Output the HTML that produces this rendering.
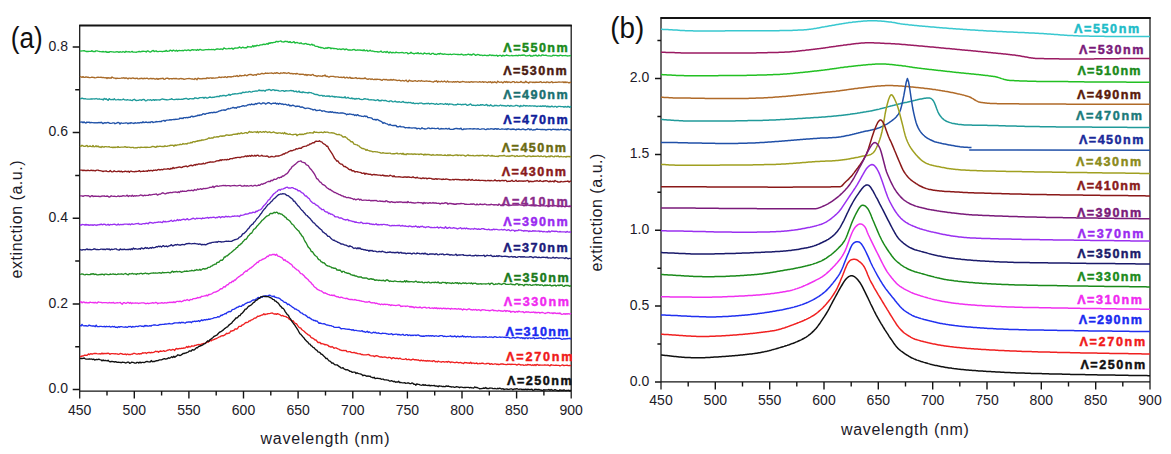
<!DOCTYPE html>
<html><head><meta charset="utf-8"><title>extinction spectra</title>
<style>
html,body{margin:0;padding:0;background:#fff;}
body{width:1171px;height:454px;overflow:hidden;}
svg{display:block;font-family:"Liberation Sans", sans-serif;}
</style></head>
<body>
<svg width="1171" height="454" viewBox="0 0 1171 454">
<rect width="1171" height="454" fill="#fff"/>
<path d="M79.2 25.6 L571.8000000000001 25.6" stroke="#141414" stroke-width="2" fill="none"/>
<path d="M79.7 25.0 L79.7 398.5 M571.2 25.0 L571.2 398.5 M79.7 391.0 L571.2 391.0" stroke="#141414" stroke-width="1.25" fill="none"/>
<path d="M107.0 391.0 L107.0 395.5 M134.3 391.0 L134.3 398.5 M161.6 391.0 L161.6 395.5 M188.9 391.0 L188.9 398.5 M216.2 391.0 L216.2 395.5 M243.5 391.0 L243.5 398.5 M270.8 391.0 L270.8 395.5 M298.1 391.0 L298.1 398.5 M325.5 391.0 L325.5 395.5 M352.8 391.0 L352.8 398.5 M380.1 391.0 L380.1 395.5 M407.4 391.0 L407.4 398.5 M434.7 391.0 L434.7 395.5 M462.0 391.0 L462.0 398.5 M489.3 391.0 L489.3 395.5 M516.6 391.0 L516.6 398.5 M543.9 391.0 L543.9 395.5" stroke="#141414" stroke-width="1.4" fill="none"/>
<path d="M72.7 389.5 L79.7 389.5 M75.2 346.7 L79.7 346.7 M72.7 303.9 L79.7 303.9 M75.2 261.1 L79.7 261.1 M72.7 218.2 L79.7 218.2 M75.2 175.4 L79.7 175.4 M72.7 132.6 L79.7 132.6 M75.2 89.8 L79.7 89.8 M72.7 47.0 L79.7 47.0" stroke="#141414" stroke-width="1.5" fill="none"/>
<text x="79.7" y="414.5" text-anchor="middle" font-size="14" fill="#1c1a28">450</text>
<text x="134.3" y="414.5" text-anchor="middle" font-size="14" fill="#1c1a28">500</text>
<text x="188.9" y="414.5" text-anchor="middle" font-size="14" fill="#1c1a28">550</text>
<text x="243.5" y="414.5" text-anchor="middle" font-size="14" fill="#1c1a28">600</text>
<text x="298.1" y="414.5" text-anchor="middle" font-size="14" fill="#1c1a28">650</text>
<text x="352.8" y="414.5" text-anchor="middle" font-size="14" fill="#1c1a28">700</text>
<text x="407.4" y="414.5" text-anchor="middle" font-size="14" fill="#1c1a28">750</text>
<text x="462.0" y="414.5" text-anchor="middle" font-size="14" fill="#1c1a28">800</text>
<text x="516.6" y="414.5" text-anchor="middle" font-size="14" fill="#1c1a28">850</text>
<text x="571.2" y="414.5" text-anchor="middle" font-size="14" fill="#1c1a28">900</text>
<text x="68" y="393.1" text-anchor="end" font-size="14" fill="#1c1a28">0.0</text>
<text x="68" y="307.5" text-anchor="end" font-size="14" fill="#1c1a28">0.2</text>
<text x="68" y="221.8" text-anchor="end" font-size="14" fill="#1c1a28">0.4</text>
<text x="68" y="136.2" text-anchor="end" font-size="14" fill="#1c1a28">0.6</text>
<text x="68" y="50.6" text-anchor="end" font-size="14" fill="#1c1a28">0.8</text>
<text x="260.5" y="443.8" textLength="129" lengthAdjust="spacing" font-size="16" fill="#1c1a28">wavelength (nm)</text>
<text transform="translate(22.2,278.4) rotate(-90)" x="0" y="0" textLength="118" lengthAdjust="spacing" font-size="16" fill="#1c1a28">extinction (a.u.)</text>
<text x="10.8" y="47.6" textLength="32" lengthAdjust="spacingAndGlyphs" font-size="30" fill="#111">(a)</text>
<path d="M80.0 50.8 L81.0 51.1 L82.0 50.9 L83.0 50.9 L84.0 50.7 L85.0 51.0 L86.0 51.5 L87.0 51.3 L88.0 51.5 L89.0 51.3 L90.0 51.4 L91.0 51.3 L92.0 50.7 L93.0 51.6 L94.0 51.5 L95.0 51.6 L96.0 50.8 L97.0 50.9 L98.0 51.2 L99.0 51.4 L100.0 51.7 L101.0 51.6 L102.0 51.8 L103.0 51.5 L104.0 51.8 L105.0 51.9 L106.0 51.5 L107.0 52.4 L108.0 52.0 L109.0 52.3 L110.0 51.7 L111.0 51.6 L112.0 51.8 L113.0 51.9 L114.0 52.2 L115.0 52.1 L116.0 51.8 L117.0 51.7 L118.0 51.8 L119.0 52.4 L120.0 51.7 L121.0 52.1 L122.0 52.2 L123.0 51.5 L124.0 52.0 L125.0 52.4 L126.0 51.3 L127.0 51.8 L128.0 51.9 L129.0 51.6 L130.0 52.1 L131.1 51.9 L132.1 51.4 L133.1 52.2 L134.1 52.1 L135.1 52.2 L136.1 52.3 L137.1 51.9 L138.1 51.8 L139.1 51.3 L140.1 52.0 L141.1 51.5 L142.1 51.5 L143.1 51.2 L144.1 51.3 L145.2 51.4 L146.2 52.0 L147.2 50.9 L148.2 51.0 L149.2 51.6 L150.2 52.0 L151.2 51.7 L152.2 50.8 L153.2 50.5 L154.2 51.5 L155.2 51.1 L156.2 50.9 L157.2 51.6 L158.2 51.6 L159.3 51.3 L160.3 51.3 L161.3 51.3 L162.3 51.7 L163.3 51.3 L164.3 51.2 L165.3 51.2 L166.3 50.4 L167.3 51.4 L168.3 51.2 L169.3 51.1 L170.3 50.1 L171.3 50.6 L172.3 51.1 L173.4 50.1 L174.4 50.6 L175.4 51.0 L176.4 50.2 L177.4 51.2 L178.4 50.7 L179.4 50.5 L180.4 50.6 L181.4 50.7 L182.4 50.5 L183.4 50.8 L184.4 50.1 L185.4 50.2 L186.4 50.6 L187.5 50.2 L188.5 49.9 L189.5 50.5 L190.5 50.6 L191.5 49.9 L192.5 49.6 L193.5 50.0 L194.5 49.9 L195.5 49.9 L196.5 50.4 L197.5 49.5 L198.6 50.3 L199.6 49.4 L200.6 49.5 L201.6 50.0 L202.6 50.1 L203.6 50.0 L204.6 49.8 L205.7 49.7 L206.7 49.6 L207.7 49.7 L208.7 49.4 L209.7 49.6 L210.7 49.6 L211.7 49.4 L212.8 49.6 L213.8 49.5 L214.8 50.0 L215.8 49.3 L216.8 49.0 L217.8 49.0 L218.8 49.1 L219.9 49.4 L220.9 48.9 L221.9 49.1 L222.9 49.5 L223.9 47.9 L224.9 48.4 L225.9 48.8 L227.0 48.8 L228.0 48.7 L229.0 48.4 L230.0 48.7 L231.0 48.5 L232.1 48.2 L233.1 49.2 L234.2 48.4 L235.2 48.0 L236.2 48.1 L237.3 48.0 L238.3 47.9 L239.3 46.9 L240.4 47.6 L241.4 48.1 L242.5 47.2 L243.5 47.5 L244.5 47.8 L245.6 47.6 L246.6 47.8 L247.6 46.5 L248.7 46.9 L249.7 46.8 L250.8 47.0 L251.8 47.0 L252.8 45.5 L253.8 46.7 L254.8 45.6 L255.8 46.2 L256.9 45.2 L257.9 45.6 L258.9 45.7 L259.9 45.0 L260.9 44.9 L261.9 44.9 L262.9 44.5 L263.9 44.2 L264.9 44.5 L266.0 44.1 L267.0 43.5 L268.0 44.3 L269.0 42.8 L270.0 43.3 L271.0 42.7 L272.0 42.7 L273.0 42.7 L274.0 42.4 L275.0 42.4 L276.0 41.5 L277.0 41.4 L278.0 42.0 L279.0 41.3 L280.0 41.2 L281.0 41.0 L282.0 41.9 L283.0 41.8 L284.0 42.0 L285.0 41.2 L286.0 41.6 L287.0 41.3 L288.0 42.0 L289.0 42.4 L290.0 41.6 L291.0 42.6 L292.0 42.5 L293.0 42.2 L294.0 41.7 L295.0 43.0 L296.0 42.6 L297.0 42.5 L298.0 42.9 L299.0 43.1 L300.0 43.5 L301.0 42.8 L302.0 43.7 L303.0 43.9 L304.0 44.0 L305.0 43.6 L306.0 43.5 L307.0 44.3 L308.0 44.2 L309.0 44.3 L310.0 45.0 L311.0 44.7 L312.0 44.2 L313.0 45.2 L314.0 44.9 L315.0 46.2 L316.0 46.3 L317.0 46.3 L318.0 46.7 L319.0 47.3 L320.0 47.2 L321.0 47.8 L322.0 47.5 L323.0 48.0 L324.0 48.3 L325.0 48.5 L326.0 47.7 L327.0 48.4 L328.0 47.5 L329.0 47.8 L330.0 47.6 L331.0 48.8 L332.0 48.0 L333.0 48.5 L334.0 48.5 L335.0 48.7 L336.0 48.6 L337.0 48.9 L338.0 49.5 L339.0 49.0 L340.0 49.2 L341.0 49.5 L342.0 49.1 L343.0 48.8 L344.0 49.2 L345.0 49.8 L346.0 48.9 L347.0 49.4 L348.0 50.0 L349.0 50.0 L350.0 49.8 L351.0 50.1 L352.0 50.0 L353.0 49.6 L354.0 49.5 L355.0 49.9 L356.0 50.5 L357.0 50.0 L358.0 50.0 L359.0 50.1 L360.0 49.9 L361.0 50.4 L362.0 50.1 L363.0 50.7 L364.0 49.8 L365.0 50.8 L366.0 50.6 L367.0 50.2 L368.0 51.2 L369.0 50.9 L370.0 50.2 L371.0 50.8 L372.0 51.2 L373.0 51.0 L374.0 51.5 L375.0 51.6 L376.0 51.6 L377.0 51.6 L378.0 52.0 L379.0 51.8 L380.0 51.8 L381.0 51.0 L382.0 52.1 L383.0 52.3 L384.0 51.8 L385.0 51.7 L386.0 52.6 L387.0 51.4 L388.0 52.2 L389.0 53.0 L390.0 51.9 L391.0 52.5 L392.0 52.9 L393.0 52.3 L394.0 52.6 L395.0 52.8 L396.0 52.2 L397.0 52.5 L398.0 52.7 L399.0 52.9 L400.0 52.7 L401.0 52.6 L402.0 52.4 L403.0 52.7 L404.0 53.1 L405.0 52.9 L406.0 52.6 L407.0 52.6 L408.0 53.9 L409.0 53.4 L410.0 53.3 L411.0 52.2 L412.1 53.3 L413.1 53.3 L414.1 53.8 L415.1 53.4 L416.1 53.2 L417.1 53.5 L418.1 52.6 L419.1 53.7 L420.1 53.5 L421.1 53.2 L422.2 53.9 L423.2 54.1 L424.2 53.0 L425.2 53.3 L426.2 53.7 L427.2 53.7 L428.2 53.5 L429.2 53.3 L430.2 54.4 L431.2 54.1 L432.2 53.3 L433.3 53.3 L434.3 54.4 L435.3 54.2 L436.3 54.5 L437.3 54.2 L438.3 53.6 L439.3 54.1 L440.3 53.3 L441.3 53.8 L442.3 54.0 L443.3 54.3 L444.4 53.9 L445.4 54.1 L446.4 54.3 L447.4 54.3 L448.4 54.5 L449.4 54.3 L450.4 54.2 L451.4 54.6 L452.4 54.4 L453.4 54.1 L454.5 54.2 L455.5 54.4 L456.5 54.4 L457.5 54.5 L458.5 54.5 L459.5 54.6 L460.5 54.5 L461.5 54.1 L462.5 54.7 L463.5 55.0 L464.5 54.8 L465.6 54.6 L466.6 54.8 L467.6 54.4 L468.6 54.1 L469.6 54.8 L470.6 54.5 L471.6 55.1 L472.6 54.4 L473.6 53.9 L474.6 54.5 L475.6 55.4 L476.7 54.8 L477.7 54.5 L478.7 54.7 L479.7 55.2 L480.7 55.2 L481.7 55.1 L482.7 55.6 L483.7 55.3 L484.7 55.1 L485.7 55.3 L486.8 55.7 L487.8 55.5 L488.8 55.5 L489.8 54.8 L490.8 55.1 L491.8 55.5 L492.8 55.1 L493.8 55.6 L494.8 55.5 L495.8 55.6 L496.8 55.2 L497.8 56.2 L498.8 55.7 L499.8 55.3 L500.8 55.4 L501.8 56.3 L502.8 55.2 L503.8 55.7 L504.8 55.7 L505.8 55.4 L506.8 55.0 L507.8 55.5 L508.8 55.6 L509.8 55.8 L510.8 55.7 L511.9 55.5 L512.9 55.8 L513.9 55.7 L514.9 55.6 L515.9 55.5 L516.9 55.4 L517.9 55.8 L518.9 55.2 L519.9 55.3 L520.9 55.5 L521.9 55.0 L522.9 55.4 L523.9 54.9 L524.9 55.3 L525.9 55.8 L526.9 55.8 L527.9 55.6 L528.9 55.5 L529.9 55.1 L530.9 56.2 L531.9 55.8 L532.9 56.0 L533.9 55.3 L534.9 55.6 L535.9 55.0 L536.9 55.9 L537.9 56.0 L538.9 55.0 L539.9 55.6 L540.9 55.9 L541.9 55.0 L542.9 55.0 L543.9 55.3 L544.9 55.4 L545.9 55.2 L546.9 55.7 L547.9 55.8 L548.9 55.9 L549.9 55.9 L550.9 56.2 L552.0 56.1 L553.0 55.2 L554.0 55.5 L555.0 55.3 L556.0 55.3 L557.0 55.7 L558.0 55.7 L559.0 55.9 L560.0 55.2 L561.0 55.3 L562.0 55.7 L563.0 55.7 L564.0 55.6 L565.0 55.7 L566.0 55.5 L567.0 56.0 L568.0 55.9 L569.0 55.8 L570.0 55.6 L571.0 55.7" stroke="#1cbc3c" stroke-width="1.35" fill="none" stroke-linejoin="round"/>
<path d="M80.0 76.2 L81.0 76.9 L82.0 77.3 L83.0 76.7 L84.0 77.3 L85.0 77.3 L86.0 76.8 L87.0 77.2 L88.0 77.2 L89.0 77.5 L90.0 77.6 L91.0 77.4 L92.0 77.1 L93.0 77.4 L94.0 77.5 L95.0 77.8 L96.0 77.6 L97.0 77.3 L98.0 77.1 L99.0 77.4 L100.0 77.3 L101.0 77.2 L102.0 77.6 L103.0 77.5 L104.0 77.7 L105.0 77.9 L106.0 77.6 L107.0 78.6 L108.0 77.6 L109.0 78.2 L110.0 77.8 L111.0 78.2 L112.0 77.0 L113.0 77.6 L114.0 78.0 L115.0 78.1 L116.0 78.7 L117.0 78.1 L118.0 78.4 L119.0 78.3 L120.0 78.3 L121.0 78.2 L122.0 78.0 L123.0 78.2 L124.0 77.7 L125.0 78.5 L126.0 77.8 L127.0 78.2 L128.0 78.9 L129.0 78.1 L130.0 78.2 L131.0 78.6 L132.0 78.2 L133.0 78.0 L134.0 78.4 L135.0 78.5 L136.0 78.5 L137.0 78.0 L138.0 78.9 L139.0 78.9 L140.0 78.4 L141.0 78.5 L142.0 78.2 L143.0 78.9 L144.0 78.2 L145.0 78.7 L146.0 78.3 L147.0 78.2 L148.0 78.7 L149.0 79.0 L150.0 78.5 L151.0 78.3 L152.0 78.8 L153.0 78.5 L154.0 78.7 L155.0 79.1 L156.0 79.0 L157.0 78.4 L158.0 79.4 L159.0 78.6 L160.0 78.9 L161.0 78.4 L162.0 78.6 L163.0 78.1 L164.0 79.3 L165.0 79.2 L166.0 78.3 L167.0 78.2 L168.0 78.2 L169.0 79.1 L170.0 78.6 L171.0 78.7 L172.0 78.7 L173.0 78.7 L174.0 78.4 L175.0 78.8 L176.0 78.3 L177.0 78.8 L178.0 78.9 L179.0 79.0 L180.0 78.7 L181.0 78.5 L182.0 78.9 L183.0 78.7 L184.0 79.4 L185.0 79.1 L186.0 78.8 L187.0 78.7 L188.0 78.6 L189.0 78.5 L190.0 78.7 L191.0 78.9 L192.0 79.0 L193.0 79.0 L194.0 79.5 L195.0 78.5 L196.0 78.8 L197.0 79.7 L198.0 78.1 L199.0 78.5 L200.0 78.8 L201.0 78.7 L202.0 78.8 L203.0 78.5 L204.0 78.7 L205.0 78.5 L206.0 78.7 L207.0 77.8 L208.0 78.0 L209.0 78.3 L210.0 77.9 L211.0 77.8 L212.0 78.3 L213.0 77.8 L214.0 78.1 L215.0 78.1 L216.0 77.9 L217.0 77.9 L218.0 77.6 L219.0 77.0 L220.0 77.4 L221.0 77.5 L222.0 77.1 L223.0 77.2 L224.0 77.4 L225.0 76.7 L226.0 77.2 L227.0 77.5 L228.0 76.6 L229.0 76.8 L230.0 76.6 L231.0 77.1 L232.0 76.6 L233.0 76.7 L234.0 76.1 L235.0 76.2 L236.0 76.2 L237.0 75.5 L238.0 76.5 L239.0 76.2 L240.0 75.2 L241.0 76.0 L242.0 75.6 L243.0 75.7 L244.0 75.6 L245.0 74.9 L246.0 75.3 L247.0 75.8 L248.0 75.0 L249.0 74.7 L250.0 74.5 L251.0 74.5 L252.1 74.9 L253.1 75.3 L254.1 74.8 L255.1 74.6 L256.2 75.2 L257.2 74.1 L258.2 74.0 L259.3 74.3 L260.3 74.2 L261.3 73.5 L262.4 73.4 L263.4 73.8 L264.4 73.7 L265.4 73.0 L266.5 73.3 L267.5 73.1 L268.5 73.4 L269.6 73.2 L270.6 73.1 L271.6 73.0 L272.6 73.4 L273.7 73.5 L274.7 72.9 L275.7 73.3 L276.7 72.7 L277.7 73.0 L278.7 73.3 L279.8 73.6 L280.8 72.9 L281.8 73.1 L282.8 73.2 L283.8 72.6 L284.8 73.2 L285.8 73.0 L286.8 73.5 L287.8 73.0 L288.9 72.7 L289.9 73.5 L290.9 73.7 L291.9 73.4 L292.9 74.0 L293.9 73.7 L294.9 73.6 L295.9 74.1 L296.9 73.4 L297.9 73.8 L299.0 74.1 L300.0 74.5 L301.0 74.2 L302.0 74.4 L303.0 74.2 L304.0 74.6 L305.0 75.1 L306.0 74.4 L307.0 75.5 L308.0 74.6 L309.0 74.9 L310.0 75.0 L311.0 75.4 L312.0 74.7 L313.0 74.5 L314.0 75.5 L315.0 75.7 L316.0 75.7 L317.0 76.5 L318.0 75.7 L319.0 75.8 L320.0 76.1 L321.0 76.0 L322.0 76.5 L323.0 75.6 L324.0 75.9 L325.0 74.9 L326.0 76.5 L327.0 76.1 L328.0 76.7 L329.0 77.2 L330.0 76.5 L331.0 76.4 L332.0 76.4 L333.0 76.4 L334.0 76.5 L335.0 77.0 L336.0 76.9 L337.0 76.9 L338.0 76.9 L339.0 77.4 L340.0 77.3 L341.0 77.1 L342.0 77.5 L343.0 77.3 L344.0 77.0 L345.0 78.0 L346.0 77.7 L347.0 77.2 L348.0 78.0 L349.0 77.8 L350.0 77.2 L351.0 78.4 L352.0 78.0 L353.0 78.3 L354.0 78.1 L355.0 78.0 L356.0 77.6 L357.0 78.5 L358.0 78.3 L359.0 78.2 L360.0 78.5 L361.0 78.5 L362.0 78.7 L363.0 78.4 L364.0 78.6 L365.0 77.9 L366.0 78.6 L367.0 79.0 L368.0 79.3 L369.0 78.8 L370.0 78.9 L371.0 79.5 L372.0 78.9 L373.0 79.4 L374.0 79.7 L375.0 79.2 L376.0 79.7 L377.0 79.1 L378.0 79.4 L379.0 79.4 L380.0 79.5 L381.0 79.9 L382.0 80.4 L383.1 79.4 L384.1 79.4 L385.1 79.9 L386.1 79.4 L387.1 80.0 L388.1 80.0 L389.1 79.8 L390.1 80.1 L391.1 79.4 L392.1 80.3 L393.1 79.5 L394.1 79.9 L395.2 80.0 L396.2 80.1 L397.2 80.6 L398.2 80.3 L399.2 80.2 L400.2 80.6 L401.2 81.0 L402.2 80.5 L403.2 80.7 L404.2 81.0 L405.2 80.7 L406.3 80.2 L407.3 81.6 L408.3 81.5 L409.3 80.1 L410.3 80.8 L411.3 81.0 L412.3 81.2 L413.3 81.2 L414.3 80.9 L415.3 80.6 L416.3 81.1 L417.4 81.4 L418.4 80.7 L419.4 80.8 L420.4 81.2 L421.4 80.5 L422.4 81.1 L423.4 81.1 L424.4 81.4 L425.4 81.1 L426.4 81.0 L427.4 81.2 L428.4 81.4 L429.5 81.2 L430.5 81.4 L431.5 81.7 L432.5 81.9 L433.5 82.1 L434.5 81.2 L435.5 81.4 L436.5 80.7 L437.5 82.2 L438.5 81.3 L439.5 81.6 L440.5 81.8 L441.5 81.1 L442.5 81.8 L443.5 81.6 L444.5 81.0 L445.5 81.8 L446.5 82.1 L447.5 81.0 L448.6 82.0 L449.6 81.8 L450.6 81.9 L451.6 81.9 L452.6 82.2 L453.6 81.7 L454.6 82.1 L455.6 81.6 L456.6 82.0 L457.6 81.5 L458.6 81.8 L459.6 82.4 L460.6 82.0 L461.6 81.8 L462.6 81.5 L463.6 81.6 L464.6 81.9 L465.6 82.2 L466.6 82.0 L467.6 82.1 L468.6 81.9 L469.6 82.4 L470.6 81.8 L471.6 81.7 L472.6 82.2 L473.6 82.0 L474.6 81.9 L475.7 81.8 L476.7 81.9 L477.7 82.2 L478.7 82.1 L479.7 81.6 L480.7 82.1 L481.7 82.1 L482.7 81.7 L483.7 82.3 L484.7 81.9 L485.7 81.9 L486.7 82.3 L487.7 82.5 L488.7 81.8 L489.7 82.2 L490.7 81.7 L491.7 82.9 L492.7 81.9 L493.7 82.5 L494.7 81.8 L495.7 82.4 L496.7 82.9 L497.7 81.2 L498.7 81.9 L499.7 82.3 L500.7 82.1 L501.7 81.9 L502.8 82.9 L503.8 82.1 L504.8 81.5 L505.8 82.4 L506.8 81.5 L507.8 82.5 L508.8 81.9 L509.8 82.2 L510.8 82.6 L511.8 82.2 L512.8 81.7 L513.8 81.6 L514.8 82.6 L515.8 82.4 L516.8 81.9 L517.8 82.5 L518.8 82.3 L519.8 82.4 L520.8 81.4 L521.8 82.1 L522.8 82.5 L523.8 82.4 L524.8 82.5 L525.8 81.3 L526.8 82.3 L527.8 82.4 L528.8 83.1 L529.8 81.9 L530.9 82.1 L531.9 82.2 L532.9 82.5 L533.9 82.1 L534.9 82.6 L535.9 82.0 L536.9 82.3 L537.9 82.1 L538.9 82.3 L539.9 82.0 L540.9 81.7 L541.9 82.6 L542.9 82.4 L543.9 82.1 L544.9 82.3 L545.9 82.6 L546.9 81.9 L547.9 82.2 L548.9 82.5 L549.9 82.5 L550.9 82.2 L551.9 81.6 L552.9 82.7 L553.9 82.4 L554.9 82.3 L555.9 82.2 L556.9 82.4 L558.0 82.2 L559.0 82.0 L560.0 82.1 L561.0 82.1 L562.0 82.1 L563.0 81.9 L564.0 82.6 L565.0 81.9 L566.0 82.6 L567.0 82.0 L568.0 82.5 L569.0 82.9 L570.0 82.5 L571.0 82.1" stroke="#a86a28" stroke-width="1.35" fill="none" stroke-linejoin="round"/>
<path d="M80.0 98.7 L81.0 98.8 L82.0 98.1 L83.0 98.5 L84.0 98.8 L85.0 98.6 L86.1 98.9 L87.1 99.1 L88.1 99.1 L89.1 99.2 L90.1 99.1 L91.1 98.8 L92.1 99.0 L93.1 98.9 L94.1 98.9 L95.1 99.0 L96.1 98.5 L97.1 99.0 L98.2 99.1 L99.2 98.8 L100.2 99.2 L101.2 99.4 L102.2 99.2 L103.2 100.0 L104.2 98.4 L105.2 99.3 L106.2 98.7 L107.2 99.7 L108.2 100.3 L109.2 98.6 L110.3 99.5 L111.3 99.7 L112.3 99.4 L113.3 99.7 L114.3 98.8 L115.3 99.9 L116.3 99.8 L117.3 99.7 L118.3 99.5 L119.3 99.9 L120.3 99.6 L121.3 99.8 L122.4 99.6 L123.4 99.0 L124.4 99.8 L125.4 99.9 L126.4 100.1 L127.4 99.6 L128.4 99.9 L129.4 100.1 L130.4 100.0 L131.4 100.4 L132.4 100.6 L133.4 99.6 L134.5 99.3 L135.5 100.3 L136.5 100.5 L137.5 100.3 L138.5 100.3 L139.5 99.8 L140.5 99.8 L141.5 100.3 L142.5 99.7 L143.5 99.4 L144.5 99.7 L145.5 100.9 L146.6 100.7 L147.6 99.8 L148.6 99.8 L149.6 100.1 L150.6 99.7 L151.6 100.5 L152.6 100.0 L153.6 99.6 L154.6 100.4 L155.6 99.7 L156.6 100.0 L157.6 99.9 L158.6 99.8 L159.7 100.0 L160.7 99.6 L161.7 99.2 L162.7 99.0 L163.7 99.3 L164.7 99.5 L165.7 99.7 L166.7 99.7 L167.7 99.8 L168.7 99.6 L169.7 99.3 L170.7 99.3 L171.7 98.7 L172.7 99.4 L173.8 99.6 L174.8 99.5 L175.8 99.3 L176.8 99.2 L177.8 99.5 L178.8 99.2 L179.8 99.4 L180.8 99.3 L181.8 99.1 L182.8 99.4 L183.8 98.7 L184.8 98.7 L185.8 98.5 L186.8 98.5 L187.9 99.2 L188.9 99.2 L189.9 98.6 L190.9 98.7 L191.9 98.9 L192.9 98.7 L193.9 98.7 L194.9 97.8 L195.9 98.0 L196.9 98.3 L197.9 98.6 L198.9 98.0 L199.9 97.6 L200.9 97.7 L202.0 97.6 L203.0 97.4 L204.0 98.2 L205.0 97.4 L206.0 97.5 L207.0 98.2 L208.0 97.8 L209.0 97.4 L210.0 97.0 L211.0 97.3 L212.0 97.6 L213.0 97.2 L214.0 97.3 L215.0 96.8 L216.0 96.8 L217.0 96.4 L218.0 96.5 L219.0 96.7 L220.0 95.6 L221.0 96.0 L222.0 95.9 L223.0 95.5 L224.0 95.4 L225.0 95.7 L226.0 96.0 L227.0 95.3 L228.0 95.1 L229.0 94.3 L230.0 95.4 L231.0 94.6 L232.0 94.4 L233.0 93.9 L234.0 94.1 L235.0 93.6 L236.0 93.9 L237.0 93.9 L238.0 93.6 L239.0 93.5 L240.0 93.0 L241.0 93.6 L242.0 92.8 L243.0 92.2 L244.0 92.6 L245.0 92.3 L246.0 92.0 L247.0 92.1 L248.0 92.2 L249.0 91.5 L250.0 91.7 L251.0 92.1 L252.0 91.8 L253.0 91.3 L254.0 91.3 L255.0 91.1 L256.0 91.0 L257.0 91.2 L258.0 90.8 L259.0 89.9 L260.0 90.7 L261.0 90.3 L262.0 90.8 L263.0 90.3 L264.0 90.5 L265.0 91.2 L266.0 90.1 L267.0 90.0 L268.0 89.9 L269.0 89.5 L270.0 89.7 L271.0 90.5 L272.0 90.1 L273.0 89.7 L274.0 89.8 L275.0 90.6 L276.0 90.1 L277.0 90.3 L278.0 90.5 L279.0 90.9 L280.0 91.1 L281.0 90.9 L282.0 90.6 L283.0 90.6 L284.0 91.2 L285.0 91.2 L286.0 90.6 L287.0 90.9 L288.0 90.9 L289.0 90.9 L290.0 90.7 L291.0 90.5 L292.0 90.9 L293.0 90.6 L294.0 91.6 L295.0 91.5 L296.0 91.0 L297.0 92.0 L298.0 91.9 L299.0 91.0 L300.0 92.4 L301.0 92.2 L302.0 92.7 L303.0 91.7 L304.0 92.4 L305.0 92.5 L306.0 92.6 L307.0 92.7 L308.0 93.1 L309.0 92.3 L310.0 92.6 L311.0 92.7 L312.0 93.2 L313.0 93.4 L314.0 94.0 L315.0 94.3 L316.0 94.5 L317.0 94.5 L318.0 94.8 L319.0 95.5 L320.0 95.6 L321.0 95.4 L322.0 95.4 L323.0 96.2 L324.0 95.5 L325.0 96.1 L326.0 96.3 L327.0 95.9 L328.0 96.4 L329.0 95.8 L330.0 96.7 L331.0 96.5 L332.0 96.0 L333.0 96.8 L334.0 96.4 L335.0 97.2 L336.0 96.7 L337.0 96.9 L338.0 97.2 L339.0 97.0 L340.0 97.3 L341.0 97.1 L342.0 97.7 L343.0 97.5 L344.0 97.7 L345.0 96.7 L346.0 98.2 L347.0 97.9 L348.0 97.3 L349.0 98.1 L350.0 98.3 L351.0 98.6 L352.0 97.9 L353.0 98.9 L354.0 98.4 L355.0 99.3 L356.0 98.5 L357.0 98.9 L358.0 98.6 L359.0 98.4 L360.0 99.3 L361.0 99.3 L362.0 99.6 L363.0 99.4 L364.0 99.0 L365.0 98.7 L366.0 99.1 L367.0 99.2 L368.0 99.2 L369.0 99.8 L370.0 99.8 L371.0 99.7 L372.0 99.9 L373.0 99.8 L374.0 100.0 L375.0 100.3 L376.0 100.5 L377.0 100.0 L378.0 99.7 L379.0 100.9 L380.0 100.5 L381.0 100.9 L382.0 100.0 L383.1 100.5 L384.1 100.7 L385.1 100.3 L386.1 100.7 L387.1 101.2 L388.1 101.4 L389.1 101.7 L390.1 100.9 L391.1 100.8 L392.1 101.5 L393.1 101.8 L394.1 101.6 L395.2 101.1 L396.2 101.9 L397.2 102.0 L398.2 102.0 L399.2 101.7 L400.2 102.1 L401.2 102.3 L402.2 101.9 L403.2 101.5 L404.2 102.4 L405.2 102.5 L406.3 102.4 L407.3 102.8 L408.3 102.3 L409.3 102.6 L410.3 102.5 L411.3 102.9 L412.3 103.3 L413.3 102.8 L414.3 103.6 L415.3 103.5 L416.3 103.3 L417.4 103.3 L418.4 103.8 L419.4 103.1 L420.4 103.2 L421.4 103.0 L422.4 103.5 L423.4 103.9 L424.4 103.7 L425.4 103.7 L426.4 103.5 L427.4 103.7 L428.4 103.2 L429.5 104.1 L430.5 103.6 L431.5 103.4 L432.5 103.6 L433.5 103.6 L434.5 104.2 L435.5 104.3 L436.5 103.5 L437.5 104.3 L438.5 104.3 L439.5 103.9 L440.5 103.6 L441.5 103.9 L442.5 103.9 L443.5 104.3 L444.5 104.1 L445.5 103.5 L446.5 104.4 L447.5 103.8 L448.6 104.7 L449.6 103.9 L450.6 104.1 L451.6 104.1 L452.6 104.3 L453.6 104.9 L454.6 104.8 L455.6 104.7 L456.6 104.7 L457.6 104.0 L458.6 104.4 L459.6 104.4 L460.6 104.3 L461.6 104.9 L462.6 104.4 L463.6 104.5 L464.6 104.4 L465.6 104.1 L466.6 105.0 L467.6 105.3 L468.6 104.9 L469.6 104.5 L470.6 103.9 L471.6 105.0 L472.6 105.4 L473.6 105.1 L474.6 105.3 L475.7 105.5 L476.7 105.4 L477.7 104.9 L478.7 105.4 L479.7 105.4 L480.7 104.6 L481.7 105.0 L482.7 104.7 L483.7 105.1 L484.7 105.4 L485.7 104.8 L486.7 104.5 L487.7 105.7 L488.7 105.4 L489.7 105.8 L490.7 104.8 L491.7 105.7 L492.7 106.1 L493.7 106.1 L494.7 105.3 L495.7 105.5 L496.7 105.4 L497.7 105.8 L498.7 105.8 L499.7 105.5 L500.7 105.0 L501.7 105.8 L502.8 105.4 L503.8 105.8 L504.8 105.6 L505.8 106.1 L506.8 106.0 L507.8 105.4 L508.8 105.7 L509.8 106.3 L510.8 105.5 L511.8 105.8 L512.8 106.1 L513.8 106.1 L514.8 105.9 L515.8 105.3 L516.8 105.3 L517.8 105.9 L518.8 105.9 L519.8 106.7 L520.8 105.5 L521.8 106.2 L522.8 106.1 L523.8 105.3 L524.8 105.6 L525.8 106.0 L526.8 105.7 L527.8 105.9 L528.8 106.1 L529.8 105.7 L530.9 106.1 L531.9 105.8 L532.9 105.8 L533.9 106.2 L534.9 105.8 L535.9 106.2 L536.9 106.6 L537.9 106.1 L538.9 106.1 L539.9 106.4 L540.9 106.0 L541.9 106.5 L542.9 105.7 L543.9 106.4 L544.9 106.0 L545.9 106.0 L546.9 106.9 L547.9 106.0 L548.9 106.9 L549.9 106.5 L550.9 106.8 L551.9 106.0 L552.9 106.8 L553.9 106.9 L554.9 106.4 L555.9 106.4 L556.9 107.3 L558.0 106.5 L559.0 106.3 L560.0 106.3 L561.0 106.7 L562.0 106.6 L563.0 106.6 L564.0 107.2 L565.0 106.5 L566.0 106.8 L567.0 107.1 L568.0 106.3 L569.0 107.0 L570.0 107.3 L571.0 106.2" stroke="#1e9a9a" stroke-width="1.35" fill="none" stroke-linejoin="round"/>
<path d="M80.0 122.1 L81.0 122.1 L82.0 121.9 L83.0 122.7 L84.0 121.9 L85.0 122.7 L86.0 123.1 L87.0 122.0 L88.0 122.5 L89.0 122.0 L90.0 122.9 L91.0 122.4 L92.0 122.6 L93.0 122.7 L94.0 122.9 L95.0 122.6 L96.0 122.8 L97.0 122.6 L98.0 122.9 L99.0 122.4 L100.0 122.9 L101.0 122.2 L102.0 122.8 L103.0 123.6 L104.0 123.0 L105.0 122.6 L106.0 123.1 L107.0 122.7 L108.0 122.5 L109.0 122.8 L110.0 123.4 L111.0 123.3 L112.0 123.1 L113.0 122.8 L114.0 122.8 L115.0 123.7 L116.0 123.3 L117.0 122.9 L118.0 122.5 L119.0 122.7 L120.0 124.1 L121.0 122.8 L122.0 123.2 L123.0 123.3 L124.0 123.2 L125.0 123.1 L126.0 122.8 L127.0 122.9 L128.0 123.8 L129.0 122.9 L130.0 123.5 L131.0 122.6 L132.0 123.1 L133.0 123.2 L134.0 123.5 L135.0 122.7 L136.0 123.2 L137.0 123.1 L138.0 122.7 L139.0 123.1 L140.0 122.6 L141.0 122.5 L142.0 122.8 L143.0 121.8 L144.0 122.6 L145.0 122.3 L146.0 122.0 L147.0 122.3 L148.0 122.7 L149.0 122.2 L150.0 122.7 L151.0 121.8 L152.0 121.6 L153.0 122.6 L154.0 122.1 L155.0 122.2 L156.0 121.5 L157.0 121.9 L158.0 121.6 L159.0 121.7 L160.0 121.4 L161.0 121.7 L162.0 120.9 L163.0 120.7 L164.0 120.4 L165.0 121.2 L166.0 120.4 L167.0 120.2 L168.0 120.1 L169.0 120.2 L170.0 119.7 L171.0 120.0 L172.0 119.7 L173.0 119.6 L174.0 119.3 L175.0 119.5 L176.0 119.2 L177.0 119.3 L178.0 119.2 L179.0 119.1 L180.0 118.0 L181.0 118.5 L182.0 118.2 L183.0 118.6 L184.0 117.6 L185.0 117.7 L186.0 117.7 L187.0 117.5 L188.0 117.8 L189.0 117.1 L190.0 117.4 L191.0 116.4 L192.0 116.1 L193.0 116.9 L194.0 116.5 L195.0 116.3 L196.0 116.0 L197.0 115.9 L198.0 115.1 L199.0 115.6 L200.0 114.9 L201.0 115.2 L202.0 114.7 L203.0 113.7 L204.0 113.8 L205.0 114.4 L206.0 113.7 L207.0 113.4 L208.0 113.4 L209.0 113.0 L210.0 112.7 L211.0 112.7 L212.0 112.5 L213.0 112.8 L214.0 112.1 L215.0 112.5 L216.0 112.3 L217.0 112.0 L218.0 111.6 L219.0 111.1 L220.0 110.8 L221.0 110.5 L222.0 110.1 L223.0 110.2 L224.0 109.8 L225.0 110.4 L226.0 109.8 L227.1 109.2 L228.1 108.5 L229.1 108.9 L230.1 108.6 L231.1 108.1 L232.1 107.9 L233.1 107.3 L234.2 108.0 L235.2 107.6 L236.2 108.3 L237.2 107.2 L238.2 106.9 L239.2 107.2 L240.2 106.6 L241.3 106.4 L242.3 106.0 L243.3 105.7 L244.3 106.2 L245.3 105.8 L246.3 105.9 L247.4 105.0 L248.4 104.9 L249.4 104.4 L250.4 104.9 L251.4 103.9 L252.4 104.5 L253.4 104.5 L254.5 104.5 L255.5 103.5 L256.5 104.1 L257.5 103.4 L258.5 103.2 L259.5 103.0 L260.5 103.8 L261.5 103.9 L262.5 103.0 L263.5 103.0 L264.5 103.1 L265.5 104.1 L266.5 103.6 L267.5 103.0 L268.5 102.6 L269.5 103.0 L270.5 103.7 L271.5 104.0 L272.5 103.3 L273.5 103.2 L274.5 103.4 L275.5 103.0 L276.5 104.0 L277.5 103.4 L278.5 104.2 L279.5 103.3 L280.5 103.6 L281.5 104.2 L282.6 103.9 L283.6 104.6 L284.6 104.4 L285.6 104.2 L286.7 104.9 L287.7 105.2 L288.7 104.4 L289.7 105.8 L290.8 105.5 L291.8 105.8 L292.8 105.1 L293.8 105.7 L294.9 106.0 L295.9 106.7 L296.9 106.0 L297.9 106.3 L299.0 106.1 L300.0 106.9 L301.0 107.3 L302.0 106.8 L303.0 107.3 L304.0 107.9 L305.0 108.5 L306.0 108.3 L307.0 108.2 L308.0 108.1 L309.0 108.3 L310.0 108.6 L311.0 109.1 L312.0 109.2 L313.0 110.0 L314.0 109.7 L315.0 109.4 L316.0 110.5 L317.0 110.5 L318.0 110.4 L319.0 110.3 L320.0 110.0 L321.0 110.5 L322.0 111.3 L323.0 110.9 L324.1 110.8 L325.1 111.5 L326.1 111.6 L327.1 111.9 L328.2 112.0 L329.2 112.3 L330.2 111.6 L331.2 112.4 L332.3 111.8 L333.3 112.5 L334.3 112.4 L335.4 112.5 L336.4 112.9 L337.4 112.6 L338.4 113.1 L339.5 113.2 L340.5 113.0 L341.5 112.9 L342.5 113.0 L343.5 113.2 L344.5 113.5 L345.5 113.6 L346.6 114.8 L347.6 114.1 L348.6 114.3 L349.6 113.9 L350.6 114.1 L351.6 114.4 L352.6 114.7 L353.6 114.4 L354.6 115.5 L355.6 114.9 L356.6 115.6 L357.6 114.6 L358.6 115.5 L359.7 115.8 L360.7 115.9 L361.7 116.3 L362.7 116.3 L363.7 116.5 L364.7 115.9 L365.7 116.6 L366.8 116.2 L367.8 117.5 L368.8 117.6 L369.8 117.7 L370.9 117.8 L371.9 118.2 L372.9 119.3 L373.9 119.6 L374.9 119.3 L376.0 120.1 L377.0 119.4 L378.0 119.7 L379.0 120.5 L380.0 120.8 L381.0 121.3 L382.0 122.0 L383.0 123.4 L384.0 122.5 L385.0 123.2 L386.0 123.6 L387.0 123.8 L388.0 124.5 L389.0 125.1 L390.0 124.3 L391.0 125.1 L392.0 125.3 L393.0 125.7 L394.0 125.3 L395.0 125.5 L396.0 125.5 L397.0 126.7 L398.0 126.7 L399.0 126.8 L400.0 126.1 L401.0 126.9 L402.0 126.9 L403.0 126.8 L404.0 127.0 L405.0 127.7 L406.0 127.7 L407.0 127.6 L408.0 127.8 L409.0 127.5 L410.0 127.8 L411.0 127.9 L412.0 128.1 L413.0 127.9 L414.0 127.9 L415.0 128.0 L416.0 127.9 L417.0 128.9 L418.0 128.3 L419.0 128.3 L420.0 129.0 L421.0 128.7 L422.0 127.7 L423.0 128.5 L424.0 128.6 L425.0 129.0 L426.0 128.8 L427.0 128.6 L428.0 128.0 L429.0 128.1 L430.0 128.5 L431.0 128.6 L432.0 128.1 L433.0 128.3 L434.0 128.3 L435.0 128.5 L436.0 128.6 L437.0 128.4 L438.0 128.1 L439.0 129.0 L440.0 129.1 L441.0 128.5 L442.0 128.9 L443.0 128.7 L444.0 128.8 L445.0 128.8 L446.0 128.4 L447.0 128.8 L448.0 129.0 L449.0 128.3 L450.0 129.4 L451.0 129.4 L452.0 129.3 L453.0 129.4 L454.0 129.0 L455.0 128.6 L456.0 128.5 L457.0 128.5 L458.0 128.8 L459.0 128.7 L460.0 129.0 L461.0 128.1 L462.0 129.6 L463.0 129.6 L464.0 128.8 L465.0 129.1 L466.0 129.0 L467.0 128.9 L468.0 128.8 L469.0 128.8 L470.0 128.6 L471.0 128.9 L472.0 128.9 L473.0 129.0 L474.0 128.6 L475.0 128.9 L476.0 128.9 L477.0 129.1 L478.0 128.6 L479.0 129.1 L480.0 129.3 L481.0 129.2 L482.0 128.8 L483.0 128.8 L484.0 128.9 L485.0 129.3 L486.0 129.6 L487.0 129.0 L488.0 128.8 L489.0 129.2 L490.0 129.1 L491.0 128.7 L492.0 128.8 L493.0 129.0 L494.0 129.3 L495.0 128.7 L496.0 128.7 L497.0 129.3 L498.0 128.7 L499.0 129.2 L500.0 129.3 L501.0 129.1 L502.0 128.8 L503.0 129.1 L504.0 129.1 L505.0 129.3 L506.0 128.9 L507.0 129.6 L508.0 128.6 L509.0 129.1 L510.0 129.2 L511.0 129.6 L512.0 129.0 L513.0 129.4 L514.0 129.0 L515.0 129.5 L516.0 129.9 L517.0 129.1 L518.0 129.4 L519.0 129.0 L520.0 129.6 L521.0 129.7 L522.0 129.3 L523.0 128.9 L524.0 129.5 L525.0 129.7 L526.0 129.7 L527.0 129.6 L528.0 128.7 L529.0 129.1 L530.0 129.9 L531.0 129.0 L532.0 129.8 L533.0 130.1 L534.0 129.7 L535.0 129.8 L536.0 129.3 L537.0 129.0 L538.0 129.4 L539.0 129.4 L540.0 129.4 L541.0 129.7 L542.0 129.4 L543.0 129.5 L544.0 129.6 L545.0 129.5 L546.0 130.1 L547.0 129.7 L548.0 129.5 L549.0 129.4 L550.0 129.3 L551.0 130.0 L552.0 129.6 L553.0 129.2 L554.0 129.4 L555.0 129.5 L556.0 129.4 L557.0 130.0 L558.0 129.2 L559.0 129.8 L560.0 129.7 L561.0 129.2 L562.0 129.6 L563.0 129.6 L564.0 129.8 L565.0 129.5 L566.0 129.8 L567.0 129.1 L568.0 129.3 L569.0 130.0 L570.0 130.1 L571.0 129.7" stroke="#2052a8" stroke-width="1.35" fill="none" stroke-linejoin="round"/>
<path d="M80.0 145.8 L81.0 146.4 L82.0 145.3 L83.0 145.8 L84.0 146.3 L85.0 146.4 L86.0 145.8 L87.0 145.5 L88.0 146.7 L89.0 146.3 L90.0 146.0 L91.0 146.4 L92.0 146.7 L93.0 145.5 L94.0 146.8 L95.0 146.7 L96.0 145.8 L97.0 146.8 L98.0 146.0 L99.0 147.0 L100.0 146.8 L101.0 147.5 L102.0 146.5 L103.0 146.8 L104.0 147.2 L105.0 146.6 L106.0 146.6 L107.0 146.8 L108.0 146.9 L109.0 146.6 L110.0 147.2 L111.0 147.3 L112.0 147.1 L113.0 147.7 L114.0 147.0 L115.0 147.6 L116.0 147.0 L117.0 147.5 L118.0 146.6 L119.0 147.4 L120.0 147.3 L121.0 147.2 L122.0 147.1 L123.0 147.2 L124.0 147.1 L125.0 146.6 L126.0 147.2 L127.0 147.2 L128.0 147.2 L129.0 147.1 L130.0 147.4 L131.0 147.7 L132.0 147.4 L133.0 147.3 L134.0 147.9 L135.0 147.8 L136.0 147.7 L137.0 147.8 L138.0 147.3 L139.0 147.3 L140.0 147.7 L141.0 147.1 L142.0 147.3 L143.0 147.4 L144.0 147.4 L145.0 147.1 L146.0 147.5 L147.0 147.1 L148.0 147.4 L149.0 147.4 L150.0 147.3 L151.0 147.2 L152.0 146.5 L153.0 146.4 L154.0 146.6 L155.0 147.0 L156.0 147.3 L157.0 146.2 L158.0 146.7 L159.0 146.3 L160.0 146.2 L161.0 146.3 L162.0 146.6 L163.0 146.3 L164.0 146.6 L165.0 145.8 L166.0 146.3 L167.0 146.3 L168.0 145.9 L169.0 145.9 L170.0 145.5 L171.0 145.2 L172.0 145.3 L173.0 145.1 L174.0 146.2 L175.0 144.9 L176.0 145.6 L177.0 145.0 L178.0 144.9 L179.0 144.9 L180.0 144.2 L181.0 144.7 L182.0 144.4 L183.0 143.5 L184.0 144.1 L185.0 143.9 L186.0 143.7 L187.0 144.0 L188.0 143.1 L189.0 143.2 L190.0 143.1 L191.0 142.3 L192.0 142.9 L193.0 141.7 L194.0 141.6 L195.0 142.0 L196.0 141.2 L197.0 141.4 L198.0 140.6 L199.0 141.0 L200.0 140.3 L201.0 140.6 L202.0 139.8 L203.0 140.2 L204.0 139.8 L205.0 139.7 L206.0 139.4 L207.0 139.2 L208.0 138.5 L209.0 137.8 L210.0 138.5 L211.0 138.0 L212.0 137.9 L213.0 138.0 L214.0 137.0 L215.0 137.2 L216.0 137.1 L217.0 136.7 L218.0 137.0 L219.0 136.6 L220.0 136.2 L221.0 136.0 L222.0 136.4 L223.0 135.8 L224.0 136.0 L225.0 135.8 L226.0 134.9 L227.0 135.0 L228.1 135.2 L229.1 135.2 L230.1 135.2 L231.1 135.0 L232.1 135.0 L233.1 134.3 L234.1 134.2 L235.1 134.4 L236.2 133.9 L237.2 134.3 L238.2 133.2 L239.2 133.9 L240.2 133.5 L241.2 132.7 L242.2 133.6 L243.2 133.3 L244.3 133.1 L245.3 132.6 L246.3 132.7 L247.3 133.3 L248.3 132.4 L249.3 131.4 L250.3 132.2 L251.3 132.0 L252.4 132.3 L253.4 132.1 L254.4 131.9 L255.4 131.9 L256.4 132.5 L257.4 131.5 L258.4 132.7 L259.4 131.8 L260.4 131.6 L261.4 132.3 L262.4 132.2 L263.4 131.6 L264.4 132.3 L265.4 131.4 L266.4 131.8 L267.4 132.5 L268.4 132.1 L269.5 131.8 L270.5 132.5 L271.5 132.7 L272.5 132.4 L273.5 131.9 L274.5 132.4 L275.5 132.8 L276.5 133.0 L277.5 133.4 L278.5 132.8 L279.5 132.8 L280.5 133.0 L281.5 133.5 L282.6 132.9 L283.6 133.8 L284.6 132.5 L285.7 133.9 L286.7 133.5 L287.7 134.1 L288.8 134.4 L289.8 133.9 L290.8 134.4 L291.9 134.6 L292.9 134.9 L293.9 134.4 L295.0 134.4 L296.0 134.1 L297.0 135.7 L298.0 134.7 L299.0 134.6 L300.0 134.0 L301.0 134.7 L302.0 134.0 L303.0 134.6 L304.0 134.2 L305.0 133.7 L306.0 133.8 L307.0 133.0 L308.0 133.1 L309.0 132.9 L310.0 132.6 L311.0 132.9 L312.1 132.8 L313.1 133.2 L314.1 131.5 L315.2 132.4 L316.2 132.2 L317.2 132.3 L318.3 132.6 L319.3 132.5 L320.3 132.4 L321.4 132.2 L322.4 132.6 L323.4 132.6 L324.5 131.8 L325.5 132.4 L326.6 132.1 L327.6 132.2 L328.7 132.7 L329.8 132.8 L330.8 132.9 L331.9 132.7 L332.9 133.1 L333.9 133.0 L335.0 133.6 L336.0 134.0 L337.0 134.6 L338.0 134.7 L339.0 134.3 L340.0 134.8 L341.0 135.1 L342.0 136.0 L343.0 137.0 L344.0 137.0 L345.0 136.6 L346.0 137.5 L347.0 138.1 L348.0 139.4 L349.0 139.8 L350.0 140.6 L351.0 141.8 L352.0 141.6 L353.0 142.4 L354.0 144.1 L355.0 144.3 L356.0 144.6 L357.0 144.8 L358.0 145.6 L359.0 145.8 L360.0 147.2 L361.0 147.7 L362.0 148.5 L363.0 148.5 L364.0 148.8 L365.0 149.1 L366.0 150.4 L367.0 149.4 L368.0 150.4 L369.0 150.6 L370.0 151.1 L371.0 151.0 L372.0 151.5 L373.0 151.8 L374.0 151.6 L375.0 151.7 L376.0 151.9 L377.0 151.8 L378.0 152.2 L379.0 152.3 L380.0 152.6 L381.0 153.1 L382.0 153.2 L383.0 152.7 L384.0 153.1 L385.0 153.1 L386.0 153.3 L387.0 153.2 L388.0 153.3 L389.0 153.1 L390.0 153.1 L391.0 153.7 L392.0 153.9 L393.0 153.7 L394.0 153.7 L395.0 153.7 L396.0 153.5 L397.0 153.0 L398.0 153.9 L399.0 153.8 L400.0 153.6 L401.0 153.5 L402.0 154.3 L403.0 153.2 L404.0 154.5 L405.0 154.1 L406.0 154.8 L407.0 153.7 L408.0 154.0 L409.0 153.9 L410.0 154.1 L411.0 154.0 L412.0 153.9 L413.0 154.5 L414.0 153.9 L415.0 154.0 L416.0 154.4 L417.0 154.1 L418.0 154.2 L419.0 154.5 L420.0 154.2 L421.0 154.0 L422.0 154.4 L423.0 154.4 L424.0 155.1 L425.0 154.1 L426.0 154.9 L427.0 154.3 L428.0 154.5 L429.0 154.5 L430.0 154.8 L431.0 155.0 L432.0 155.3 L433.0 154.5 L434.0 155.2 L435.0 155.1 L436.0 155.1 L437.0 154.6 L438.0 155.2 L439.0 154.9 L440.0 155.0 L441.0 154.8 L442.0 155.2 L443.0 155.4 L444.0 155.4 L445.0 155.0 L446.0 155.4 L447.0 155.6 L448.0 154.8 L449.0 155.6 L450.0 154.7 L451.0 155.4 L452.0 155.4 L453.0 155.7 L454.0 155.3 L455.0 155.1 L456.0 155.0 L457.0 154.9 L458.0 155.6 L459.0 155.2 L460.0 155.1 L461.0 155.6 L462.0 155.1 L463.0 155.2 L464.0 155.3 L465.0 156.0 L466.0 156.0 L467.0 155.4 L468.0 154.9 L469.0 155.6 L470.0 155.5 L471.0 155.6 L472.0 155.7 L473.0 155.4 L474.0 155.9 L475.0 155.9 L476.0 155.7 L477.0 155.5 L478.0 155.5 L479.0 155.9 L480.0 155.3 L481.0 155.6 L482.0 155.4 L483.0 155.2 L484.0 155.9 L485.0 155.7 L486.0 155.7 L487.0 156.1 L488.0 155.2 L489.0 155.7 L490.0 155.9 L491.0 156.1 L492.0 155.4 L493.0 156.1 L494.0 155.9 L495.0 156.3 L496.0 156.3 L497.0 156.1 L498.0 156.6 L499.0 155.9 L500.0 155.7 L501.0 155.8 L502.0 155.6 L503.0 155.9 L504.0 155.3 L505.0 155.9 L506.0 156.1 L507.0 156.3 L508.0 155.9 L509.0 156.5 L510.0 155.8 L511.0 156.0 L512.0 155.4 L513.0 155.8 L514.0 155.8 L515.0 156.6 L516.0 156.2 L517.0 155.7 L518.0 156.3 L519.0 156.3 L520.0 156.0 L521.0 156.1 L522.0 156.0 L523.0 155.9 L524.0 155.5 L525.0 156.1 L526.0 156.6 L527.0 156.7 L528.0 156.1 L529.0 155.9 L530.0 156.1 L531.0 156.5 L532.0 156.3 L533.0 156.0 L534.0 156.4 L535.0 156.2 L536.0 156.4 L537.0 156.1 L538.0 155.8 L539.0 156.3 L540.0 156.5 L541.0 155.9 L542.0 156.3 L543.0 156.6 L544.0 156.2 L545.0 156.1 L546.0 157.0 L547.0 156.6 L548.0 156.7 L549.0 156.1 L550.0 156.9 L551.0 155.8 L552.0 156.2 L553.0 156.7 L554.0 156.9 L555.0 156.1 L556.0 156.2 L557.0 156.5 L558.0 155.8 L559.0 156.7 L560.0 156.7 L561.0 156.3 L562.0 156.7 L563.0 156.8 L564.0 156.6 L565.0 156.7 L566.0 157.1 L567.0 156.4 L568.0 156.6 L569.0 156.4 L570.0 156.9 L571.0 156.5" stroke="#949422" stroke-width="1.35" fill="none" stroke-linejoin="round"/>
<path d="M80.0 170.2 L81.0 170.1 L82.0 170.1 L83.0 170.7 L84.0 170.1 L85.0 170.6 L86.0 170.5 L87.0 170.7 L88.0 170.2 L89.0 170.6 L90.1 170.6 L91.1 170.2 L92.1 170.5 L93.1 170.4 L94.1 170.5 L95.1 171.0 L96.1 170.4 L97.1 170.1 L98.1 170.1 L99.1 170.6 L100.1 170.6 L101.1 170.8 L102.1 171.1 L103.1 171.5 L104.1 171.1 L105.1 171.1 L106.1 170.8 L107.1 171.3 L108.1 171.6 L109.2 171.6 L110.2 170.5 L111.2 171.5 L112.2 171.8 L113.2 171.6 L114.2 170.8 L115.2 171.3 L116.2 171.6 L117.2 171.6 L118.2 171.2 L119.2 171.2 L120.2 171.8 L121.2 171.1 L122.2 172.0 L123.2 171.6 L124.2 171.7 L125.2 171.1 L126.2 171.4 L127.2 171.8 L128.3 171.1 L129.3 172.3 L130.3 171.1 L131.3 171.2 L132.3 171.6 L133.3 171.7 L134.3 171.8 L135.3 171.4 L136.3 171.5 L137.3 171.4 L138.3 171.3 L139.3 170.6 L140.4 171.7 L141.4 171.4 L142.4 171.3 L143.4 171.0 L144.5 171.3 L145.5 171.1 L146.5 171.0 L147.5 171.3 L148.5 170.3 L149.6 170.9 L150.6 170.4 L151.6 170.5 L152.6 171.0 L153.6 170.1 L154.7 170.3 L155.7 170.0 L156.7 170.5 L157.7 169.7 L158.8 169.4 L159.8 170.0 L160.8 169.6 L161.8 169.5 L162.8 169.8 L163.9 169.0 L164.9 169.1 L165.9 169.1 L166.9 169.1 L167.9 168.6 L169.0 169.0 L170.0 169.3 L171.0 168.3 L172.0 168.9 L173.1 167.4 L174.1 168.5 L175.1 167.8 L176.1 167.8 L177.1 167.5 L178.2 167.3 L179.2 166.9 L180.2 167.1 L181.2 167.5 L182.2 167.3 L183.2 166.7 L184.2 166.5 L185.2 166.3 L186.2 165.9 L187.2 166.8 L188.2 166.3 L189.2 165.9 L190.2 165.5 L191.2 165.2 L192.2 165.8 L193.2 165.5 L194.2 164.7 L195.2 165.2 L196.2 164.3 L197.2 164.8 L198.2 164.0 L199.2 164.0 L200.2 164.2 L201.2 164.0 L202.2 164.0 L203.2 163.2 L204.2 163.8 L205.2 163.6 L206.2 162.9 L207.2 162.9 L208.2 162.3 L209.2 162.4 L210.2 161.8 L211.2 162.1 L212.2 161.9 L213.2 162.1 L214.2 161.8 L215.2 161.6 L216.2 161.0 L217.2 160.9 L218.2 160.7 L219.2 160.7 L220.2 159.8 L221.2 160.6 L222.2 159.6 L223.2 159.8 L224.2 159.8 L225.2 159.5 L226.3 160.0 L227.3 159.3 L228.3 159.7 L229.3 159.4 L230.3 158.6 L231.4 158.7 L232.4 158.8 L233.4 158.1 L234.4 158.1 L235.5 157.7 L236.5 157.7 L237.5 157.4 L238.5 157.4 L239.5 157.5 L240.6 157.5 L241.6 156.9 L242.6 156.8 L243.6 156.9 L244.7 156.3 L245.7 155.9 L246.7 156.6 L247.7 155.8 L248.7 156.3 L249.8 155.5 L250.8 156.4 L251.8 155.3 L252.8 155.9 L253.8 156.1 L254.8 155.3 L255.8 156.1 L256.8 155.4 L257.8 155.1 L258.8 156.0 L259.8 156.1 L260.8 155.9 L261.8 155.2 L262.8 156.1 L263.9 156.1 L264.9 156.2 L265.9 156.3 L266.9 155.9 L267.9 156.4 L268.9 157.2 L269.9 157.1 L270.9 156.5 L271.9 156.4 L272.9 156.7 L273.9 156.9 L274.9 156.6 L276.0 155.9 L277.0 156.1 L278.1 155.8 L279.1 156.0 L280.2 155.5 L281.3 155.0 L282.3 154.8 L283.4 153.8 L284.4 154.1 L285.5 153.0 L286.6 152.8 L287.6 152.6 L288.7 151.6 L289.7 151.2 L290.8 150.5 L291.9 150.8 L292.9 150.4 L294.0 149.9 L295.0 149.9 L296.1 148.7 L297.1 149.0 L298.2 148.7 L299.2 148.2 L300.3 148.2 L301.3 148.2 L302.4 147.1 L303.4 146.6 L304.5 146.3 L305.5 146.2 L306.6 146.0 L307.7 145.1 L308.8 145.2 L309.8 143.9 L310.9 144.0 L312.0 143.2 L313.1 142.7 L314.2 142.8 L315.3 141.5 L316.3 141.2 L317.4 141.3 L318.5 141.4 L319.5 140.8 L320.5 141.7 L321.6 141.8 L322.6 142.9 L323.6 143.8 L324.6 144.2 L325.7 145.1 L326.7 146.2 L327.7 146.2 L328.7 148.7 L329.7 150.1 L330.7 151.6 L331.7 153.1 L332.7 154.7 L333.7 156.6 L334.7 158.6 L335.7 159.5 L336.7 161.1 L337.8 160.8 L338.8 162.4 L339.9 163.5 L340.9 164.1 L342.0 164.2 L343.0 165.3 L344.0 166.6 L345.0 166.4 L346.0 167.1 L347.0 167.7 L348.0 168.4 L349.0 169.4 L350.0 169.9 L351.0 169.4 L352.0 171.0 L353.0 170.6 L354.0 171.0 L355.0 172.0 L356.0 171.7 L357.0 171.6 L358.0 172.0 L359.0 172.2 L360.0 172.3 L361.0 172.7 L362.0 173.3 L363.0 173.3 L364.0 172.9 L365.0 174.4 L366.0 173.3 L367.0 173.9 L368.0 174.0 L369.0 174.3 L370.0 174.1 L371.0 174.5 L372.0 175.1 L373.0 174.6 L374.0 174.3 L375.0 174.9 L376.0 174.6 L377.0 174.8 L378.0 175.1 L379.0 175.2 L380.0 175.1 L381.0 175.6 L382.0 175.3 L383.0 175.0 L384.0 175.9 L385.0 175.5 L386.0 176.1 L387.0 175.6 L388.0 176.1 L389.0 176.1 L390.0 175.2 L391.0 175.6 L392.0 175.9 L393.0 176.8 L394.0 175.7 L395.0 176.8 L396.0 176.9 L397.0 176.8 L398.0 176.9 L399.0 176.6 L400.0 176.8 L401.0 177.0 L402.0 177.1 L403.0 177.3 L404.0 177.0 L405.0 176.9 L406.0 177.0 L407.0 177.4 L408.0 176.8 L409.0 177.0 L410.0 177.3 L411.0 177.3 L412.0 177.5 L413.0 176.7 L414.0 177.6 L415.0 177.6 L416.0 178.0 L417.0 177.2 L418.0 177.8 L419.0 178.1 L420.0 178.2 L421.0 178.5 L422.0 178.5 L423.0 177.8 L424.0 178.5 L425.0 178.2 L426.0 178.1 L427.0 178.9 L428.0 178.3 L429.0 178.2 L430.0 178.4 L431.0 178.4 L432.0 179.0 L433.0 178.9 L434.0 179.3 L435.0 179.0 L436.0 178.7 L437.0 179.3 L438.0 178.8 L439.0 178.9 L440.0 179.1 L441.0 179.2 L442.0 179.6 L443.0 179.0 L444.0 179.4 L445.0 179.3 L446.0 179.0 L447.0 179.1 L448.0 179.4 L449.0 179.7 L450.0 179.7 L451.0 179.8 L452.0 179.7 L453.0 179.5 L454.0 179.9 L455.0 179.4 L456.0 179.3 L457.0 179.7 L458.0 179.4 L459.0 179.7 L460.0 179.7 L461.0 179.8 L462.0 180.0 L463.0 179.7 L464.0 179.9 L465.0 179.5 L466.0 180.1 L467.0 179.8 L468.0 180.3 L469.0 179.2 L470.0 179.9 L471.0 180.3 L472.0 179.4 L473.0 180.1 L474.0 180.3 L475.0 180.3 L476.0 179.8 L477.0 180.4 L478.0 180.4 L479.0 180.0 L480.0 180.6 L481.0 180.4 L482.0 180.4 L483.0 180.3 L484.0 180.6 L485.0 180.5 L486.0 180.9 L487.0 180.7 L488.0 180.3 L489.0 180.5 L490.0 180.9 L491.0 180.5 L492.0 180.7 L493.0 180.8 L494.0 180.6 L495.0 179.9 L496.0 180.7 L497.0 180.7 L498.0 180.7 L499.0 180.4 L500.0 181.1 L501.0 180.7 L502.0 180.5 L503.0 180.5 L504.0 180.9 L505.0 180.4 L506.0 180.4 L507.0 181.5 L508.0 181.3 L509.0 181.2 L510.0 181.3 L511.0 181.0 L512.0 180.3 L513.0 181.3 L514.0 181.3 L515.0 181.1 L516.0 180.2 L517.0 181.3 L518.0 181.4 L519.0 180.8 L520.0 181.0 L521.0 181.2 L522.0 180.9 L523.0 181.3 L524.0 181.0 L525.0 181.2 L526.0 181.0 L527.0 180.5 L528.0 180.7 L529.0 182.1 L530.0 181.1 L531.0 181.5 L532.0 181.5 L533.0 181.7 L534.0 181.3 L535.0 180.9 L536.0 181.1 L537.0 180.5 L538.0 181.1 L539.0 181.4 L540.0 180.4 L541.0 181.2 L542.0 181.4 L543.0 181.6 L544.0 180.9 L545.0 181.0 L546.0 180.6 L547.0 180.9 L548.0 181.4 L549.0 181.9 L550.0 180.9 L551.0 181.7 L552.0 181.4 L553.0 181.1 L554.0 182.0 L555.0 180.4 L556.0 181.3 L557.0 181.4 L558.0 182.1 L559.0 182.0 L560.0 182.1 L561.0 181.4 L562.0 181.7 L563.0 181.9 L564.0 181.6 L565.0 181.5 L566.0 181.4 L567.0 181.3 L568.0 181.0 L569.0 182.1 L570.0 181.3 L571.0 180.8" stroke="#8c1a1a" stroke-width="1.35" fill="none" stroke-linejoin="round"/>
<path d="M80.0 195.9 L81.0 195.8 L82.0 195.9 L83.0 196.4 L84.0 195.8 L85.0 195.7 L86.0 195.6 L87.0 195.8 L88.0 195.7 L89.0 195.9 L90.1 196.9 L91.1 196.0 L92.1 195.6 L93.1 196.6 L94.1 196.2 L95.1 196.2 L96.1 196.2 L97.1 196.3 L98.1 196.2 L99.1 196.5 L100.1 196.4 L101.1 196.5 L102.1 195.9 L103.1 196.1 L104.1 195.8 L105.1 196.4 L106.1 196.4 L107.1 196.0 L108.1 196.4 L109.2 197.1 L110.2 196.6 L111.2 195.8 L112.2 196.2 L113.2 196.4 L114.2 196.2 L115.2 196.4 L116.2 196.6 L117.2 196.3 L118.2 195.9 L119.2 196.5 L120.2 196.2 L121.2 196.3 L122.2 196.0 L123.2 195.7 L124.2 195.8 L125.2 196.1 L126.2 195.8 L127.2 195.2 L128.3 196.5 L129.3 195.7 L130.3 195.8 L131.3 196.2 L132.3 195.2 L133.3 196.4 L134.3 195.7 L135.3 196.1 L136.3 195.7 L137.3 195.9 L138.3 195.8 L139.3 195.7 L140.3 195.0 L141.3 195.1 L142.3 195.5 L143.3 195.9 L144.3 195.2 L145.3 195.5 L146.3 195.3 L147.3 195.3 L148.3 195.4 L149.3 194.5 L150.3 195.0 L151.3 194.8 L152.4 194.6 L153.4 194.4 L154.4 194.3 L155.4 194.1 L156.4 194.0 L157.4 195.1 L158.4 194.7 L159.4 194.1 L160.4 194.2 L161.4 193.5 L162.4 192.8 L163.4 193.0 L164.4 193.6 L165.4 193.9 L166.4 193.3 L167.4 192.9 L168.4 193.0 L169.4 192.6 L170.4 192.4 L171.4 192.7 L172.4 192.5 L173.4 192.2 L174.4 192.1 L175.4 192.0 L176.4 192.2 L177.4 192.5 L178.4 191.8 L179.4 192.6 L180.5 191.1 L181.5 191.6 L182.5 191.0 L183.5 191.3 L184.5 191.2 L185.5 191.3 L186.5 191.3 L187.5 190.6 L188.5 190.3 L189.5 190.5 L190.5 190.6 L191.5 190.1 L192.5 190.5 L193.5 190.7 L194.5 189.5 L195.5 190.0 L196.6 190.1 L197.6 188.9 L198.6 189.5 L199.6 189.2 L200.7 188.7 L201.7 189.4 L202.7 188.9 L203.7 188.5 L204.8 188.6 L205.8 188.5 L206.8 188.4 L207.8 188.1 L208.8 187.9 L209.9 187.2 L210.9 187.3 L211.9 187.3 L212.9 186.1 L214.0 187.6 L215.0 186.6 L216.0 186.2 L217.0 185.8 L218.1 186.4 L219.1 186.2 L220.1 185.9 L221.1 185.8 L222.2 185.6 L223.2 185.5 L224.2 185.7 L225.2 185.5 L226.2 185.9 L227.2 185.6 L228.2 185.6 L229.2 185.7 L230.2 186.0 L231.2 185.8 L232.3 185.7 L233.3 185.6 L234.3 185.4 L235.3 185.6 L236.3 185.9 L237.3 185.8 L238.3 185.6 L239.3 185.4 L240.3 185.3 L241.3 186.0 L242.3 186.2 L243.3 186.1 L244.3 185.5 L245.3 185.9 L246.3 186.0 L247.3 185.7 L248.4 186.1 L249.4 185.9 L250.4 185.6 L251.4 185.5 L252.4 186.1 L253.4 185.9 L254.4 185.4 L255.4 185.3 L256.4 185.8 L257.5 185.6 L258.5 185.0 L259.6 185.4 L260.6 184.5 L261.7 183.9 L262.8 184.3 L263.8 183.5 L264.9 183.3 L265.9 182.7 L267.0 182.0 L268.1 181.5 L269.1 181.4 L270.2 181.5 L271.2 180.3 L272.3 180.7 L273.3 179.9 L274.3 179.1 L275.3 179.3 L276.4 179.1 L277.4 178.3 L278.4 177.5 L279.4 178.0 L280.4 177.2 L281.4 177.3 L282.5 176.0 L283.5 176.1 L284.5 175.3 L285.5 174.4 L286.6 173.9 L287.8 172.8 L288.9 171.1 L290.0 169.4 L291.1 168.4 L292.3 166.3 L293.4 165.9 L294.5 164.8 L295.6 164.1 L296.7 162.9 L297.8 161.9 L298.9 161.4 L300.0 161.2 L301.0 160.9 L302.0 162.2 L303.1 162.3 L304.1 162.6 L305.1 163.0 L306.1 164.7 L307.2 165.2 L308.2 165.6 L309.2 167.2 L310.3 168.8 L311.3 169.6 L312.4 171.2 L313.4 172.5 L314.5 174.1 L315.6 176.3 L316.6 178.6 L317.7 179.0 L318.7 180.3 L319.8 181.8 L320.9 182.4 L321.9 183.7 L323.0 184.7 L324.0 185.0 L325.1 185.8 L326.2 187.0 L327.2 188.0 L328.3 188.6 L329.3 189.6 L330.4 189.4 L331.5 190.7 L332.5 191.0 L333.6 191.9 L334.6 192.5 L335.7 192.7 L336.8 193.5 L337.8 193.7 L338.9 194.6 L339.9 194.7 L341.0 195.3 L342.0 195.9 L343.1 196.0 L344.1 196.9 L345.2 196.7 L346.2 197.5 L347.3 197.6 L348.3 197.4 L349.4 197.9 L350.4 198.0 L351.5 198.4 L352.5 198.6 L353.6 199.5 L354.6 198.9 L355.6 199.8 L356.6 199.5 L357.7 199.1 L358.7 198.9 L359.7 200.0 L360.8 199.2 L361.8 200.2 L362.8 200.4 L363.8 200.2 L364.9 200.1 L365.9 200.1 L366.9 200.4 L367.9 200.3 L369.0 200.2 L370.0 200.4 L371.0 201.0 L372.0 200.4 L373.0 200.8 L374.0 200.4 L375.0 200.6 L376.0 200.4 L377.0 200.9 L378.0 201.3 L379.0 201.2 L380.0 201.0 L381.0 201.4 L382.0 201.2 L383.0 201.5 L384.0 201.5 L385.0 201.7 L386.0 200.7 L387.0 201.1 L388.0 201.9 L389.0 201.7 L390.0 202.5 L391.0 201.7 L392.0 201.7 L393.0 202.4 L394.0 202.1 L395.0 202.6 L396.0 202.2 L397.0 202.0 L398.0 202.4 L399.0 201.9 L400.0 202.0 L401.0 202.0 L402.0 202.2 L403.0 202.6 L404.0 202.2 L405.0 202.5 L406.0 202.2 L407.0 202.7 L408.0 201.5 L409.0 202.4 L410.0 202.6 L411.0 202.2 L412.0 202.9 L413.0 202.7 L414.0 203.1 L415.0 203.0 L416.0 202.9 L417.0 202.7 L418.0 202.4 L419.0 202.7 L420.0 202.6 L421.0 202.9 L422.0 202.7 L423.0 203.9 L424.0 202.4 L425.0 203.3 L426.0 202.8 L427.0 202.9 L428.0 203.3 L429.0 203.0 L430.0 202.7 L431.0 203.2 L432.0 203.1 L433.0 202.5 L434.0 203.2 L435.0 202.8 L436.0 203.0 L437.0 203.4 L438.0 203.4 L439.0 203.2 L440.0 204.1 L441.0 203.5 L442.0 203.2 L443.0 203.5 L444.0 203.4 L445.0 202.7 L446.0 203.0 L447.0 203.0 L448.0 204.2 L449.0 203.5 L450.0 203.5 L451.0 203.4 L452.0 204.0 L453.0 203.7 L454.0 204.3 L455.0 204.0 L456.0 204.3 L457.0 203.7 L458.0 203.9 L459.0 203.7 L460.0 203.8 L461.0 203.3 L462.0 203.7 L463.0 203.6 L464.0 203.7 L465.0 204.4 L466.0 204.1 L467.0 204.4 L468.0 204.3 L469.0 204.4 L470.0 204.4 L471.0 203.9 L472.0 204.4 L473.0 204.0 L474.0 204.0 L475.0 204.6 L476.0 204.9 L477.0 203.9 L478.0 204.8 L479.0 204.6 L480.0 204.0 L481.0 204.4 L482.0 204.5 L483.0 204.5 L484.0 204.3 L485.0 204.0 L486.0 204.5 L487.0 204.8 L488.0 204.8 L489.0 204.7 L490.0 204.9 L491.0 204.2 L492.0 204.6 L493.0 204.7 L494.0 205.0 L495.0 204.7 L496.0 204.9 L497.0 204.7 L498.0 205.4 L499.0 204.0 L500.0 204.8 L501.0 205.6 L502.0 204.9 L503.0 204.2 L504.0 204.9 L505.0 204.4 L506.0 204.7 L507.0 205.0 L508.0 205.5 L509.0 205.1 L510.0 205.2 L511.0 205.4 L512.0 205.1 L513.0 204.8 L514.0 205.1 L515.0 205.2 L516.0 205.0 L517.0 204.9 L518.0 205.1 L519.0 204.7 L520.0 204.9 L521.0 205.2 L522.0 205.1 L523.0 205.3 L524.0 205.8 L525.0 205.4 L526.0 205.3 L527.0 205.0 L528.0 205.0 L529.0 205.5 L530.0 205.2 L531.0 205.6 L532.0 205.1 L533.0 205.6 L534.0 205.5 L535.0 205.9 L536.0 205.4 L537.0 205.5 L538.0 205.7 L539.0 205.7 L540.0 206.2 L541.0 205.6 L542.0 205.5 L543.0 205.6 L544.0 205.9 L545.0 205.9 L546.0 206.0 L547.0 205.4 L548.0 206.7 L549.0 206.5 L550.0 205.9 L551.0 205.5 L552.0 206.0 L553.0 206.1 L554.0 205.2 L555.0 206.0 L556.0 205.5 L557.0 206.2 L558.0 206.6 L559.0 206.5 L560.0 205.6 L561.0 206.6 L562.0 206.5 L563.0 206.1 L564.0 206.4 L565.0 206.8 L566.0 206.2 L567.0 206.3 L568.0 206.1 L569.0 206.7 L570.0 205.7 L571.0 206.9" stroke="#8a2288" stroke-width="1.35" fill="none" stroke-linejoin="round"/>
<path d="M80.0 224.7 L81.0 225.3 L82.0 224.4 L83.0 224.6 L84.0 224.7 L85.0 225.2 L86.0 224.4 L87.0 225.1 L88.0 224.7 L89.0 225.3 L90.1 224.8 L91.1 225.0 L92.1 224.8 L93.1 225.4 L94.1 224.7 L95.1 224.8 L96.1 225.5 L97.1 224.8 L98.1 225.0 L99.1 224.5 L100.1 224.8 L101.1 224.0 L102.1 224.8 L103.1 224.5 L104.1 224.2 L105.1 224.3 L106.1 225.1 L107.1 224.9 L108.1 224.2 L109.2 225.3 L110.2 224.5 L111.2 224.6 L112.2 224.7 L113.2 224.3 L114.2 224.1 L115.2 224.4 L116.2 225.0 L117.2 224.9 L118.2 224.0 L119.2 225.0 L120.2 224.5 L121.2 224.7 L122.2 224.5 L123.2 224.6 L124.2 224.1 L125.2 224.1 L126.2 224.1 L127.2 224.2 L128.3 224.5 L129.3 223.9 L130.3 224.8 L131.3 224.0 L132.3 223.9 L133.3 224.3 L134.3 224.2 L135.3 223.9 L136.3 223.6 L137.3 223.6 L138.3 223.3 L139.3 224.2 L140.3 224.1 L141.3 224.3 L142.3 223.8 L143.3 223.6 L144.3 223.7 L145.3 223.7 L146.3 223.2 L147.3 223.3 L148.3 223.9 L149.3 222.5 L150.3 222.5 L151.3 222.6 L152.4 223.0 L153.4 223.1 L154.4 222.5 L155.4 222.7 L156.4 222.4 L157.4 222.4 L158.4 222.0 L159.4 222.1 L160.4 222.0 L161.4 222.3 L162.4 222.6 L163.4 221.1 L164.4 221.8 L165.4 221.5 L166.4 221.8 L167.4 221.7 L168.4 221.5 L169.4 221.4 L170.4 220.7 L171.4 220.3 L172.4 221.4 L173.4 221.1 L174.4 220.3 L175.4 220.9 L176.4 220.6 L177.4 219.5 L178.4 220.5 L179.4 219.7 L180.5 220.4 L181.5 219.7 L182.5 219.5 L183.5 219.2 L184.5 219.5 L185.5 219.8 L186.5 219.2 L187.5 218.7 L188.5 219.9 L189.5 219.7 L190.5 219.3 L191.5 218.8 L192.5 218.5 L193.5 218.2 L194.5 218.9 L195.5 219.1 L196.5 218.2 L197.5 218.5 L198.5 218.3 L199.5 218.3 L200.5 218.4 L201.5 218.9 L202.5 217.9 L203.5 218.4 L204.5 218.4 L205.5 217.9 L206.5 217.9 L207.5 217.4 L208.5 218.2 L209.5 217.6 L210.5 217.5 L211.5 217.7 L212.5 217.3 L213.5 217.2 L214.5 217.4 L215.5 218.0 L216.5 217.4 L217.5 217.6 L218.5 216.8 L219.5 216.6 L220.5 217.8 L221.5 217.0 L222.5 216.6 L223.5 217.0 L224.5 217.2 L225.5 216.3 L226.5 216.5 L227.5 216.9 L228.5 216.4 L229.5 216.9 L230.5 216.9 L231.5 216.6 L232.5 216.2 L233.5 216.3 L234.5 216.0 L235.5 216.1 L236.5 216.1 L237.5 215.8 L238.5 216.1 L239.6 216.5 L240.6 215.2 L241.6 215.3 L242.7 215.2 L243.7 214.9 L244.8 214.4 L245.8 214.0 L246.8 214.2 L247.9 213.8 L248.9 213.5 L249.9 212.8 L251.0 213.0 L252.0 212.8 L253.0 212.2 L254.0 212.3 L255.0 212.6 L256.0 211.1 L257.0 211.6 L258.0 210.7 L259.0 210.1 L260.0 209.9 L261.0 209.3 L262.0 208.2 L263.0 206.7 L264.0 205.5 L265.1 204.5 L266.2 203.3 L267.4 201.5 L268.5 199.9 L269.6 199.6 L270.7 197.4 L271.8 196.4 L272.8 195.0 L273.9 193.8 L275.0 193.0 L276.0 192.0 L277.1 191.5 L278.1 190.2 L279.2 189.5 L280.2 190.2 L281.2 189.1 L282.2 189.1 L283.3 188.9 L284.3 188.4 L285.3 188.0 L286.3 187.3 L287.4 187.2 L288.4 188.1 L289.4 188.0 L290.5 188.1 L291.6 187.6 L292.6 187.7 L293.7 188.3 L294.8 188.6 L295.9 189.4 L297.0 189.5 L298.1 190.8 L299.1 190.6 L300.2 191.2 L301.3 192.4 L302.3 192.9 L303.3 193.3 L304.3 194.8 L305.4 196.1 L306.4 196.0 L307.4 197.3 L308.4 198.1 L309.4 198.8 L310.4 200.7 L311.5 201.7 L312.5 202.7 L313.5 203.4 L314.5 203.3 L315.5 204.7 L316.5 205.2 L317.5 205.7 L318.5 206.4 L319.5 207.8 L320.6 208.1 L321.6 209.5 L322.6 209.7 L323.6 209.5 L324.6 211.1 L325.6 211.8 L326.6 212.0 L327.6 212.2 L328.6 213.7 L329.6 213.2 L330.7 214.2 L331.7 214.1 L332.7 214.8 L333.7 215.1 L334.7 216.5 L335.7 216.9 L336.7 216.8 L337.7 216.8 L338.7 217.6 L339.7 218.1 L340.8 217.8 L341.8 218.2 L342.8 218.9 L343.8 219.5 L344.8 219.6 L345.8 220.0 L346.8 219.7 L347.8 219.5 L348.8 220.7 L349.9 220.5 L350.9 221.0 L351.9 221.1 L352.9 221.6 L353.9 221.4 L354.9 222.3 L355.9 222.0 L356.9 222.4 L357.9 222.6 L359.0 222.8 L360.0 222.8 L361.0 222.2 L362.0 222.7 L363.0 223.6 L364.0 223.3 L365.0 223.4 L366.0 223.5 L367.0 223.2 L368.0 223.3 L369.0 223.4 L370.0 224.1 L371.1 223.9 L372.1 224.5 L373.1 224.2 L374.1 224.7 L375.1 224.3 L376.1 223.8 L377.1 224.9 L378.1 224.5 L379.1 224.9 L380.1 224.6 L381.1 224.5 L382.1 224.8 L383.1 224.4 L384.1 224.4 L385.2 224.6 L386.2 224.8 L387.2 224.6 L388.2 225.1 L389.2 225.3 L390.2 225.9 L391.2 225.9 L392.2 225.4 L393.2 225.7 L394.2 225.4 L395.2 225.7 L396.2 225.6 L397.2 225.5 L398.2 225.7 L399.3 225.2 L400.3 226.0 L401.3 225.8 L402.3 225.5 L403.3 225.8 L404.3 226.2 L405.3 225.8 L406.3 226.3 L407.3 226.3 L408.3 226.7 L409.3 225.9 L410.3 226.2 L411.3 226.5 L412.3 226.9 L413.4 226.5 L414.4 226.7 L415.4 226.0 L416.4 226.3 L417.4 227.2 L418.4 226.5 L419.4 227.4 L420.4 226.5 L421.4 226.7 L422.4 226.2 L423.4 227.1 L424.4 227.0 L425.4 227.6 L426.4 227.0 L427.5 226.9 L428.5 226.6 L429.5 227.1 L430.5 227.5 L431.5 227.4 L432.5 227.6 L433.5 227.6 L434.5 227.3 L435.5 227.6 L436.5 227.4 L437.5 227.0 L438.5 228.1 L439.5 227.6 L440.5 227.2 L441.5 227.7 L442.5 227.7 L443.5 228.0 L444.5 228.2 L445.5 226.7 L446.5 228.0 L447.5 228.4 L448.6 227.6 L449.6 227.3 L450.6 228.1 L451.6 228.1 L452.6 228.2 L453.6 227.7 L454.6 228.0 L455.6 228.2 L456.6 228.5 L457.6 229.0 L458.6 228.4 L459.6 228.1 L460.6 227.6 L461.6 228.8 L462.6 228.4 L463.6 228.5 L464.6 228.2 L465.6 228.8 L466.6 228.0 L467.6 228.7 L468.6 228.7 L469.6 228.8 L470.6 229.2 L471.6 228.8 L472.6 228.9 L473.6 229.2 L474.6 228.4 L475.7 228.8 L476.7 229.0 L477.7 229.3 L478.7 228.8 L479.7 229.4 L480.7 229.3 L481.7 228.6 L482.7 228.7 L483.7 228.7 L484.7 229.3 L485.7 229.4 L486.7 229.6 L487.7 229.7 L488.7 229.2 L489.7 229.8 L490.7 229.8 L491.7 229.7 L492.7 229.7 L493.7 229.1 L494.7 229.7 L495.7 229.3 L496.7 229.3 L497.7 229.6 L498.7 229.8 L499.7 229.8 L500.7 229.7 L501.7 229.5 L502.8 230.0 L503.8 229.7 L504.8 229.5 L505.8 230.0 L506.8 230.5 L507.8 229.9 L508.8 229.7 L509.8 230.6 L510.8 230.8 L511.8 230.1 L512.8 230.2 L513.8 230.3 L514.8 231.3 L515.8 230.4 L516.8 230.7 L517.8 230.6 L518.8 229.8 L519.8 230.1 L520.8 230.1 L521.8 230.7 L522.8 230.6 L523.8 231.2 L524.8 230.5 L525.8 230.8 L526.8 230.7 L527.8 230.8 L528.8 231.6 L529.8 230.9 L530.9 231.3 L531.9 231.3 L532.9 230.7 L533.9 231.2 L534.9 230.8 L535.9 231.0 L536.9 231.1 L537.9 231.1 L538.9 230.9 L539.9 231.7 L540.9 231.1 L541.9 231.4 L542.9 231.8 L543.9 231.5 L544.9 231.7 L545.9 231.8 L546.9 231.7 L547.9 232.0 L548.9 230.9 L549.9 232.1 L550.9 231.5 L551.9 230.9 L552.9 231.3 L553.9 231.1 L554.9 231.6 L555.9 231.2 L556.9 231.4 L558.0 231.8 L559.0 231.8 L560.0 231.5 L561.0 231.8 L562.0 231.8 L563.0 231.9 L564.0 231.9 L565.0 231.9 L566.0 232.3 L567.0 231.5 L568.0 231.9 L569.0 232.2 L570.0 232.0 L571.0 232.0" stroke="#9a30f0" stroke-width="1.35" fill="none" stroke-linejoin="round"/>
<path d="M80.0 249.5 L81.0 249.8 L82.0 250.1 L83.0 249.6 L84.0 249.6 L85.0 249.8 L86.0 249.5 L87.0 248.9 L88.0 249.7 L89.0 249.5 L90.1 249.4 L91.1 249.8 L92.1 249.6 L93.1 249.4 L94.1 248.8 L95.1 249.0 L96.1 249.6 L97.1 249.5 L98.1 249.7 L99.1 249.6 L100.1 249.4 L101.1 249.1 L102.1 249.2 L103.1 249.5 L104.1 249.1 L105.1 249.8 L106.1 249.1 L107.1 248.9 L108.1 249.5 L109.2 248.9 L110.2 250.1 L111.2 249.2 L112.2 249.5 L113.2 249.4 L114.2 249.2 L115.2 248.8 L116.2 248.8 L117.2 249.7 L118.2 249.8 L119.2 250.2 L120.2 248.9 L121.2 249.6 L122.2 249.3 L123.2 249.6 L124.2 249.1 L125.2 249.5 L126.2 249.6 L127.2 249.4 L128.3 249.7 L129.3 249.1 L130.3 249.7 L131.3 248.8 L132.3 249.6 L133.3 248.0 L134.3 249.0 L135.3 248.6 L136.3 248.9 L137.3 249.2 L138.3 249.0 L139.3 248.7 L140.3 249.2 L141.3 248.0 L142.3 248.2 L143.3 248.9 L144.3 248.4 L145.3 247.5 L146.3 248.3 L147.3 247.7 L148.3 248.5 L149.3 248.3 L150.3 247.6 L151.3 248.2 L152.4 247.3 L153.4 247.9 L154.4 247.6 L155.4 247.3 L156.4 246.7 L157.4 247.0 L158.4 246.2 L159.4 246.7 L160.4 246.2 L161.4 247.1 L162.4 246.2 L163.4 245.6 L164.4 246.6 L165.4 246.4 L166.4 246.0 L167.4 246.8 L168.4 246.2 L169.4 245.8 L170.4 245.5 L171.4 244.6 L172.4 245.7 L173.4 245.7 L174.4 245.1 L175.4 244.7 L176.4 245.0 L177.4 244.4 L178.4 244.9 L179.4 245.0 L180.5 245.2 L181.5 244.6 L182.5 244.5 L183.5 244.6 L184.5 244.8 L185.5 244.1 L186.5 243.7 L187.5 243.7 L188.5 243.5 L189.5 243.5 L190.5 243.7 L191.5 243.8 L192.5 243.7 L193.5 243.6 L194.5 243.4 L195.5 243.6 L196.5 243.8 L197.5 243.9 L198.5 244.3 L199.5 243.9 L200.6 244.1 L201.6 244.9 L202.6 244.5 L203.6 244.7 L204.6 244.5 L205.6 244.9 L206.7 244.3 L207.8 243.7 L208.9 243.5 L210.0 242.9 L211.1 243.0 L212.2 242.3 L213.2 242.3 L214.2 242.1 L215.2 242.2 L216.2 241.8 L217.3 242.3 L218.3 241.4 L219.3 241.7 L220.3 241.6 L221.3 242.0 L222.3 241.8 L223.3 241.9 L224.3 241.6 L225.4 241.4 L226.4 241.2 L227.4 241.4 L228.4 241.2 L229.4 241.4 L230.5 241.3 L231.6 241.3 L232.7 240.7 L233.8 240.2 L234.9 239.6 L236.0 239.5 L237.1 239.0 L238.2 238.7 L239.3 237.2 L240.4 236.8 L241.5 235.9 L242.6 233.9 L243.9 233.5 L245.2 232.2 L246.5 231.0 L247.6 229.3 L248.8 228.4 L249.9 226.6 L251.0 225.5 L252.0 224.4 L253.0 224.0 L254.0 222.2 L255.0 221.5 L256.0 220.0 L257.1 218.4 L258.2 217.4 L259.3 216.1 L260.4 214.3 L261.5 213.2 L262.7 211.2 L263.9 209.6 L265.0 208.6 L266.0 207.2 L267.0 205.8 L268.0 204.5 L269.0 204.0 L270.1 202.9 L271.2 201.6 L272.4 200.7 L273.5 199.0 L274.7 198.4 L275.8 197.2 L277.0 196.1 L278.2 194.9 L279.3 194.5 L280.5 194.0 L281.7 194.1 L282.8 193.7 L284.0 193.9 L285.1 193.9 L286.2 194.9 L287.2 195.6 L288.3 195.6 L289.4 196.8 L290.5 197.6 L291.5 198.5 L292.6 199.1 L293.6 201.2 L294.6 201.1 L295.7 203.0 L296.7 204.0 L297.8 205.7 L298.8 206.3 L299.8 207.7 L300.9 209.1 L301.9 210.2 L302.9 211.1 L304.0 212.6 L305.0 213.6 L306.0 215.0 L307.1 215.5 L308.1 216.8 L309.2 217.8 L310.2 218.7 L311.3 220.2 L312.3 221.3 L313.3 222.7 L314.4 223.1 L315.4 224.4 L316.5 225.7 L317.5 226.3 L318.6 227.4 L319.6 228.4 L320.6 229.2 L321.7 230.0 L322.7 231.8 L323.8 232.4 L324.8 233.3 L325.8 233.8 L326.9 235.1 L327.9 236.3 L329.0 236.3 L330.0 237.2 L331.1 238.6 L332.2 239.5 L333.3 240.2 L334.4 240.2 L335.4 241.2 L336.5 241.3 L337.6 242.3 L338.7 242.5 L339.8 243.1 L340.9 244.0 L341.9 244.0 L342.9 244.1 L343.9 244.6 L344.9 245.0 L345.9 245.1 L346.9 245.7 L347.9 246.1 L348.9 246.8 L349.9 245.8 L350.9 246.4 L351.9 246.7 L353.0 247.7 L354.0 248.5 L355.0 248.0 L356.0 248.2 L357.0 248.8 L358.0 247.7 L359.0 248.7 L360.0 247.9 L361.0 249.2 L362.0 249.2 L363.0 249.3 L364.0 249.8 L365.0 249.6 L366.0 250.3 L367.0 250.1 L368.0 250.3 L369.0 251.2 L370.0 250.3 L371.0 250.9 L372.0 250.4 L373.0 251.2 L374.0 251.2 L375.0 251.1 L376.0 251.4 L377.0 251.8 L378.0 251.8 L379.0 251.4 L380.0 251.5 L381.0 252.0 L382.0 251.2 L383.0 251.5 L384.0 252.0 L385.0 252.1 L386.0 252.6 L387.0 252.7 L388.0 252.2 L389.0 252.3 L390.0 251.8 L391.0 252.3 L392.0 252.5 L393.0 252.4 L394.0 252.5 L395.0 252.8 L396.0 252.3 L397.0 252.5 L398.0 252.1 L399.0 253.2 L400.0 252.5 L401.0 252.3 L402.0 253.2 L403.0 252.9 L404.0 253.3 L405.0 252.9 L406.0 253.8 L407.0 253.4 L408.0 253.2 L409.0 253.3 L410.0 253.2 L411.0 253.6 L412.0 254.0 L413.0 253.2 L414.0 253.1 L415.0 253.7 L416.0 253.9 L417.0 253.0 L418.0 253.4 L419.0 253.3 L420.0 253.9 L421.0 253.9 L422.0 253.5 L423.0 253.4 L424.0 254.1 L425.0 253.1 L426.0 254.1 L427.0 253.9 L428.0 254.6 L429.0 254.4 L430.0 253.8 L431.0 254.0 L432.0 254.0 L433.0 253.9 L434.0 254.2 L435.0 254.6 L436.0 253.7 L437.0 254.2 L438.0 254.8 L439.0 254.6 L440.0 254.1 L441.0 254.2 L442.0 254.2 L443.0 254.0 L444.0 254.9 L445.0 254.6 L446.0 254.4 L447.0 254.1 L448.0 254.5 L449.0 254.5 L450.0 255.3 L451.0 254.6 L452.0 254.8 L453.0 255.2 L454.0 255.1 L455.0 254.8 L456.0 254.2 L457.0 255.5 L458.0 255.2 L459.0 254.9 L460.0 255.0 L461.0 254.8 L462.0 254.8 L463.0 254.6 L464.0 255.4 L465.0 255.4 L466.0 255.3 L467.0 255.6 L468.0 255.5 L469.0 255.4 L470.0 255.1 L471.0 255.6 L472.0 255.8 L473.0 255.7 L474.0 255.9 L475.0 255.4 L476.0 255.2 L477.0 256.0 L478.0 255.4 L479.0 255.7 L480.0 255.6 L481.0 255.7 L482.0 255.6 L483.0 255.6 L484.0 255.2 L485.0 256.5 L486.0 255.9 L487.0 255.2 L488.0 255.6 L489.0 255.6 L490.0 255.7 L491.0 255.1 L492.0 256.2 L493.0 256.6 L494.0 256.0 L495.0 256.4 L496.0 256.3 L497.0 255.7 L498.0 256.6 L499.0 255.6 L500.0 256.1 L501.0 256.2 L502.0 256.7 L503.0 256.4 L504.0 256.3 L505.0 256.1 L506.0 256.4 L507.0 256.5 L508.0 256.7 L509.0 257.0 L510.0 256.8 L511.0 256.6 L512.0 256.5 L513.0 257.2 L514.0 256.7 L515.0 256.7 L516.0 257.3 L517.0 257.3 L518.0 256.9 L519.0 256.7 L520.0 256.6 L521.0 257.2 L522.0 256.7 L523.0 257.2 L524.0 256.7 L525.0 257.0 L526.0 257.1 L527.0 257.1 L528.0 257.1 L529.0 257.2 L530.0 256.7 L531.0 256.7 L532.0 257.1 L533.0 257.8 L534.0 257.2 L535.0 256.9 L536.0 257.0 L537.0 257.3 L538.0 257.7 L539.0 257.2 L540.0 257.6 L541.0 257.5 L542.0 257.3 L543.0 257.1 L544.0 257.4 L545.0 257.3 L546.0 257.7 L547.0 257.0 L548.0 258.0 L549.0 257.9 L550.0 257.9 L551.0 258.2 L552.0 257.9 L553.0 257.2 L554.0 257.8 L555.0 258.0 L556.0 257.6 L557.0 257.5 L558.0 258.0 L559.0 258.1 L560.0 257.8 L561.0 257.9 L562.0 257.8 L563.0 257.9 L564.0 258.1 L565.0 258.5 L566.0 257.6 L567.0 258.1 L568.0 258.8 L569.0 258.3 L570.0 258.3 L571.0 258.6" stroke="#20207a" stroke-width="1.35" fill="none" stroke-linejoin="round"/>
<path d="M80.0 274.3 L81.0 274.2 L82.0 274.0 L83.0 274.1 L84.0 274.6 L85.0 274.8 L86.0 274.4 L87.0 274.3 L88.0 274.6 L89.0 274.7 L90.1 274.6 L91.1 273.8 L92.1 274.3 L93.1 273.6 L94.1 274.5 L95.1 274.2 L96.1 274.2 L97.1 274.9 L98.1 274.9 L99.1 274.6 L100.1 274.5 L101.1 274.5 L102.1 274.2 L103.1 274.4 L104.1 275.0 L105.1 274.1 L106.1 274.1 L107.1 274.4 L108.1 274.7 L109.2 274.6 L110.2 274.0 L111.2 274.3 L112.2 274.2 L113.2 273.9 L114.2 274.3 L115.2 274.1 L116.2 274.6 L117.2 274.4 L118.2 274.0 L119.2 274.2 L120.2 274.1 L121.2 274.0 L122.2 274.0 L123.2 274.5 L124.2 274.0 L125.2 273.5 L126.2 273.8 L127.2 274.3 L128.3 274.8 L129.3 273.6 L130.3 273.8 L131.3 273.8 L132.3 273.4 L133.3 274.0 L134.3 273.8 L135.3 273.9 L136.3 274.5 L137.3 273.6 L138.3 273.9 L139.3 273.9 L140.3 273.4 L141.3 273.3 L142.3 274.0 L143.4 273.7 L144.4 273.5 L145.4 273.0 L146.4 273.6 L147.4 273.5 L148.4 274.0 L149.4 273.7 L150.4 273.4 L151.4 273.2 L152.4 273.1 L153.4 272.8 L154.5 273.1 L155.5 273.0 L156.5 273.1 L157.5 273.2 L158.5 272.9 L159.5 272.6 L160.5 273.0 L161.5 273.2 L162.5 272.3 L163.5 272.7 L164.5 272.7 L165.6 272.6 L166.6 272.6 L167.6 272.3 L168.6 272.3 L169.6 272.8 L170.6 272.8 L171.6 271.7 L172.6 271.2 L173.6 272.2 L174.6 271.7 L175.7 271.7 L176.7 271.3 L177.7 271.9 L178.7 271.7 L179.7 271.4 L180.7 271.8 L181.7 272.3 L182.7 271.9 L183.7 271.7 L184.7 271.1 L185.7 271.3 L186.8 271.0 L187.8 271.3 L188.8 271.1 L189.8 270.8 L190.8 270.9 L191.8 270.3 L192.8 270.7 L193.8 270.9 L194.8 270.1 L195.8 270.3 L196.8 269.5 L197.9 270.2 L198.9 270.1 L199.9 269.3 L200.9 270.2 L201.9 269.5 L202.9 268.7 L203.9 268.7 L204.9 269.2 L205.9 268.5 L207.0 268.6 L208.0 267.3 L209.0 267.3 L210.0 267.2 L211.0 266.1 L212.0 266.0 L213.1 265.0 L214.1 264.7 L215.1 264.1 L216.1 264.2 L217.1 262.4 L218.1 262.4 L219.2 262.0 L220.2 260.5 L221.2 260.2 L222.2 260.3 L223.3 259.1 L224.3 257.0 L225.3 257.2 L226.3 255.9 L227.4 255.8 L228.4 254.7 L229.4 253.9 L230.4 253.0 L231.4 252.5 L232.4 251.4 L233.5 250.4 L234.5 249.7 L235.5 249.0 L236.5 247.7 L237.5 247.4 L238.5 245.5 L239.6 245.2 L240.6 244.0 L241.6 243.7 L242.6 242.0 L243.7 240.9 L244.9 239.5 L246.0 239.4 L247.1 237.8 L248.2 235.9 L249.4 234.9 L250.5 233.5 L251.6 233.1 L252.6 231.5 L253.7 229.3 L254.8 228.8 L255.9 227.8 L256.9 226.2 L258.0 225.2 L259.0 223.9 L260.0 222.9 L261.0 221.8 L262.0 220.4 L263.0 219.7 L264.0 218.7 L265.0 217.7 L266.0 216.8 L267.0 216.0 L268.0 215.7 L269.1 215.2 L270.1 213.5 L271.1 213.5 L272.1 213.7 L273.1 213.2 L274.2 212.3 L275.2 212.9 L276.2 212.2 L277.3 212.4 L278.4 213.7 L279.4 213.3 L280.5 214.0 L281.6 214.1 L282.7 215.1 L283.8 215.8 L284.9 217.0 L285.9 217.3 L287.0 219.2 L288.1 219.7 L289.2 220.6 L290.3 221.6 L291.3 223.1 L292.4 224.5 L293.5 225.0 L294.6 226.9 L295.7 228.1 L296.8 229.3 L297.8 230.3 L298.9 231.1 L300.0 233.2 L301.0 234.3 L302.0 236.1 L303.1 237.1 L304.1 239.5 L305.1 241.5 L306.1 242.8 L307.2 245.0 L308.2 247.1 L309.2 248.1 L310.3 249.2 L311.4 251.7 L312.4 251.6 L313.5 253.3 L314.6 255.1 L315.7 256.0 L316.8 256.5 L317.8 258.5 L318.9 259.7 L320.0 260.0 L321.0 261.6 L322.0 262.0 L323.0 262.9 L324.0 262.7 L325.0 263.8 L326.0 265.0 L327.0 265.7 L328.0 266.0 L329.0 266.1 L330.0 266.7 L331.0 266.9 L332.0 267.9 L333.0 267.7 L334.0 268.4 L335.0 268.1 L336.0 268.7 L337.0 270.2 L338.0 270.0 L339.0 270.4 L340.0 270.0 L341.0 271.1 L342.0 272.2 L343.0 271.3 L344.0 271.4 L345.0 272.5 L346.0 272.7 L347.0 273.2 L348.0 273.2 L349.0 273.5 L350.0 273.8 L351.0 274.8 L352.0 274.9 L353.0 275.5 L354.0 275.1 L355.0 276.0 L356.0 275.9 L357.0 276.4 L358.0 277.0 L359.0 276.9 L360.0 277.0 L361.0 276.8 L362.0 277.7 L363.0 278.1 L364.0 277.8 L365.0 278.2 L366.0 277.9 L367.0 278.2 L368.0 278.9 L369.0 279.4 L370.0 279.0 L371.1 278.7 L372.1 279.3 L373.1 279.0 L374.1 279.6 L375.1 280.4 L376.2 280.0 L377.2 280.0 L378.2 280.5 L379.2 280.1 L380.2 280.4 L381.2 280.5 L382.3 280.6 L383.3 280.1 L384.3 280.9 L385.3 281.0 L386.3 280.0 L387.4 279.9 L388.4 280.6 L389.4 281.5 L390.4 281.0 L391.4 281.3 L392.5 281.3 L393.5 281.5 L394.5 281.0 L395.5 281.1 L396.5 281.4 L397.6 281.6 L398.6 281.6 L399.6 281.5 L400.6 281.3 L401.6 281.9 L402.7 281.7 L403.7 281.9 L404.7 280.7 L405.7 282.0 L406.7 280.8 L407.7 281.8 L408.8 281.5 L409.8 281.8 L410.8 281.6 L411.8 281.7 L412.8 281.9 L413.9 282.0 L414.9 281.7 L415.9 281.1 L416.9 281.8 L417.9 282.3 L418.9 281.8 L420.0 282.3 L421.0 282.1 L422.0 281.9 L423.0 282.7 L424.0 282.9 L425.0 282.3 L426.0 282.4 L427.1 282.7 L428.1 282.0 L429.1 282.2 L430.1 282.9 L431.1 282.9 L432.1 282.4 L433.1 282.3 L434.2 282.7 L435.2 282.2 L436.2 282.5 L437.2 282.6 L438.2 281.9 L439.2 283.0 L440.2 283.0 L441.3 283.2 L442.3 282.3 L443.3 282.4 L444.3 282.6 L445.3 282.4 L446.3 283.6 L447.3 282.6 L448.4 282.8 L449.4 283.0 L450.4 283.2 L451.4 283.5 L452.4 282.7 L453.4 283.4 L454.4 283.1 L455.5 282.7 L456.5 283.2 L457.5 282.7 L458.5 283.7 L459.5 282.9 L460.5 283.5 L461.5 283.7 L462.6 283.0 L463.6 282.9 L464.6 283.3 L465.6 282.9 L466.6 283.6 L467.6 283.4 L468.6 283.1 L469.7 283.1 L470.7 283.6 L471.7 282.9 L472.7 284.0 L473.7 283.2 L474.7 283.4 L475.7 283.2 L476.8 284.1 L477.8 283.8 L478.8 284.0 L479.8 283.8 L480.8 283.7 L481.8 284.2 L482.8 283.9 L483.8 283.9 L484.8 283.9 L485.8 284.0 L486.8 283.9 L487.8 283.7 L488.8 283.3 L489.8 284.6 L490.8 283.4 L491.8 283.1 L492.8 283.7 L493.8 284.6 L494.8 284.4 L495.8 283.8 L496.8 284.1 L497.8 284.0 L498.8 283.4 L499.8 284.0 L500.8 284.2 L501.8 284.5 L502.9 283.7 L503.9 283.4 L504.9 283.7 L505.9 284.3 L506.9 284.3 L507.9 284.3 L508.9 284.4 L509.9 284.2 L510.9 283.9 L511.9 284.5 L512.9 284.5 L513.9 284.6 L514.9 284.9 L515.9 284.0 L516.9 283.7 L517.9 283.9 L518.9 285.3 L519.9 284.3 L520.9 284.7 L521.9 284.6 L522.9 284.9 L523.9 285.8 L524.9 284.5 L525.9 284.7 L526.9 284.5 L527.9 284.9 L528.9 285.0 L529.9 284.5 L530.9 285.3 L531.9 285.3 L532.9 285.0 L533.9 284.9 L534.9 284.9 L535.9 284.4 L536.9 285.2 L537.9 284.7 L538.9 284.9 L539.9 285.4 L540.9 284.8 L541.9 284.9 L542.9 285.4 L543.9 285.8 L544.9 284.9 L545.9 285.6 L546.9 285.0 L547.9 285.4 L549.0 285.4 L550.0 284.9 L551.0 285.7 L552.0 286.0 L553.0 285.4 L554.0 285.5 L555.0 285.0 L556.0 286.1 L557.0 285.5 L558.0 285.0 L559.0 285.8 L560.0 285.0 L561.0 285.3 L562.0 284.8 L563.0 286.1 L564.0 286.4 L565.0 285.4 L566.0 285.5 L567.0 285.5 L568.0 285.5 L569.0 285.9 L570.0 286.3 L571.0 285.4" stroke="#228a22" stroke-width="1.35" fill="none" stroke-linejoin="round"/>
<path d="M80.0 302.4 L81.0 301.6 L82.0 302.8 L83.0 302.2 L84.0 302.0 L85.0 302.8 L86.1 302.3 L87.1 302.8 L88.1 302.7 L89.1 302.9 L90.1 302.1 L91.1 302.4 L92.1 302.6 L93.1 302.4 L94.1 303.0 L95.1 302.2 L96.1 302.9 L97.1 303.0 L98.2 301.9 L99.2 302.2 L100.2 302.3 L101.2 302.4 L102.2 302.8 L103.2 302.6 L104.2 302.7 L105.2 302.6 L106.2 302.7 L107.2 302.9 L108.2 303.0 L109.2 302.5 L110.3 302.8 L111.3 302.6 L112.3 302.8 L113.3 302.4 L114.3 303.2 L115.3 303.1 L116.3 302.9 L117.3 302.7 L118.3 302.8 L119.3 302.7 L120.3 302.5 L121.3 303.6 L122.4 304.2 L123.4 302.6 L124.4 302.6 L125.4 303.3 L126.4 303.3 L127.4 302.5 L128.4 302.4 L129.4 303.3 L130.4 302.4 L131.4 303.6 L132.4 302.9 L133.4 303.1 L134.5 303.1 L135.5 302.9 L136.5 303.1 L137.5 303.0 L138.5 303.5 L139.5 303.1 L140.5 303.1 L141.5 302.9 L142.5 302.9 L143.6 302.8 L144.6 303.1 L145.6 303.7 L146.6 303.5 L147.6 303.2 L148.6 303.7 L149.6 303.4 L150.6 303.2 L151.7 303.0 L152.7 302.7 L153.7 303.2 L154.7 302.9 L155.7 302.5 L156.7 302.6 L157.7 303.7 L158.8 303.1 L159.8 303.1 L160.8 303.0 L161.8 302.7 L162.8 303.0 L163.8 303.2 L164.8 302.7 L165.8 302.9 L166.9 303.0 L167.9 302.4 L168.9 302.6 L169.9 302.2 L170.9 302.6 L171.9 302.2 L172.9 302.6 L173.9 301.8 L175.0 302.6 L176.0 301.8 L177.0 301.4 L178.0 301.3 L179.0 301.7 L180.0 301.0 L181.1 301.8 L182.1 301.4 L183.1 301.0 L184.1 300.2 L185.2 300.5 L186.2 300.1 L187.2 299.5 L188.2 300.1 L189.3 300.5 L190.3 299.4 L191.3 299.6 L192.3 299.6 L193.3 298.6 L194.4 298.6 L195.4 298.5 L196.4 298.4 L197.4 297.5 L198.5 297.8 L199.5 297.4 L200.5 297.5 L201.5 296.3 L202.5 296.4 L203.6 296.1 L204.6 295.8 L205.6 295.9 L206.6 295.1 L207.7 295.9 L208.7 294.4 L209.7 294.5 L210.7 294.2 L211.8 293.8 L212.8 293.0 L213.8 292.4 L214.8 292.2 L215.9 292.0 L216.9 291.4 L217.9 291.0 L219.0 290.4 L220.0 289.3 L221.0 288.7 L222.0 288.9 L223.1 287.6 L224.1 286.6 L225.1 287.1 L226.2 285.5 L227.2 284.7 L228.2 284.7 L229.3 283.2 L230.3 282.6 L231.3 282.5 L232.3 281.1 L233.4 281.6 L234.4 280.0 L235.4 280.2 L236.5 278.6 L237.5 277.8 L238.5 276.9 L239.6 276.3 L240.6 275.4 L241.6 274.8 L242.7 274.3 L243.7 272.8 L244.7 272.1 L245.8 270.9 L246.8 271.4 L247.8 270.0 L248.9 269.2 L249.9 268.4 L251.0 267.9 L252.0 266.9 L253.0 266.3 L254.1 265.1 L255.1 264.3 L256.1 263.6 L257.2 262.2 L258.2 262.5 L259.2 260.8 L260.3 260.3 L261.3 260.2 L262.3 259.4 L263.3 259.0 L264.3 258.6 L265.3 258.1 L266.3 257.3 L267.3 256.2 L268.3 256.5 L269.3 255.0 L270.3 255.0 L271.3 255.1 L272.3 254.5 L273.3 254.5 L274.4 254.4 L275.4 255.2 L276.5 254.2 L277.6 255.9 L278.6 256.3 L279.7 256.5 L280.7 257.3 L281.8 257.5 L282.9 258.9 L283.9 260.3 L285.0 259.7 L286.0 261.2 L287.0 261.4 L288.0 262.1 L289.0 262.8 L290.0 263.7 L291.0 264.2 L292.0 265.0 L293.0 266.9 L294.0 267.1 L295.0 268.2 L296.0 269.0 L297.0 269.9 L298.0 270.1 L299.0 271.2 L300.0 272.7 L301.0 273.7 L302.0 273.8 L303.0 274.9 L304.0 275.6 L305.0 277.1 L306.0 277.9 L307.0 278.7 L308.0 279.5 L309.0 280.9 L310.0 281.8 L311.0 282.6 L312.0 284.1 L313.0 284.8 L314.0 286.5 L315.0 287.3 L316.0 287.8 L317.0 289.1 L318.0 289.7 L319.0 290.1 L320.0 290.6 L321.0 290.8 L322.0 291.4 L323.0 292.3 L324.0 293.1 L325.0 292.8 L326.0 293.4 L327.0 293.9 L328.0 294.4 L329.0 294.6 L330.0 295.2 L331.0 295.3 L332.0 295.0 L333.0 295.7 L334.0 295.0 L335.0 296.0 L336.0 296.3 L337.0 296.8 L338.0 296.7 L339.0 297.3 L340.0 297.7 L341.0 297.1 L342.0 297.4 L343.0 297.9 L344.0 298.2 L345.0 298.3 L346.0 298.7 L347.0 298.2 L348.0 299.0 L349.0 299.4 L350.0 299.5 L351.0 299.5 L352.0 299.4 L353.0 299.8 L354.0 299.9 L355.1 299.5 L356.1 300.0 L357.1 300.4 L358.1 300.4 L359.1 300.5 L360.2 300.9 L361.2 301.0 L362.2 301.3 L363.2 301.4 L364.2 301.7 L365.2 302.1 L366.3 302.0 L367.3 302.2 L368.3 301.8 L369.3 301.4 L370.3 302.4 L371.4 302.9 L372.4 302.7 L373.4 302.8 L374.4 302.7 L375.4 303.6 L376.5 303.2 L377.5 303.6 L378.5 304.1 L379.5 304.0 L380.5 304.7 L381.6 304.0 L382.6 304.5 L383.6 304.5 L384.6 304.2 L385.6 304.5 L386.7 304.4 L387.7 304.4 L388.7 305.0 L389.7 304.7 L390.7 305.6 L391.7 304.9 L392.8 305.1 L393.8 305.4 L394.8 305.3 L395.8 305.6 L396.8 305.4 L397.9 305.2 L398.9 305.0 L399.9 305.4 L400.9 306.5 L401.9 306.2 L402.9 306.2 L403.9 306.1 L405.0 306.2 L406.0 306.5 L407.0 306.0 L408.0 306.2 L409.0 306.3 L410.0 307.1 L411.0 306.4 L412.0 307.2 L413.0 306.7 L414.1 307.9 L415.1 307.0 L416.1 307.1 L417.1 307.6 L418.1 307.5 L419.1 307.6 L420.1 306.9 L421.1 307.8 L422.2 308.0 L423.2 307.4 L424.2 307.4 L425.2 307.2 L426.2 308.0 L427.2 307.8 L428.2 307.7 L429.2 307.4 L430.2 308.4 L431.3 308.2 L432.3 307.9 L433.3 308.5 L434.3 307.7 L435.3 308.4 L436.3 307.8 L437.3 308.7 L438.3 308.1 L439.3 308.7 L440.4 308.2 L441.4 308.5 L442.4 308.8 L443.4 308.1 L444.4 308.5 L445.4 308.3 L446.4 308.9 L447.4 308.4 L448.4 308.5 L449.5 308.6 L450.5 309.2 L451.5 308.4 L452.5 308.8 L453.5 308.8 L454.5 308.7 L455.5 308.7 L456.5 309.0 L457.5 309.1 L458.6 308.5 L459.6 309.2 L460.6 308.8 L461.6 309.2 L462.6 310.1 L463.6 309.0 L464.6 309.3 L465.6 309.3 L466.7 309.8 L467.7 309.3 L468.7 308.9 L469.7 309.0 L470.7 309.7 L471.7 309.7 L472.7 310.1 L473.7 309.5 L474.7 310.0 L475.8 309.4 L476.8 310.3 L477.8 309.9 L478.8 309.7 L479.8 310.1 L480.8 310.7 L481.8 309.8 L482.8 309.7 L483.8 309.8 L484.8 309.8 L485.8 310.3 L486.8 310.4 L487.8 310.3 L488.8 310.5 L489.8 310.9 L490.8 310.4 L491.8 310.1 L492.8 309.8 L493.8 310.7 L494.8 310.4 L495.8 310.6 L496.8 310.9 L497.8 311.0 L498.8 310.3 L499.8 310.6 L500.8 311.0 L501.8 310.9 L502.9 311.4 L503.9 310.9 L504.9 310.4 L505.9 311.6 L506.9 310.6 L507.9 310.9 L508.9 311.4 L509.9 311.0 L510.9 312.3 L511.9 311.5 L512.9 311.7 L513.9 311.4 L514.9 312.3 L515.9 311.8 L516.9 311.4 L517.9 312.1 L518.9 311.1 L519.9 311.6 L520.9 311.9 L521.9 311.9 L522.9 311.6 L523.9 312.5 L524.9 312.5 L525.9 311.7 L526.9 312.2 L527.9 311.9 L528.9 312.0 L529.9 312.5 L530.9 312.3 L531.9 312.2 L532.9 312.3 L533.9 311.9 L534.9 312.8 L535.9 312.2 L536.9 312.9 L537.9 312.4 L538.9 312.4 L539.9 313.1 L540.9 312.7 L541.9 312.5 L542.9 312.5 L543.9 313.0 L544.9 313.5 L545.9 313.1 L546.9 312.8 L547.9 312.5 L549.0 312.7 L550.0 313.0 L551.0 313.1 L552.0 312.9 L553.0 313.6 L554.0 312.8 L555.0 313.0 L556.0 313.4 L557.0 313.5 L558.0 313.2 L559.0 313.7 L560.0 312.9 L561.0 314.0 L562.0 314.3 L563.0 314.2 L564.0 313.6 L565.0 314.3 L566.0 313.7 L567.0 314.2 L568.0 313.7 L569.0 313.9 L570.0 314.0 L571.0 313.3" stroke="#ee2eee" stroke-width="1.35" fill="none" stroke-linejoin="round"/>
<path d="M80.0 325.3 L81.0 326.0 L82.0 324.4 L83.0 325.6 L84.1 325.9 L85.1 325.7 L86.1 325.7 L87.1 326.2 L88.1 325.9 L89.1 325.1 L90.1 325.5 L91.2 325.8 L92.2 326.0 L93.2 325.8 L94.2 326.0 L95.2 326.7 L96.2 325.1 L97.2 326.6 L98.2 326.6 L99.3 326.5 L100.3 326.3 L101.3 326.4 L102.3 326.6 L103.3 326.6 L104.3 326.3 L105.3 326.8 L106.4 326.3 L107.4 326.6 L108.4 326.6 L109.4 326.3 L110.4 327.0 L111.4 326.8 L112.4 326.4 L113.4 326.8 L114.5 326.4 L115.5 327.4 L116.5 327.1 L117.5 327.6 L118.5 326.7 L119.5 327.2 L120.5 326.6 L121.6 326.6 L122.6 326.9 L123.6 327.1 L124.6 327.2 L125.6 326.8 L126.6 327.2 L127.6 327.2 L128.7 326.5 L129.7 326.7 L130.7 326.4 L131.7 327.3 L132.7 326.5 L133.7 326.9 L134.7 326.9 L135.8 326.4 L136.8 326.3 L137.8 326.6 L138.8 326.1 L139.8 325.9 L140.8 325.9 L141.8 326.3 L142.8 326.2 L143.9 326.7 L144.9 325.4 L145.9 326.1 L146.9 325.5 L147.9 326.2 L148.9 326.0 L149.9 325.7 L151.0 326.1 L152.0 325.3 L153.0 325.2 L154.0 324.9 L155.0 325.0 L156.0 325.2 L157.0 325.3 L158.0 325.4 L159.1 324.8 L160.1 324.5 L161.1 324.6 L162.1 324.4 L163.1 324.3 L164.1 324.3 L165.1 324.0 L166.2 324.2 L167.2 323.9 L168.2 323.9 L169.2 323.4 L170.2 323.9 L171.2 323.9 L172.2 323.8 L173.3 323.3 L174.3 323.0 L175.3 322.9 L176.3 322.8 L177.3 322.9 L178.3 323.0 L179.3 322.4 L180.3 323.1 L181.4 322.3 L182.4 322.5 L183.4 322.4 L184.4 322.8 L185.4 323.1 L186.4 322.2 L187.4 322.2 L188.5 322.0 L189.5 322.0 L190.5 321.9 L191.5 322.7 L192.5 321.4 L193.5 321.6 L194.5 321.2 L195.6 321.5 L196.6 321.1 L197.6 321.3 L198.6 320.6 L199.6 321.6 L200.6 320.7 L201.6 319.9 L202.7 320.6 L203.7 320.0 L204.7 319.6 L205.7 320.0 L206.7 319.4 L207.7 319.7 L208.7 319.0 L209.7 319.3 L210.8 318.8 L211.8 318.6 L212.8 318.3 L213.8 317.9 L214.8 317.6 L215.8 317.6 L216.9 317.3 L217.9 316.6 L218.9 317.1 L219.9 316.5 L221.0 315.1 L222.0 315.5 L223.0 314.6 L224.0 314.3 L225.1 313.4 L226.1 313.8 L227.1 312.4 L228.1 312.2 L229.2 311.4 L230.2 311.8 L231.2 311.1 L232.2 309.6 L233.3 309.4 L234.3 309.2 L235.3 308.4 L236.3 307.9 L237.4 307.1 L238.4 307.1 L239.4 306.1 L240.4 306.3 L241.5 306.3 L242.5 304.9 L243.5 305.2 L244.5 304.3 L245.6 303.5 L246.6 303.1 L247.7 302.4 L248.7 302.3 L249.7 302.0 L250.8 301.6 L251.8 300.7 L252.9 300.0 L253.9 299.9 L254.9 300.1 L256.0 299.1 L257.0 298.6 L258.1 297.5 L259.1 297.7 L260.1 297.7 L261.2 296.8 L262.2 297.3 L263.3 296.4 L264.3 296.0 L265.4 295.9 L266.5 295.9 L267.5 296.1 L268.6 295.5 L269.7 295.1 L270.8 295.8 L271.9 296.1 L273.0 296.7 L274.0 296.0 L275.1 297.3 L276.2 297.4 L277.2 297.8 L278.3 297.9 L279.3 298.4 L280.3 299.0 L281.4 300.2 L282.4 300.6 L283.4 301.5 L284.5 302.4 L285.5 302.4 L286.5 303.1 L287.6 304.5 L288.6 304.1 L289.7 305.1 L290.7 305.8 L291.7 306.5 L292.8 307.4 L293.8 307.8 L294.8 309.1 L295.9 309.0 L296.9 309.8 L297.9 310.2 L299.0 310.9 L300.0 312.2 L301.0 312.8 L302.0 313.1 L303.0 314.1 L304.0 314.6 L305.0 314.8 L306.0 315.6 L307.0 316.4 L308.0 317.6 L309.0 317.3 L310.0 318.2 L311.0 318.8 L312.0 319.6 L313.0 319.9 L314.0 320.6 L315.0 320.4 L316.0 321.2 L317.0 321.0 L318.0 322.1 L319.0 323.3 L320.0 323.0 L321.0 323.3 L322.0 323.7 L323.0 323.9 L324.0 323.7 L325.0 324.2 L326.0 324.7 L327.0 325.1 L328.0 325.0 L329.0 325.5 L330.0 325.6 L331.0 325.6 L332.0 326.1 L333.0 326.3 L334.0 327.1 L335.0 327.4 L336.0 327.4 L337.0 327.3 L338.0 327.4 L339.0 327.2 L340.0 327.8 L341.0 328.7 L342.0 328.7 L343.0 328.6 L344.0 328.6 L345.0 328.8 L346.0 329.1 L347.0 329.1 L348.0 329.4 L349.0 329.2 L350.0 329.6 L351.0 329.6 L352.0 330.3 L353.0 329.6 L354.0 330.6 L355.1 330.3 L356.1 330.3 L357.1 330.6 L358.1 330.8 L359.1 330.8 L360.2 331.2 L361.2 331.0 L362.2 330.7 L363.2 331.7 L364.2 331.5 L365.2 332.3 L366.3 331.9 L367.3 331.2 L368.3 332.5 L369.3 331.9 L370.3 332.5 L371.4 333.1 L372.4 332.9 L373.4 332.2 L374.4 332.7 L375.4 332.3 L376.5 333.1 L377.5 333.2 L378.5 332.8 L379.5 333.4 L380.5 333.6 L381.6 333.7 L382.6 333.2 L383.6 333.3 L384.6 333.3 L385.6 333.3 L386.7 333.9 L387.7 333.9 L388.7 334.4 L389.7 334.1 L390.7 334.0 L391.7 333.7 L392.8 334.8 L393.8 334.4 L394.8 334.4 L395.8 334.1 L396.8 334.2 L397.9 334.8 L398.9 334.3 L399.9 334.9 L400.9 335.0 L401.9 334.7 L402.9 334.3 L403.9 335.1 L405.0 335.4 L406.0 334.7 L407.0 334.6 L408.0 335.5 L409.0 335.2 L410.0 335.0 L411.0 335.7 L412.0 335.2 L413.0 335.5 L414.1 335.2 L415.1 335.1 L416.1 335.5 L417.1 335.2 L418.1 334.9 L419.1 335.4 L420.1 336.0 L421.1 336.0 L422.2 336.4 L423.2 336.0 L424.2 336.3 L425.2 335.8 L426.2 335.6 L427.2 336.0 L428.2 335.5 L429.2 336.1 L430.2 335.7 L431.3 336.0 L432.3 335.6 L433.3 335.9 L434.3 336.3 L435.3 335.9 L436.3 335.8 L437.3 336.2 L438.3 336.4 L439.3 336.0 L440.4 335.7 L441.4 335.6 L442.4 335.7 L443.4 336.5 L444.4 336.2 L445.4 336.4 L446.4 336.6 L447.4 336.4 L448.4 336.4 L449.5 336.1 L450.5 335.8 L451.5 336.6 L452.5 336.3 L453.5 336.6 L454.5 336.0 L455.5 336.4 L456.5 337.1 L457.5 336.2 L458.6 336.5 L459.6 336.9 L460.6 336.4 L461.6 336.6 L462.6 335.8 L463.6 336.8 L464.6 336.4 L465.6 337.0 L466.7 336.6 L467.7 336.5 L468.7 336.8 L469.7 336.6 L470.7 336.5 L471.7 337.2 L472.7 337.1 L473.7 336.8 L474.7 337.1 L475.8 337.1 L476.8 337.0 L477.8 336.9 L478.8 336.9 L479.8 337.0 L480.8 337.1 L481.8 337.1 L482.8 336.8 L483.8 337.0 L484.8 337.2 L485.8 336.7 L486.8 337.1 L487.8 337.3 L488.8 337.2 L489.8 337.0 L490.8 337.1 L491.8 337.0 L492.8 337.5 L493.8 337.1 L494.8 336.7 L495.8 336.9 L496.8 337.4 L497.8 337.4 L498.8 337.2 L499.8 336.9 L500.8 337.3 L501.8 337.1 L502.9 337.2 L503.9 337.4 L504.9 337.2 L505.9 337.6 L506.9 337.3 L507.9 337.4 L508.9 337.5 L509.9 338.1 L510.9 338.1 L511.9 337.9 L512.9 337.4 L513.9 337.7 L514.9 338.0 L515.9 338.0 L516.9 337.2 L517.9 337.7 L518.9 337.5 L519.9 338.0 L520.9 338.0 L521.9 337.6 L522.9 338.6 L523.9 337.8 L524.9 338.7 L525.9 337.8 L526.9 337.9 L527.9 338.6 L528.9 337.8 L529.9 337.8 L530.9 338.5 L531.9 338.0 L532.9 338.2 L533.9 337.6 L534.9 338.7 L535.9 338.4 L536.9 338.2 L537.9 338.4 L538.9 338.0 L539.9 338.0 L540.9 337.7 L541.9 338.3 L542.9 338.7 L543.9 338.5 L544.9 338.6 L545.9 338.5 L546.9 338.0 L547.9 337.9 L549.0 338.6 L550.0 338.4 L551.0 338.7 L552.0 338.3 L553.0 338.1 L554.0 338.6 L555.0 338.3 L556.0 338.0 L557.0 338.3 L558.0 338.2 L559.0 338.2 L560.0 338.4 L561.0 338.9 L562.0 339.4 L563.0 339.2 L564.0 338.5 L565.0 339.1 L566.0 338.7 L567.0 338.9 L568.0 338.5 L569.0 338.7 L570.0 338.2 L571.0 339.4" stroke="#2030ee" stroke-width="1.35" fill="none" stroke-linejoin="round"/>
<path d="M80.0 356.4 L81.1 356.6 L82.1 355.9 L83.2 356.0 L84.3 355.2 L85.3 355.2 L86.4 355.4 L87.5 355.0 L88.5 353.9 L89.6 354.6 L90.6 353.7 L91.7 354.0 L92.8 354.0 L93.8 353.5 L94.9 353.5 L95.9 353.5 L96.9 353.7 L97.9 353.8 L99.0 353.9 L100.0 353.6 L101.0 354.1 L102.0 353.1 L103.0 354.0 L104.0 353.3 L105.0 353.7 L106.1 353.4 L107.1 353.5 L108.1 353.2 L109.1 353.7 L110.1 354.3 L111.1 353.6 L112.1 353.6 L113.1 353.7 L114.2 353.9 L115.2 353.7 L116.2 353.8 L117.2 353.9 L118.2 354.3 L119.2 354.2 L120.2 353.5 L121.3 353.7 L122.3 354.0 L123.3 354.3 L124.3 354.3 L125.3 353.9 L126.3 354.8 L127.3 354.0 L128.3 354.5 L129.4 354.5 L130.4 354.6 L131.4 354.1 L132.4 354.2 L133.4 353.4 L134.4 353.3 L135.4 353.7 L136.5 354.1 L137.5 354.1 L138.5 353.6 L139.5 354.0 L140.5 353.7 L141.5 353.9 L142.5 352.8 L143.5 353.0 L144.5 352.8 L145.5 352.7 L146.5 353.5 L147.6 352.6 L148.6 352.5 L149.6 352.5 L150.6 352.9 L151.6 352.3 L152.6 352.6 L153.6 352.4 L154.6 351.9 L155.6 351.2 L156.6 351.6 L157.6 351.4 L158.6 352.2 L159.6 351.3 L160.6 351.0 L161.6 351.4 L162.7 351.2 L163.7 350.7 L164.7 351.3 L165.7 351.1 L166.7 350.7 L167.7 350.2 L168.7 350.0 L169.7 349.5 L170.7 350.2 L171.7 350.0 L172.7 349.4 L173.7 349.6 L174.7 350.5 L175.7 348.9 L176.8 348.5 L177.8 349.1 L178.8 348.6 L179.8 348.4 L180.8 348.6 L181.8 348.2 L182.8 348.4 L183.8 348.0 L184.8 348.1 L185.8 347.5 L186.8 346.5 L187.8 347.5 L188.8 346.3 L189.8 347.0 L190.8 346.6 L191.9 345.8 L192.9 346.1 L193.9 346.1 L194.9 345.3 L195.9 345.4 L196.9 344.9 L197.9 344.6 L198.9 344.5 L199.9 344.9 L200.9 344.4 L202.0 343.9 L203.0 343.6 L204.0 343.3 L205.0 343.1 L206.1 342.7 L207.1 341.7 L208.1 342.2 L209.1 341.2 L210.2 340.2 L211.2 340.9 L212.2 339.9 L213.2 339.8 L214.3 339.4 L215.3 338.8 L216.3 338.7 L217.3 338.0 L218.4 337.5 L219.4 336.8 L220.4 336.6 L221.4 335.8 L222.5 335.7 L223.5 335.7 L224.5 335.1 L225.5 334.4 L226.6 333.3 L227.6 333.6 L228.6 333.1 L229.6 333.0 L230.7 331.0 L231.7 331.2 L232.7 330.6 L233.8 330.5 L234.8 329.2 L235.8 328.8 L236.9 329.1 L237.9 328.0 L238.9 326.4 L240.0 326.4 L241.0 326.3 L242.1 325.0 L243.1 324.8 L244.1 324.0 L245.2 322.9 L246.2 322.5 L247.2 322.5 L248.3 322.0 L249.3 320.8 L250.3 320.9 L251.4 319.8 L252.4 319.6 L253.4 319.0 L254.5 318.1 L255.5 318.1 L256.6 317.4 L257.6 316.2 L258.7 316.3 L259.7 315.9 L260.8 315.5 L261.8 315.0 L262.9 314.8 L263.9 313.8 L265.0 314.7 L266.0 314.1 L267.1 314.0 L268.1 313.6 L269.2 313.6 L270.2 313.4 L271.2 313.1 L272.3 313.0 L273.3 313.6 L274.4 314.0 L275.4 313.8 L276.5 314.4 L277.5 313.6 L278.6 314.2 L279.6 314.4 L280.7 315.3 L281.7 315.8 L282.8 315.4 L283.8 316.3 L284.9 316.4 L285.9 316.6 L287.0 317.4 L288.0 317.6 L289.1 319.1 L290.1 319.5 L291.2 320.4 L292.2 320.9 L293.3 320.9 L294.3 322.8 L295.4 323.5 L296.4 323.6 L297.5 325.4 L298.5 326.7 L299.6 327.9 L300.6 327.9 L301.7 329.5 L302.7 330.3 L303.8 331.0 L304.8 331.9 L305.9 333.0 L306.9 333.8 L307.9 334.6 L308.9 335.1 L309.9 335.6 L310.9 337.3 L311.9 338.0 L312.9 338.2 L314.0 339.1 L315.0 340.1 L316.0 339.9 L317.0 341.3 L318.0 342.5 L319.0 342.3 L320.0 342.5 L321.0 343.8 L322.0 343.5 L323.0 344.0 L324.0 344.2 L325.0 344.8 L326.0 344.5 L327.0 345.0 L328.0 345.3 L329.0 346.5 L330.0 346.5 L331.0 347.2 L332.0 346.5 L333.0 347.3 L334.0 348.3 L335.0 347.8 L336.0 347.8 L337.0 348.4 L338.0 348.9 L339.0 349.2 L340.0 350.0 L341.0 350.2 L342.0 350.6 L343.0 350.5 L344.0 350.4 L345.0 350.6 L346.0 350.5 L347.0 351.7 L348.0 351.9 L349.0 351.7 L350.0 351.6 L351.0 352.3 L352.0 352.5 L353.0 352.6 L354.0 352.3 L355.1 353.0 L356.1 352.9 L357.1 353.5 L358.1 353.7 L359.1 353.8 L360.2 353.7 L361.2 354.5 L362.2 354.4 L363.2 354.8 L364.2 354.8 L365.2 354.9 L366.3 354.9 L367.3 354.6 L368.3 354.5 L369.3 354.9 L370.3 355.6 L371.4 355.9 L372.4 355.8 L373.4 355.9 L374.4 356.6 L375.4 356.0 L376.5 355.6 L377.5 355.8 L378.5 356.4 L379.5 356.9 L380.5 357.0 L381.6 356.8 L382.6 357.3 L383.6 357.1 L384.6 357.0 L385.6 357.2 L386.7 357.7 L387.7 357.9 L388.7 357.3 L389.7 357.4 L390.7 357.9 L391.7 358.7 L392.8 357.7 L393.8 357.7 L394.8 358.4 L395.8 358.5 L396.8 358.2 L397.9 358.5 L398.9 358.8 L399.9 358.1 L400.9 358.8 L401.9 359.1 L402.9 359.3 L403.9 359.4 L405.0 359.1 L406.0 358.7 L407.0 359.7 L408.0 359.6 L409.0 359.2 L410.0 359.9 L411.0 360.0 L412.0 359.7 L413.0 359.0 L414.1 359.7 L415.1 359.7 L416.1 359.7 L417.1 360.1 L418.1 359.8 L419.1 360.4 L420.1 360.9 L421.1 360.0 L422.2 360.8 L423.2 360.3 L424.2 360.8 L425.2 360.6 L426.2 361.2 L427.2 360.5 L428.2 361.1 L429.2 360.7 L430.2 361.1 L431.3 361.0 L432.3 361.5 L433.3 360.6 L434.3 360.8 L435.3 361.8 L436.3 361.5 L437.3 362.0 L438.3 361.1 L439.3 361.6 L440.4 361.8 L441.4 362.2 L442.4 361.7 L443.4 361.6 L444.4 362.1 L445.4 361.8 L446.4 361.7 L447.4 362.2 L448.4 361.4 L449.5 361.8 L450.5 362.6 L451.5 362.0 L452.5 362.1 L453.5 362.4 L454.5 362.7 L455.5 362.6 L456.5 362.1 L457.5 362.3 L458.6 362.9 L459.6 362.6 L460.6 362.4 L461.6 363.0 L462.6 363.1 L463.6 363.5 L464.6 362.5 L465.6 362.7 L466.7 362.7 L467.7 363.1 L468.7 362.9 L469.7 363.4 L470.7 362.2 L471.7 363.5 L472.7 363.0 L473.7 363.2 L474.7 363.5 L475.8 363.4 L476.8 363.0 L477.8 363.9 L478.8 363.7 L479.8 363.3 L480.8 363.6 L481.8 363.2 L482.8 363.2 L483.8 363.6 L484.8 363.8 L485.8 363.8 L486.8 363.5 L487.8 363.3 L488.8 363.3 L489.8 364.4 L490.8 364.0 L491.8 363.7 L492.8 364.4 L493.8 364.2 L494.8 363.9 L495.8 363.9 L496.8 364.5 L497.8 364.2 L498.8 364.7 L499.8 364.3 L500.8 364.0 L501.8 364.0 L502.9 364.0 L503.9 364.4 L504.9 364.4 L505.9 364.6 L506.9 364.5 L507.9 364.1 L508.9 364.4 L509.9 364.1 L510.9 364.6 L511.9 364.1 L512.9 364.3 L513.9 364.3 L514.9 364.4 L515.9 364.5 L516.9 365.1 L517.9 364.5 L518.9 364.2 L519.9 364.6 L520.9 365.0 L521.9 364.9 L522.9 364.8 L523.9 365.4 L524.9 365.2 L525.9 364.8 L526.9 365.2 L527.9 364.4 L528.9 364.8 L529.9 364.6 L530.9 365.0 L531.9 365.5 L532.9 364.8 L533.9 365.5 L534.9 364.6 L535.9 365.5 L536.9 364.4 L537.9 364.7 L538.9 365.4 L539.9 365.0 L540.9 365.1 L541.9 365.1 L542.9 365.2 L543.9 365.1 L544.9 364.8 L545.9 365.1 L546.9 365.2 L547.9 364.9 L549.0 365.4 L550.0 365.8 L551.0 364.7 L552.0 365.1 L553.0 365.2 L554.0 365.3 L555.0 365.4 L556.0 365.1 L557.0 365.4 L558.0 365.4 L559.0 365.4 L560.0 366.0 L561.0 365.5 L562.0 365.0 L563.0 365.0 L564.0 365.7 L565.0 365.4 L566.0 365.4 L567.0 365.1 L568.0 365.5 L569.0 365.6 L570.0 365.4 L571.0 365.6" stroke="#ee2020" stroke-width="1.35" fill="none" stroke-linejoin="round"/>
<path d="M80.0 358.4 L81.0 358.5 L82.1 358.5 L83.1 358.3 L84.2 358.0 L85.2 358.8 L86.3 359.1 L87.3 359.1 L88.4 359.2 L89.4 358.9 L90.5 359.1 L91.5 359.0 L92.6 359.5 L93.6 359.1 L94.7 360.0 L95.7 359.7 L96.8 359.4 L97.8 359.6 L98.8 359.2 L99.9 359.6 L100.9 359.8 L101.9 360.9 L103.0 359.9 L104.0 360.7 L105.0 360.5 L106.0 360.5 L107.1 361.0 L108.1 360.2 L109.1 361.4 L110.2 361.9 L111.2 361.5 L112.2 361.5 L113.3 361.7 L114.3 362.0 L115.3 361.7 L116.4 362.0 L117.4 362.3 L118.4 362.1 L119.4 362.4 L120.5 362.5 L121.5 362.7 L122.5 362.2 L123.6 362.4 L124.6 362.5 L125.6 363.0 L126.6 362.7 L127.7 362.1 L128.7 362.2 L129.7 363.3 L130.7 362.8 L131.8 362.2 L132.8 362.3 L133.8 362.7 L134.8 363.1 L135.9 363.1 L136.9 362.4 L137.9 362.4 L138.9 363.1 L140.0 362.1 L141.0 362.9 L142.0 362.4 L143.0 362.3 L144.1 362.6 L145.1 362.2 L146.1 361.7 L147.1 361.4 L148.2 361.8 L149.2 361.8 L150.2 362.0 L151.2 360.5 L152.3 361.7 L153.3 361.4 L154.3 361.5 L155.3 361.1 L156.3 360.7 L157.4 360.7 L158.4 360.5 L159.4 359.9 L160.4 359.9 L161.5 359.8 L162.5 359.4 L163.5 358.8 L164.5 358.6 L165.6 359.1 L166.6 358.8 L167.6 358.5 L168.6 357.8 L169.7 358.2 L170.7 357.5 L171.7 356.7 L172.7 357.6 L173.8 356.3 L174.8 357.3 L175.8 356.4 L176.8 355.8 L177.9 354.8 L178.9 355.1 L179.9 355.5 L180.9 355.1 L182.0 354.4 L183.0 353.4 L184.0 353.5 L185.0 353.1 L186.1 353.0 L187.1 352.4 L188.2 352.1 L189.2 351.0 L190.2 350.9 L191.3 351.1 L192.3 349.7 L193.4 350.0 L194.4 349.9 L195.4 348.8 L196.5 347.6 L197.5 347.9 L198.6 346.3 L199.6 346.4 L200.6 345.6 L201.7 345.5 L202.7 344.9 L203.8 343.9 L204.8 343.8 L205.8 342.9 L206.9 341.7 L207.9 340.8 L208.9 341.3 L210.0 339.6 L211.0 339.2 L212.0 338.3 L213.1 337.4 L214.1 336.3 L215.1 336.0 L216.2 335.3 L217.2 334.8 L218.3 333.5 L219.3 332.4 L220.3 331.8 L221.4 331.3 L222.4 330.6 L223.4 329.9 L224.5 328.7 L225.5 328.1 L226.5 327.2 L227.6 326.8 L228.6 325.4 L229.6 324.6 L230.7 323.8 L231.7 323.1 L232.8 321.4 L233.8 320.5 L234.8 319.6 L235.9 317.9 L236.9 318.1 L238.0 317.0 L239.0 315.6 L240.0 315.7 L241.1 313.9 L242.1 313.2 L243.2 312.0 L244.2 310.8 L245.2 309.1 L246.3 309.1 L247.3 307.8 L248.4 306.4 L249.4 306.0 L250.4 305.4 L251.5 304.7 L252.5 303.6 L253.5 302.5 L254.5 302.1 L255.6 300.7 L256.6 300.2 L257.6 299.7 L258.6 298.3 L259.7 298.3 L260.7 296.9 L261.7 296.8 L262.7 296.3 L263.8 296.4 L264.8 296.6 L265.8 296.3 L266.8 296.7 L267.8 296.6 L268.9 296.9 L269.9 297.5 L270.9 297.8 L271.9 298.5 L272.9 299.4 L274.0 299.6 L275.0 301.0 L276.0 301.1 L277.0 302.3 L278.0 302.8 L279.0 304.2 L280.1 305.9 L281.1 306.6 L282.1 308.0 L283.1 308.3 L284.2 309.7 L285.2 311.6 L286.3 313.1 L287.3 314.6 L288.4 315.3 L289.4 317.6 L290.5 318.9 L291.5 320.6 L292.6 322.4 L293.6 323.7 L294.6 324.9 L295.7 326.7 L296.7 328.2 L297.8 329.8 L298.8 331.7 L299.9 333.7 L300.9 334.4 L302.0 335.8 L303.0 336.9 L304.0 337.9 L305.0 339.6 L306.0 340.5 L307.0 341.6 L308.0 342.3 L309.0 343.8 L310.0 344.1 L311.0 345.6 L312.0 346.1 L313.0 347.4 L314.0 347.7 L315.0 348.9 L316.0 349.8 L317.0 350.4 L318.0 351.8 L319.0 352.1 L320.0 352.6 L321.0 354.0 L322.0 354.3 L323.0 355.3 L324.0 356.3 L325.0 357.2 L326.0 358.6 L327.0 358.3 L328.0 359.6 L329.0 360.8 L330.0 361.2 L331.0 362.1 L332.0 363.2 L333.0 362.9 L334.0 363.9 L335.0 364.8 L336.0 364.8 L337.0 364.9 L338.0 365.6 L339.0 366.5 L340.0 366.9 L341.0 367.9 L342.0 368.2 L343.0 367.6 L344.0 368.9 L345.0 369.3 L346.0 369.9 L347.0 369.7 L348.0 370.0 L349.0 370.6 L350.0 371.4 L351.0 371.4 L352.0 372.2 L353.0 372.2 L354.0 372.1 L355.0 372.2 L356.0 373.5 L357.0 372.7 L358.0 373.4 L359.0 373.7 L360.0 373.8 L361.0 374.2 L362.0 374.7 L363.0 375.7 L364.0 375.2 L365.0 375.3 L366.0 375.8 L367.0 376.3 L368.0 375.9 L369.0 376.3 L370.0 376.1 L371.1 377.2 L372.1 377.4 L373.1 377.9 L374.1 377.2 L375.1 378.6 L376.2 378.3 L377.2 378.2 L378.2 378.3 L379.2 378.6 L380.2 378.5 L381.2 379.3 L382.3 379.1 L383.3 379.2 L384.3 379.8 L385.3 379.9 L386.3 379.8 L387.4 380.1 L388.4 380.2 L389.4 381.0 L390.4 381.1 L391.4 380.7 L392.5 381.1 L393.5 381.7 L394.5 381.3 L395.5 382.2 L396.5 381.9 L397.6 382.1 L398.6 381.3 L399.6 382.5 L400.6 382.4 L401.6 382.7 L402.7 382.8 L403.7 382.9 L404.7 382.7 L405.7 383.3 L406.7 383.2 L407.7 382.9 L408.8 383.0 L409.8 383.6 L410.8 383.7 L411.8 383.0 L412.8 383.2 L413.9 384.3 L414.9 384.1 L415.9 385.2 L416.9 383.8 L417.9 384.3 L418.9 384.3 L420.0 384.8 L421.0 385.2 L422.0 385.3 L423.0 384.5 L424.0 385.4 L425.0 384.7 L426.0 385.3 L427.1 385.3 L428.1 385.5 L429.1 385.1 L430.1 385.9 L431.1 385.5 L432.1 385.6 L433.1 385.6 L434.2 385.4 L435.2 386.1 L436.2 386.0 L437.2 386.1 L438.2 386.7 L439.2 385.8 L440.2 386.1 L441.3 386.2 L442.3 386.6 L443.3 386.3 L444.3 386.7 L445.3 386.6 L446.3 385.9 L447.3 386.4 L448.4 386.0 L449.4 386.6 L450.4 386.6 L451.4 387.0 L452.4 386.9 L453.4 386.9 L454.4 387.4 L455.5 387.2 L456.5 386.6 L457.5 386.8 L458.5 387.2 L459.5 387.7 L460.5 387.1 L461.5 387.2 L462.6 387.4 L463.6 387.6 L464.6 387.4 L465.6 387.5 L466.6 387.3 L467.6 387.3 L468.6 387.3 L469.7 387.8 L470.7 387.4 L471.7 387.9 L472.7 387.9 L473.7 388.1 L474.7 386.9 L475.7 387.5 L476.8 387.5 L477.8 387.9 L478.8 388.2 L479.8 388.9 L480.8 388.6 L481.8 388.5 L482.8 388.3 L483.8 388.0 L484.8 388.4 L485.8 387.5 L486.8 388.6 L487.8 388.3 L488.8 388.6 L489.8 388.0 L490.8 388.1 L491.8 388.2 L492.8 388.5 L493.8 388.6 L494.8 388.4 L495.8 388.7 L496.8 388.9 L497.8 388.3 L498.8 388.7 L499.8 388.2 L500.8 388.6 L501.8 389.1 L502.9 388.6 L503.9 389.5 L504.9 389.1 L505.9 389.2 L506.9 389.0 L507.9 389.3 L508.9 389.4 L509.9 389.1 L510.9 388.9 L511.9 388.9 L512.9 389.8 L513.9 389.1 L514.9 389.0 L515.9 389.0 L516.9 388.7 L517.9 389.1 L518.9 389.4 L519.9 389.1 L520.9 389.1 L521.9 389.5 L522.9 389.5 L523.9 389.3 L524.9 389.5 L525.9 389.1 L526.9 389.8 L527.9 389.2 L528.9 389.4 L529.9 389.6 L530.9 389.4 L531.9 389.2 L532.9 390.3 L533.9 390.2 L534.9 389.1 L535.9 389.7 L536.9 389.3 L537.9 389.9 L538.9 389.3 L539.9 390.0 L540.9 390.0 L541.9 390.4 L542.9 390.3 L543.9 389.7 L544.9 390.2 L545.9 389.8 L546.9 389.9 L547.9 389.8 L549.0 389.4 L550.0 390.3 L551.0 389.4 L552.0 390.0 L553.0 390.3 L554.0 390.2 L555.0 389.6 L556.0 390.0 L557.0 390.5 L558.0 390.6 L559.0 390.8 L560.0 389.7 L561.0 390.5 L562.0 390.2 L563.0 390.6 L564.0 389.8 L565.0 390.4 L566.0 390.7 L567.0 390.3 L568.0 390.4 L569.0 390.2 L570.0 391.0 L571.0 390.1" stroke="#101010" stroke-width="1.35" fill="none" stroke-linejoin="round"/>
<text x="503.3" y="52.0" textLength="64.4" lengthAdjust="spacing" fill="#1a8a1a" stroke="#1a8a1a" stroke-width="0.45" font-size="12.6" font-weight="bold">&#923;=550nm</text>
<text x="503.3" y="75.0" textLength="63.3" lengthAdjust="spacing" fill="#4a1a10" stroke="#4a1a10" stroke-width="0.45" font-size="12.6" font-weight="bold">&#923;=530nm</text>
<text x="503.3" y="98.5" textLength="64.4" lengthAdjust="spacing" fill="#1a7070" stroke="#1a7070" stroke-width="0.45" font-size="12.6" font-weight="bold">&#923;=490nm</text>
<text x="503.3" y="123.7" textLength="64.4" lengthAdjust="spacing" fill="#10209a" stroke="#10209a" stroke-width="0.45" font-size="12.6" font-weight="bold">&#923;=470nm</text>
<text x="501.8" y="151.5" textLength="64.2" lengthAdjust="spacing" fill="#6a6a10" stroke="#6a6a10" stroke-width="0.45" font-size="12.6" font-weight="bold">&#923;=450nm</text>
<text x="501.8" y="175.5" textLength="64.2" lengthAdjust="spacing" fill="#8a1a1a" stroke="#8a1a1a" stroke-width="0.45" font-size="12.6" font-weight="bold">&#923;=430nm</text>
<text x="501.8" y="205.5" textLength="65.9" lengthAdjust="spacing" fill="#8a2a8a" stroke="#8a2a8a" stroke-width="0.45" font-size="12.6" font-weight="bold">&#923;=410nm</text>
<text x="503.3" y="225.7" textLength="64.4" lengthAdjust="spacing" fill="#9a2af0" stroke="#9a2af0" stroke-width="0.45" font-size="12.6" font-weight="bold">&#923;=390nm</text>
<text x="503.3" y="252.0" textLength="64.4" lengthAdjust="spacing" fill="#1a1a7a" stroke="#1a1a7a" stroke-width="0.45" font-size="12.6" font-weight="bold">&#923;=370nm</text>
<text x="503.8" y="281.8" textLength="64.8" lengthAdjust="spacing" fill="#1a7a1a" stroke="#1a7a1a" stroke-width="0.45" font-size="12.6" font-weight="bold">&#923;=350nm</text>
<text x="503.8" y="305.7" textLength="65.1" lengthAdjust="spacing" fill="#f02af0" stroke="#f02af0" stroke-width="0.45" font-size="12.6" font-weight="bold">&#923;=330nm</text>
<text x="505.4" y="335.5" textLength="63.0" lengthAdjust="spacing" fill="#1a2af0" stroke="#1a2af0" stroke-width="0.45" font-size="12.6" font-weight="bold">&#923;=310nm</text>
<text x="506.1" y="361.3" textLength="66.3" lengthAdjust="spacing" fill="#f01a1a" stroke="#f01a1a" stroke-width="0.45" font-size="12.6" font-weight="bold">&#923;=270nm</text>
<text x="507.0" y="385.3" textLength="64.7" lengthAdjust="spacing" fill="#101010" stroke="#101010" stroke-width="0.45" font-size="12.6" font-weight="bold">&#923;=250nm</text>
<path d="M660.5 17.9 L1150.6 17.9" stroke="#141414" stroke-width="2" fill="none"/>
<path d="M661.0 17.299999999999997 L661.0 389.4 M1150.0 17.299999999999997 L1150.0 389.4 M661.0 381.9 L1150.0 381.9" stroke="#141414" stroke-width="1.25" fill="none"/>
<path d="M688.2 381.9 L688.2 386.4 M715.3 381.9 L715.3 389.4 M742.5 381.9 L742.5 386.4 M769.7 381.9 L769.7 389.4 M796.8 381.9 L796.8 386.4 M824.0 381.9 L824.0 389.4 M851.2 381.9 L851.2 386.4 M878.3 381.9 L878.3 389.4 M905.5 381.9 L905.5 386.4 M932.7 381.9 L932.7 389.4 M959.8 381.9 L959.8 386.4 M987.0 381.9 L987.0 389.4 M1014.2 381.9 L1014.2 386.4 M1041.3 381.9 L1041.3 389.4 M1068.5 381.9 L1068.5 386.4 M1095.7 381.9 L1095.7 389.4 M1122.8 381.9 L1122.8 386.4" stroke="#141414" stroke-width="1.4" fill="none"/>
<path d="M655.0 382.0 L661.0 382.0 M657.4 344.1 L661.0 344.1 M655.0 306.1 L661.0 306.1 M657.4 268.2 L661.0 268.2 M655.0 230.2 L661.0 230.2 M657.4 192.3 L661.0 192.3 M655.0 154.4 L661.0 154.4 M657.4 116.4 L661.0 116.4 M655.0 78.5 L661.0 78.5 M657.4 40.6 L661.0 40.6" stroke="#141414" stroke-width="1.5" fill="none"/>
<text x="661.0" y="405" text-anchor="middle" font-size="14" fill="#1c1a28">450</text>
<text x="715.3" y="405" text-anchor="middle" font-size="14" fill="#1c1a28">500</text>
<text x="769.7" y="405" text-anchor="middle" font-size="14" fill="#1c1a28">550</text>
<text x="824.0" y="405" text-anchor="middle" font-size="14" fill="#1c1a28">600</text>
<text x="878.3" y="405" text-anchor="middle" font-size="14" fill="#1c1a28">650</text>
<text x="932.7" y="405" text-anchor="middle" font-size="14" fill="#1c1a28">700</text>
<text x="987.0" y="405" text-anchor="middle" font-size="14" fill="#1c1a28">750</text>
<text x="1041.3" y="405" text-anchor="middle" font-size="14" fill="#1c1a28">800</text>
<text x="1095.7" y="405" text-anchor="middle" font-size="14" fill="#1c1a28">850</text>
<text x="1150.0" y="405" text-anchor="middle" font-size="14" fill="#1c1a28">900</text>
<text x="649.2" y="385.8" text-anchor="end" font-size="14" fill="#1c1a28">0.0</text>
<text x="649.2" y="309.9" text-anchor="end" font-size="14" fill="#1c1a28">0.5</text>
<text x="649.2" y="234.1" text-anchor="end" font-size="14" fill="#1c1a28">1.0</text>
<text x="649.2" y="158.2" text-anchor="end" font-size="14" fill="#1c1a28">1.5</text>
<text x="649.2" y="82.3" text-anchor="end" font-size="14" fill="#1c1a28">2.0</text>
<text x="840.9" y="434.8" textLength="128" lengthAdjust="spacing" font-size="16" fill="#1c1a28">wavelength (nm)</text>
<text transform="translate(602.4,271.6) rotate(-90)" x="0" y="0" textLength="118" lengthAdjust="spacing" font-size="16" fill="#1c1a28">extinction (a.u.)</text>
<text x="610.2" y="38.4" textLength="34" lengthAdjust="spacingAndGlyphs" font-size="30" fill="#111">(b)</text>
<path d="M661.0 29.3 L662.0 29.3 L663.0 29.4 L664.0 29.4 L665.0 29.5 L666.0 29.5 L667.0 29.6 L668.0 29.6 L669.0 29.7 L670.0 29.7 L671.0 29.8 L672.0 29.8 L673.0 29.9 L674.0 29.9 L675.0 30.0 L676.0 30.1 L677.1 30.1 L678.1 30.2 L679.2 30.3 L680.2 30.4 L681.3 30.4 L682.3 30.5 L683.4 30.6 L684.4 30.6 L685.5 30.7 L686.5 30.7 L687.6 30.8 L688.6 30.8 L689.6 30.8 L690.6 30.8 L691.6 30.8 L692.6 30.8 L693.6 30.9 L694.6 30.9 L695.6 30.9 L696.6 30.9 L697.6 30.9 L698.6 30.9 L699.6 30.9 L700.6 30.9 L701.6 30.9 L702.6 30.9 L703.6 30.9 L704.6 30.9 L705.6 30.9 L706.6 30.9 L707.6 30.9 L708.6 30.9 L709.6 30.9 L710.6 30.9 L711.6 30.9 L712.6 30.9 L713.6 30.9 L714.6 30.9 L715.6 30.9 L716.6 30.9 L717.6 30.9 L718.6 30.9 L719.6 30.9 L720.6 30.9 L721.6 30.9 L722.6 30.9 L723.6 30.9 L724.6 30.9 L725.6 30.8 L726.6 30.8 L727.6 30.8 L728.6 30.8 L729.6 30.8 L730.6 30.8 L731.6 30.8 L732.6 30.8 L733.6 30.8 L734.6 30.8 L735.6 30.8 L736.6 30.8 L737.7 30.8 L738.7 30.8 L739.7 30.8 L740.7 30.8 L741.7 30.8 L742.7 30.8 L743.7 30.8 L744.7 30.8 L745.7 30.8 L746.7 30.8 L747.7 30.8 L748.7 30.8 L749.8 30.8 L750.8 30.8 L751.8 30.8 L752.8 30.8 L753.8 30.8 L754.8 30.8 L755.8 30.8 L756.8 30.8 L757.8 30.8 L758.8 30.8 L759.8 30.8 L760.8 30.8 L761.9 30.8 L762.9 30.8 L763.9 30.8 L764.9 30.8 L765.9 30.8 L766.9 30.8 L767.9 30.8 L768.9 30.7 L769.9 30.7 L770.9 30.7 L771.9 30.7 L772.9 30.7 L774.0 30.7 L775.0 30.7 L776.0 30.7 L777.0 30.7 L778.0 30.7 L779.0 30.7 L780.0 30.6 L781.0 30.6 L782.0 30.6 L783.0 30.6 L784.0 30.6 L785.0 30.6 L786.1 30.5 L787.1 30.5 L788.1 30.5 L789.1 30.5 L790.1 30.4 L791.1 30.4 L792.1 30.4 L793.1 30.3 L794.1 30.3 L795.1 30.3 L796.1 30.2 L797.1 30.2 L798.2 30.1 L799.2 30.1 L800.2 30.1 L801.2 30.0 L802.2 30.0 L803.2 29.9 L804.2 29.8 L805.2 29.8 L806.3 29.7 L807.3 29.6 L808.3 29.5 L809.3 29.3 L810.4 29.2 L811.4 29.1 L812.4 28.9 L813.4 28.8 L814.4 28.6 L815.5 28.4 L816.5 28.3 L817.5 28.1 L818.5 27.9 L819.5 27.7 L820.6 27.5 L821.6 27.3 L822.6 27.1 L823.6 26.9 L824.6 26.8 L825.7 26.6 L826.7 26.4 L827.7 26.2 L828.7 26.0 L829.8 25.8 L830.8 25.7 L831.8 25.5 L832.8 25.3 L833.8 25.2 L834.8 25.0 L835.8 24.8 L836.9 24.6 L837.9 24.5 L838.9 24.3 L839.9 24.1 L840.9 23.9 L841.9 23.7 L842.9 23.6 L843.9 23.4 L844.9 23.2 L846.0 23.1 L847.0 22.9 L848.0 22.8 L849.0 22.6 L850.0 22.5 L851.0 22.4 L852.1 22.3 L853.1 22.1 L854.2 22.0 L855.2 21.9 L856.3 21.8 L857.3 21.7 L858.3 21.6 L859.4 21.5 L860.4 21.4 L861.5 21.3 L862.5 21.2 L863.6 21.1 L864.6 21.0 L865.6 20.9 L866.7 20.9 L867.7 20.8 L868.8 20.8 L869.8 20.7 L870.9 20.7 L871.9 20.7 L872.9 20.7 L873.9 20.7 L874.9 20.7 L875.9 20.8 L876.9 20.8 L877.9 20.9 L878.9 20.9 L879.9 21.0 L881.0 21.1 L882.0 21.2 L883.0 21.3 L884.0 21.3 L885.0 21.5 L886.0 21.6 L887.0 21.7 L888.0 21.8 L889.0 21.9 L890.0 22.0 L891.0 22.1 L892.1 22.3 L893.1 22.4 L894.1 22.6 L895.2 22.8 L896.2 23.0 L897.2 23.2 L898.2 23.4 L899.3 23.6 L900.3 23.8 L901.3 23.9 L902.4 24.1 L903.4 24.2 L904.4 24.3 L905.4 24.4 L906.4 24.5 L907.5 24.6 L908.5 24.8 L909.5 24.9 L910.5 25.0 L911.5 25.1 L912.5 25.2 L913.6 25.3 L914.6 25.4 L915.6 25.5 L916.6 25.6 L917.6 25.7 L918.6 25.8 L919.6 25.9 L920.7 26.0 L921.7 26.1 L922.7 26.2 L923.7 26.3 L924.7 26.3 L925.7 26.4 L926.8 26.5 L927.8 26.6 L928.8 26.7 L929.8 26.8 L930.8 26.9 L931.8 27.0 L932.8 27.1 L933.9 27.1 L934.9 27.2 L935.9 27.3 L936.9 27.4 L937.9 27.5 L938.9 27.6 L940.0 27.7 L941.0 27.7 L942.0 27.8 L943.0 27.9 L944.0 28.0 L945.0 28.1 L946.1 28.1 L947.1 28.2 L948.1 28.3 L949.1 28.4 L950.1 28.5 L951.2 28.5 L952.2 28.6 L953.2 28.7 L954.2 28.8 L955.3 28.8 L956.3 28.9 L957.3 29.0 L958.3 29.1 L959.3 29.1 L960.4 29.2 L961.4 29.3 L962.4 29.3 L963.4 29.4 L964.5 29.5 L965.5 29.5 L966.5 29.6 L967.5 29.7 L968.5 29.7 L969.6 29.8 L970.6 29.9 L971.6 29.9 L972.6 30.0 L973.6 30.1 L974.7 30.1 L975.7 30.2 L976.7 30.3 L977.7 30.3 L978.8 30.4 L979.8 30.4 L980.8 30.5 L981.8 30.6 L982.8 30.6 L983.9 30.7 L984.9 30.7 L985.9 30.8 L986.9 30.9 L987.9 30.9 L988.9 31.0 L989.9 31.0 L990.9 31.1 L991.9 31.1 L992.9 31.2 L993.9 31.2 L994.9 31.3 L996.0 31.3 L997.0 31.4 L998.0 31.4 L999.0 31.5 L1000.0 31.5 L1001.0 31.6 L1002.0 31.6 L1003.0 31.7 L1004.0 31.7 L1005.0 31.8 L1006.0 31.8 L1007.0 31.9 L1008.0 31.9 L1009.0 32.0 L1010.0 32.0 L1011.0 32.0 L1012.0 32.1 L1013.0 32.1 L1014.0 32.2 L1015.1 32.2 L1016.1 32.3 L1017.1 32.3 L1018.1 32.4 L1019.1 32.4 L1020.1 32.5 L1021.1 32.5 L1022.1 32.5 L1023.1 32.6 L1024.1 32.6 L1025.1 32.7 L1026.1 32.7 L1027.1 32.8 L1028.1 32.8 L1029.1 32.9 L1030.1 32.9 L1031.1 33.0 L1032.1 33.0 L1033.1 33.1 L1034.2 33.1 L1035.2 33.2 L1036.2 33.2 L1037.2 33.3 L1038.2 33.3 L1039.2 33.4 L1040.2 33.4 L1041.2 33.5 L1042.2 33.5 L1043.2 33.6 L1044.2 33.7 L1045.2 33.7 L1046.3 33.8 L1047.3 33.9 L1048.3 33.9 L1049.3 34.0 L1050.3 34.1 L1051.4 34.2 L1052.4 34.2 L1053.4 34.3 L1054.4 34.4 L1055.5 34.5 L1056.5 34.5 L1057.5 34.6 L1058.5 34.7 L1059.5 34.8 L1060.6 34.9 L1061.6 34.9 L1062.6 35.0 L1063.6 35.1 L1064.7 35.2 L1065.7 35.2 L1066.7 35.3 L1067.7 35.4 L1068.7 35.4 L1069.8 35.5 L1070.8 35.5 L1071.8 35.6 L1072.8 35.6 L1073.8 35.7 L1074.8 35.7 L1075.8 35.8 L1076.8 35.8 L1077.8 35.8 L1078.8 35.9 L1079.9 35.9 L1080.9 35.9 L1081.9 36.0 L1082.9 36.0 L1083.9 36.0 L1084.9 36.1 L1085.9 36.1 L1086.9 36.1 L1087.9 36.1 L1088.9 36.1 L1089.9 36.2 L1090.9 36.2 L1091.9 36.2 L1093.0 36.2 L1094.0 36.2 L1095.0 36.2 L1096.0 36.3 L1097.0 36.3 L1098.0 36.3 L1099.0 36.3 L1100.0 36.3 L1101.0 36.3 L1102.0 36.3 L1103.0 36.3 L1104.0 36.3 L1105.0 36.4 L1106.0 36.4 L1107.0 36.4 L1108.0 36.4 L1109.0 36.4 L1110.0 36.4 L1111.0 36.4 L1112.0 36.4 L1113.0 36.4 L1114.0 36.4 L1115.0 36.4 L1116.0 36.4 L1117.0 36.4 L1118.0 36.4 L1119.0 36.4 L1120.0 36.4 L1121.0 36.4 L1122.0 36.4 L1123.0 36.4 L1124.0 36.4 L1125.0 36.4 L1126.0 36.4 L1127.0 36.5 L1128.0 36.5 L1129.0 36.5 L1130.0 36.5 L1131.0 36.5 L1132.0 36.5 L1133.0 36.5 L1134.0 36.5 L1135.0 36.5 L1136.0 36.5 L1137.0 36.5 L1138.0 36.5 L1139.0 36.5 L1140.0 36.5 L1141.0 36.5 L1142.0 36.5 L1143.0 36.5 L1144.0 36.5 L1145.0 36.5 L1146.0 36.5 L1147.0 36.5 L1148.0 36.5 L1149.0 36.5 L1150.0 36.5" stroke="#38c8d0" stroke-width="1.5" fill="none" stroke-linejoin="round"/>
<path d="M661.0 52.2 L662.0 52.2 L663.0 52.3 L664.0 52.3 L665.0 52.3 L666.1 52.4 L667.1 52.4 L668.1 52.4 L669.1 52.5 L670.1 52.5 L671.1 52.5 L672.1 52.6 L673.1 52.6 L674.2 52.6 L675.2 52.7 L676.2 52.7 L677.2 52.7 L678.2 52.8 L679.2 52.8 L680.2 52.8 L681.2 52.9 L682.3 52.9 L683.3 52.9 L684.3 53.0 L685.3 53.0 L686.3 53.0 L687.3 53.0 L688.3 53.0 L689.3 53.1 L690.4 53.1 L691.4 53.1 L692.4 53.1 L693.4 53.1 L694.4 53.1 L695.4 53.1 L696.4 53.1 L697.4 53.1 L698.4 53.1 L699.4 53.1 L700.4 53.1 L701.5 53.1 L702.5 53.1 L703.5 53.1 L704.5 53.1 L705.5 53.1 L706.5 53.1 L707.5 53.1 L708.5 53.1 L709.5 53.1 L710.5 53.1 L711.5 53.1 L712.5 53.1 L713.6 53.1 L714.6 53.1 L715.6 53.1 L716.6 53.1 L717.6 53.1 L718.6 53.1 L719.6 53.1 L720.6 53.1 L721.6 53.1 L722.6 53.1 L723.6 53.1 L724.6 53.1 L725.6 53.1 L726.7 53.1 L727.7 53.1 L728.7 53.1 L729.7 53.1 L730.7 53.1 L731.7 53.1 L732.7 53.1 L733.7 53.1 L734.7 53.1 L735.7 53.1 L736.7 53.0 L737.7 53.0 L738.8 53.0 L739.8 53.0 L740.8 53.0 L741.8 53.0 L742.8 53.0 L743.8 53.0 L744.8 53.0 L745.8 53.0 L746.8 53.0 L747.8 53.0 L748.8 52.9 L749.8 52.9 L750.8 52.9 L751.9 52.9 L752.9 52.9 L753.9 52.9 L754.9 52.9 L755.9 52.9 L756.9 52.8 L757.9 52.8 L758.9 52.8 L759.9 52.8 L760.9 52.8 L761.9 52.8 L762.9 52.7 L763.9 52.7 L765.0 52.7 L766.0 52.7 L767.0 52.7 L768.0 52.6 L769.0 52.6 L770.0 52.6 L771.0 52.6 L772.0 52.5 L773.0 52.5 L774.0 52.5 L775.0 52.5 L776.0 52.4 L777.1 52.4 L778.1 52.4 L779.1 52.3 L780.1 52.3 L781.1 52.3 L782.1 52.2 L783.1 52.2 L784.1 52.2 L785.1 52.1 L786.1 52.1 L787.1 52.0 L788.2 51.9 L789.2 51.9 L790.2 51.8 L791.2 51.7 L792.2 51.6 L793.2 51.6 L794.2 51.5 L795.2 51.4 L796.3 51.3 L797.3 51.2 L798.3 51.1 L799.3 51.0 L800.3 50.8 L801.3 50.7 L802.3 50.6 L803.3 50.5 L804.3 50.4 L805.4 50.3 L806.4 50.1 L807.4 50.0 L808.4 49.9 L809.4 49.8 L810.4 49.7 L811.4 49.5 L812.4 49.4 L813.5 49.3 L814.5 49.2 L815.5 49.0 L816.5 48.9 L817.5 48.8 L818.5 48.7 L819.5 48.6 L820.6 48.4 L821.6 48.3 L822.6 48.2 L823.6 48.0 L824.6 47.9 L825.6 47.7 L826.7 47.6 L827.7 47.4 L828.7 47.3 L829.7 47.1 L830.7 47.0 L831.8 46.8 L832.8 46.7 L833.8 46.5 L834.8 46.4 L835.8 46.3 L836.9 46.1 L837.9 46.0 L838.9 45.8 L839.9 45.7 L840.9 45.5 L841.9 45.4 L843.0 45.3 L844.0 45.1 L845.0 45.0 L846.0 44.9 L847.0 44.7 L848.0 44.6 L849.0 44.5 L850.0 44.4 L851.1 44.2 L852.1 44.1 L853.1 44.0 L854.1 43.8 L855.1 43.7 L856.1 43.6 L857.1 43.5 L858.1 43.4 L859.1 43.3 L860.1 43.2 L861.2 43.1 L862.2 43.0 L863.2 42.9 L864.2 42.9 L865.2 42.8 L866.2 42.8 L867.2 42.8 L868.3 42.8 L869.3 42.8 L870.4 42.8 L871.4 42.8 L872.4 42.8 L873.5 42.8 L874.5 42.9 L875.6 42.9 L876.6 42.9 L877.7 43.0 L878.7 43.0 L879.7 43.1 L880.8 43.2 L881.8 43.2 L882.9 43.3 L883.9 43.3 L884.9 43.4 L886.0 43.5 L887.0 43.5 L888.1 43.6 L889.1 43.6 L890.2 43.6 L891.3 43.7 L892.4 43.7 L893.5 43.8 L894.5 43.8 L895.6 43.9 L896.7 44.0 L897.8 44.0 L898.9 44.1 L900.0 44.2 L901.0 44.3 L902.0 44.4 L903.0 44.5 L904.0 44.5 L905.0 44.6 L906.0 44.7 L907.0 44.8 L908.0 44.9 L909.0 45.0 L910.1 45.1 L911.1 45.2 L912.1 45.2 L913.1 45.3 L914.1 45.4 L915.1 45.5 L916.1 45.6 L917.1 45.7 L918.1 45.8 L919.1 45.9 L920.1 46.0 L921.1 46.0 L922.1 46.1 L923.1 46.2 L924.1 46.3 L925.1 46.4 L926.1 46.5 L927.1 46.6 L928.1 46.7 L929.2 46.8 L930.2 46.9 L931.2 47.0 L932.2 47.0 L933.2 47.1 L934.2 47.2 L935.2 47.3 L936.2 47.4 L937.2 47.5 L938.2 47.6 L939.2 47.7 L940.2 47.8 L941.2 47.9 L942.2 48.0 L943.2 48.1 L944.2 48.2 L945.2 48.3 L946.2 48.4 L947.2 48.4 L948.3 48.5 L949.3 48.6 L950.3 48.7 L951.3 48.8 L952.3 48.9 L953.3 49.0 L954.3 49.1 L955.3 49.2 L956.3 49.3 L957.3 49.4 L958.3 49.5 L959.3 49.6 L960.3 49.7 L961.3 49.8 L962.3 49.9 L963.3 50.0 L964.3 50.1 L965.3 50.2 L966.3 50.3 L967.3 50.3 L968.3 50.4 L969.3 50.5 L970.3 50.6 L971.3 50.7 L972.4 50.8 L973.4 50.9 L974.4 51.0 L975.4 51.1 L976.4 51.2 L977.4 51.3 L978.4 51.4 L979.4 51.5 L980.4 51.6 L981.4 51.7 L982.4 51.8 L983.4 51.9 L984.4 52.0 L985.4 52.1 L986.4 52.2 L987.4 52.3 L988.4 52.4 L989.4 52.5 L990.4 52.6 L991.4 52.7 L992.4 52.8 L993.4 52.9 L994.4 53.0 L995.4 53.1 L996.4 53.2 L997.4 53.3 L998.4 53.4 L999.4 53.5 L1000.5 53.6 L1001.5 53.7 L1002.5 53.8 L1003.5 53.9 L1004.5 54.0 L1005.5 54.1 L1006.5 54.2 L1007.5 54.3 L1008.5 54.4 L1009.5 54.5 L1010.5 54.7 L1011.5 54.8 L1012.5 54.9 L1013.5 55.0 L1014.5 55.1 L1015.5 55.2 L1016.5 55.4 L1017.5 55.5 L1018.5 55.7 L1019.5 55.8 L1020.5 56.0 L1021.5 56.2 L1022.5 56.4 L1023.5 56.6 L1024.5 56.8 L1025.5 57.0 L1026.5 57.1 L1027.5 57.3 L1028.5 57.5 L1029.5 57.7 L1030.5 57.8 L1031.5 58.0 L1032.5 58.1 L1033.5 58.2 L1034.5 58.3 L1035.5 58.4 L1036.5 58.5 L1037.5 58.5 L1038.5 58.5 L1039.5 58.5 L1040.5 58.6 L1041.5 58.6 L1042.5 58.6 L1043.5 58.6 L1044.5 58.7 L1045.5 58.7 L1046.5 58.7 L1047.5 58.7 L1048.5 58.7 L1049.6 58.7 L1050.6 58.8 L1051.6 58.8 L1052.6 58.8 L1053.6 58.8 L1054.6 58.8 L1055.6 58.8 L1056.6 58.8 L1057.6 58.8 L1058.6 58.8 L1059.6 58.9 L1060.6 58.9 L1061.6 58.9 L1062.6 58.9 L1063.6 58.9 L1064.6 58.9 L1065.6 58.9 L1066.6 58.9 L1067.6 58.9 L1068.6 58.9 L1069.6 58.9 L1070.6 58.9 L1071.7 58.9 L1072.7 58.9 L1073.7 58.9 L1074.7 58.9 L1075.7 58.9 L1076.7 58.9 L1077.7 58.9 L1078.7 58.9 L1079.7 58.9 L1080.7 58.9 L1081.7 58.9 L1082.7 58.9 L1083.7 58.9 L1084.7 58.9 L1085.7 58.9 L1086.7 58.9 L1087.7 58.9 L1088.7 58.9 L1089.7 58.9 L1090.7 58.9 L1091.7 58.9 L1092.7 58.9 L1093.8 58.9 L1094.8 58.8 L1095.8 58.8 L1096.8 58.8 L1097.8 58.8 L1098.8 58.8 L1099.8 58.8 L1100.8 58.8 L1101.8 58.8 L1102.8 58.8 L1103.8 58.8 L1104.8 58.8 L1105.8 58.8 L1106.8 58.8 L1107.8 58.7 L1108.8 58.7 L1109.8 58.7 L1110.8 58.7 L1111.8 58.7 L1112.8 58.7 L1113.8 58.7 L1114.8 58.7 L1115.8 58.7 L1116.9 58.7 L1117.9 58.7 L1118.9 58.7 L1119.9 58.6 L1120.9 58.6 L1121.9 58.6 L1122.9 58.6 L1123.9 58.6 L1124.9 58.6 L1125.9 58.6 L1126.9 58.6 L1127.9 58.6 L1128.9 58.6 L1129.9 58.6 L1130.9 58.6 L1131.9 58.6 L1132.9 58.6 L1133.9 58.5 L1134.9 58.5 L1135.9 58.5 L1136.9 58.5 L1137.9 58.5 L1139.0 58.5 L1140.0 58.5 L1141.0 58.5 L1142.0 58.5 L1143.0 58.5 L1144.0 58.5 L1145.0 58.5 L1146.0 58.5 L1147.0 58.5 L1148.0 58.5 L1149.0 58.5 L1150.0 58.5" stroke="#9a1a62" stroke-width="1.5" fill="none" stroke-linejoin="round"/>
<path d="M661.0 74.6 L662.0 74.6 L663.0 74.7 L664.1 74.7 L665.1 74.8 L666.1 74.8 L667.1 74.9 L668.2 74.9 L669.2 75.0 L670.2 75.0 L671.2 75.1 L672.2 75.2 L673.3 75.2 L674.3 75.3 L675.3 75.3 L676.3 75.4 L677.4 75.4 L678.4 75.5 L679.4 75.5 L680.4 75.5 L681.4 75.6 L682.5 75.6 L683.5 75.6 L684.5 75.7 L685.5 75.7 L686.6 75.7 L687.6 75.7 L688.6 75.7 L689.6 75.7 L690.6 75.7 L691.6 75.7 L692.6 75.7 L693.7 75.7 L694.7 75.7 L695.7 75.7 L696.7 75.7 L697.7 75.7 L698.7 75.7 L699.7 75.7 L700.7 75.7 L701.7 75.7 L702.7 75.7 L703.8 75.7 L704.8 75.7 L705.8 75.7 L706.8 75.7 L707.8 75.7 L708.8 75.7 L709.8 75.7 L710.8 75.7 L711.8 75.7 L712.9 75.7 L713.9 75.7 L714.9 75.7 L715.9 75.7 L716.9 75.7 L717.9 75.7 L718.9 75.6 L719.9 75.6 L720.9 75.6 L721.9 75.6 L723.0 75.6 L724.0 75.6 L725.0 75.6 L726.0 75.6 L727.0 75.6 L728.0 75.6 L729.0 75.6 L730.0 75.6 L731.0 75.6 L732.1 75.6 L733.1 75.5 L734.1 75.5 L735.1 75.5 L736.1 75.5 L737.1 75.5 L738.1 75.5 L739.1 75.5 L740.1 75.5 L741.2 75.4 L742.2 75.4 L743.2 75.4 L744.2 75.4 L745.2 75.4 L746.2 75.4 L747.2 75.3 L748.2 75.3 L749.2 75.3 L750.2 75.3 L751.3 75.3 L752.3 75.2 L753.3 75.2 L754.3 75.2 L755.3 75.2 L756.3 75.2 L757.3 75.1 L758.3 75.1 L759.3 75.1 L760.4 75.1 L761.4 75.0 L762.4 75.0 L763.4 75.0 L764.4 74.9 L765.4 74.9 L766.4 74.9 L767.4 74.8 L768.4 74.8 L769.4 74.8 L770.5 74.7 L771.5 74.7 L772.5 74.7 L773.5 74.6 L774.5 74.6 L775.5 74.6 L776.5 74.5 L777.5 74.5 L778.5 74.4 L779.5 74.4 L780.5 74.3 L781.5 74.2 L782.5 74.2 L783.5 74.1 L784.5 74.0 L785.5 74.0 L786.5 73.9 L787.5 73.8 L788.5 73.7 L789.5 73.7 L790.5 73.6 L791.5 73.5 L792.5 73.4 L793.5 73.3 L794.5 73.2 L795.5 73.1 L796.5 73.0 L797.5 72.9 L798.5 72.8 L799.5 72.7 L800.5 72.6 L801.5 72.5 L802.5 72.4 L803.5 72.3 L804.5 72.2 L805.5 72.1 L806.5 72.0 L807.5 71.9 L808.5 71.8 L809.5 71.7 L810.5 71.6 L811.5 71.5 L812.5 71.3 L813.5 71.2 L814.5 71.1 L815.5 71.0 L816.5 70.9 L817.5 70.8 L818.5 70.7 L819.5 70.6 L820.5 70.5 L821.6 70.3 L822.6 70.2 L823.6 70.1 L824.6 69.9 L825.6 69.8 L826.6 69.7 L827.7 69.5 L828.7 69.4 L829.7 69.2 L830.7 69.1 L831.7 69.0 L832.7 68.8 L833.8 68.7 L834.8 68.5 L835.8 68.4 L836.8 68.2 L837.8 68.1 L838.8 67.9 L839.8 67.8 L840.9 67.6 L841.9 67.5 L842.9 67.4 L843.9 67.2 L844.9 67.1 L845.9 67.0 L847.0 66.9 L848.0 66.7 L849.0 66.6 L850.0 66.5 L851.0 66.4 L852.0 66.3 L853.1 66.2 L854.1 66.0 L855.1 65.9 L856.1 65.8 L857.2 65.7 L858.2 65.6 L859.2 65.5 L860.2 65.4 L861.3 65.3 L862.3 65.2 L863.3 65.1 L864.3 65.0 L865.4 64.9 L866.4 64.8 L867.4 64.7 L868.4 64.6 L869.5 64.5 L870.5 64.4 L871.5 64.4 L872.5 64.3 L873.6 64.2 L874.6 64.2 L875.6 64.1 L876.6 64.1 L877.7 64.1 L878.7 64.0 L879.7 64.0 L880.7 64.0 L881.7 64.0 L882.7 64.0 L883.8 64.0 L884.8 64.1 L885.8 64.1 L886.8 64.2 L887.8 64.3 L888.8 64.3 L889.9 64.4 L890.9 64.5 L891.9 64.6 L892.9 64.7 L893.9 64.8 L894.9 64.9 L895.9 65.1 L897.0 65.2 L898.0 65.3 L899.0 65.4 L900.0 65.5 L901.0 65.6 L902.0 65.7 L903.0 65.9 L904.1 66.0 L905.1 66.1 L906.1 66.3 L907.1 66.4 L908.1 66.6 L909.1 66.7 L910.2 66.9 L911.2 67.0 L912.2 67.2 L913.2 67.4 L914.2 67.5 L915.2 67.7 L916.3 67.8 L917.3 67.9 L918.3 68.1 L919.3 68.2 L920.3 68.3 L921.3 68.4 L922.3 68.6 L923.3 68.7 L924.3 68.8 L925.3 68.9 L926.3 69.0 L927.3 69.2 L928.3 69.3 L929.3 69.4 L930.3 69.5 L931.3 69.6 L932.3 69.7 L933.3 69.8 L934.3 70.0 L935.3 70.1 L936.3 70.2 L937.3 70.3 L938.3 70.4 L939.3 70.5 L940.3 70.6 L941.3 70.7 L942.3 70.8 L943.3 71.0 L944.3 71.1 L945.3 71.2 L946.3 71.3 L947.3 71.4 L948.3 71.5 L949.3 71.6 L950.3 71.7 L951.3 71.8 L952.3 71.9 L953.3 72.1 L954.3 72.2 L955.3 72.3 L956.3 72.4 L957.3 72.5 L958.3 72.6 L959.3 72.7 L960.3 72.8 L961.3 72.9 L962.3 73.0 L963.3 73.1 L964.3 73.2 L965.3 73.3 L966.3 73.4 L967.4 73.5 L968.4 73.6 L969.4 73.7 L970.4 73.8 L971.4 73.9 L972.4 74.0 L973.4 74.1 L974.4 74.2 L975.4 74.3 L976.4 74.4 L977.4 74.5 L978.4 74.6 L979.4 74.7 L980.4 74.8 L981.4 74.9 L982.4 75.0 L983.4 75.2 L984.4 75.3 L985.5 75.4 L986.5 75.5 L987.5 75.6 L988.5 75.8 L989.5 75.9 L990.5 76.0 L991.5 76.2 L992.5 76.3 L993.5 76.4 L994.5 76.6 L995.5 76.8 L996.5 77.0 L997.6 77.3 L998.6 77.6 L999.6 77.9 L1000.6 78.3 L1001.6 78.6 L1002.7 78.9 L1003.7 79.3 L1004.7 79.6 L1005.7 79.8 L1006.8 80.0 L1007.8 80.2 L1008.8 80.3 L1009.8 80.4 L1010.8 80.4 L1011.8 80.5 L1012.8 80.5 L1013.8 80.6 L1014.8 80.7 L1015.8 80.7 L1016.8 80.8 L1017.8 80.8 L1018.8 80.8 L1019.8 80.9 L1020.8 80.9 L1021.8 81.0 L1022.8 81.0 L1023.8 81.0 L1024.8 81.1 L1025.8 81.1 L1026.8 81.1 L1027.8 81.2 L1028.8 81.2 L1029.8 81.2 L1030.8 81.2 L1031.8 81.3 L1032.8 81.3 L1033.8 81.3 L1034.8 81.3 L1035.8 81.3 L1036.8 81.4 L1037.8 81.4 L1038.8 81.4 L1039.8 81.4 L1040.8 81.4 L1041.8 81.4 L1042.8 81.4 L1043.8 81.4 L1044.8 81.5 L1045.8 81.5 L1046.8 81.5 L1047.8 81.5 L1048.8 81.5 L1049.8 81.5 L1050.8 81.5 L1051.8 81.5 L1052.8 81.5 L1053.8 81.5 L1054.8 81.5 L1055.8 81.5 L1056.8 81.6 L1057.8 81.6 L1058.8 81.6 L1059.8 81.6 L1060.8 81.6 L1061.8 81.6 L1062.8 81.6 L1063.8 81.6 L1064.8 81.6 L1065.8 81.6 L1066.8 81.6 L1067.8 81.6 L1068.8 81.7 L1069.8 81.7 L1070.8 81.7 L1071.8 81.7 L1072.8 81.7 L1073.8 81.7 L1074.8 81.7 L1075.8 81.8 L1076.8 81.8 L1077.8 81.8 L1078.8 81.8 L1079.8 81.8 L1080.8 81.8 L1081.8 81.8 L1082.8 81.8 L1083.8 81.8 L1084.8 81.9 L1085.8 81.9 L1086.8 81.9 L1087.8 81.9 L1088.8 81.9 L1089.8 81.9 L1090.8 81.9 L1091.9 81.9 L1092.9 81.9 L1093.9 81.9 L1094.9 82.0 L1095.9 82.0 L1096.9 82.0 L1097.9 82.0 L1098.9 82.0 L1099.9 82.0 L1100.9 82.0 L1101.9 82.0 L1102.9 82.0 L1103.9 82.0 L1104.9 82.0 L1105.9 82.0 L1106.9 82.0 L1107.9 82.0 L1108.9 82.1 L1109.9 82.1 L1110.9 82.1 L1111.9 82.1 L1112.9 82.1 L1113.9 82.1 L1114.9 82.1 L1115.9 82.1 L1116.9 82.1 L1117.9 82.1 L1118.9 82.1 L1119.9 82.1 L1120.9 82.1 L1121.9 82.1 L1122.9 82.1 L1123.9 82.1 L1124.9 82.1 L1125.9 82.1 L1126.9 82.2 L1127.9 82.2 L1128.9 82.2 L1129.9 82.2 L1131.0 82.2 L1132.0 82.2 L1133.0 82.2 L1134.0 82.2 L1135.0 82.2 L1136.0 82.2 L1137.0 82.2 L1138.0 82.2 L1139.0 82.2 L1140.0 82.2 L1141.0 82.2 L1142.0 82.2 L1143.0 82.2 L1144.0 82.3 L1145.0 82.3 L1146.0 82.3 L1147.0 82.3 L1148.0 82.3 L1149.0 82.3 L1150.0 82.3" stroke="#22c022" stroke-width="1.5" fill="none" stroke-linejoin="round"/>
<path d="M661.0 97.2 L662.0 97.3 L663.0 97.3 L664.0 97.4 L665.0 97.4 L666.1 97.5 L667.1 97.6 L668.1 97.6 L669.1 97.7 L670.1 97.7 L671.1 97.8 L672.1 97.8 L673.2 97.9 L674.2 97.9 L675.2 98.0 L676.2 98.0 L677.2 98.0 L678.2 98.0 L679.2 98.0 L680.2 98.0 L681.2 98.0 L682.2 98.0 L683.2 98.1 L684.2 98.1 L685.2 98.1 L686.2 98.1 L687.2 98.1 L688.2 98.1 L689.2 98.1 L690.2 98.1 L691.2 98.2 L692.2 98.2 L693.2 98.2 L694.2 98.2 L695.2 98.2 L696.2 98.2 L697.2 98.2 L698.2 98.3 L699.2 98.3 L700.2 98.3 L701.2 98.3 L702.2 98.3 L703.2 98.3 L704.2 98.3 L705.2 98.4 L706.2 98.4 L707.2 98.4 L708.2 98.4 L709.2 98.4 L710.2 98.4 L711.2 98.4 L712.2 98.4 L713.2 98.5 L714.2 98.5 L715.2 98.5 L716.2 98.5 L717.2 98.5 L718.2 98.5 L719.2 98.5 L720.2 98.5 L721.2 98.5 L722.2 98.5 L723.2 98.5 L724.2 98.5 L725.2 98.5 L726.2 98.5 L727.2 98.6 L728.2 98.6 L729.2 98.6 L730.2 98.6 L731.2 98.6 L732.2 98.6 L733.2 98.5 L734.2 98.5 L735.2 98.5 L736.2 98.5 L737.2 98.5 L738.2 98.5 L739.2 98.5 L740.2 98.5 L741.2 98.5 L742.2 98.5 L743.2 98.5 L744.2 98.4 L745.2 98.4 L746.2 98.4 L747.2 98.4 L748.2 98.4 L749.2 98.3 L750.2 98.3 L751.2 98.3 L752.2 98.3 L753.2 98.2 L754.2 98.2 L755.2 98.2 L756.2 98.1 L757.2 98.1 L758.2 98.1 L759.2 98.0 L760.2 98.0 L761.2 98.0 L762.2 97.9 L763.2 97.9 L764.2 97.8 L765.2 97.8 L766.3 97.7 L767.3 97.7 L768.3 97.6 L769.3 97.5 L770.3 97.5 L771.3 97.4 L772.3 97.4 L773.3 97.3 L774.3 97.2 L775.3 97.1 L776.3 97.1 L777.3 97.0 L778.4 96.9 L779.4 96.8 L780.4 96.8 L781.4 96.7 L782.4 96.6 L783.4 96.5 L784.4 96.4 L785.4 96.4 L786.4 96.3 L787.4 96.2 L788.4 96.1 L789.4 96.0 L790.5 95.9 L791.5 95.8 L792.5 95.7 L793.5 95.6 L794.5 95.5 L795.5 95.4 L796.5 95.3 L797.5 95.2 L798.5 95.1 L799.5 95.0 L800.5 94.9 L801.5 94.8 L802.6 94.7 L803.6 94.6 L804.6 94.5 L805.6 94.4 L806.6 94.3 L807.6 94.2 L808.6 94.1 L809.6 94.0 L810.6 93.9 L811.6 93.8 L812.6 93.7 L813.6 93.6 L814.7 93.5 L815.7 93.4 L816.7 93.3 L817.7 93.2 L818.7 93.1 L819.7 92.9 L820.7 92.8 L821.7 92.7 L822.7 92.6 L823.7 92.5 L824.7 92.4 L825.7 92.3 L826.8 92.2 L827.8 92.1 L828.8 92.0 L829.8 91.9 L830.8 91.8 L831.8 91.7 L832.8 91.6 L833.8 91.5 L834.8 91.4 L835.8 91.3 L836.8 91.1 L837.8 91.0 L838.8 90.9 L839.9 90.7 L840.9 90.6 L841.9 90.5 L842.9 90.3 L843.9 90.2 L844.9 90.0 L845.9 89.9 L846.9 89.7 L847.9 89.6 L848.9 89.4 L849.9 89.3 L850.9 89.2 L851.9 89.0 L853.0 88.9 L854.0 88.7 L855.0 88.6 L856.0 88.5 L857.0 88.4 L858.0 88.2 L859.0 88.1 L860.0 88.0 L861.0 87.9 L862.0 87.8 L863.1 87.7 L864.1 87.5 L865.1 87.4 L866.1 87.3 L867.2 87.2 L868.2 87.1 L869.2 87.0 L870.2 86.8 L871.2 86.7 L872.3 86.6 L873.3 86.5 L874.3 86.4 L875.3 86.3 L876.4 86.2 L877.4 86.1 L878.4 86.1 L879.4 86.0 L880.4 85.9 L881.5 85.8 L882.5 85.8 L883.5 85.7 L884.5 85.7 L885.6 85.6 L886.6 85.6 L887.6 85.6 L888.6 85.6 L889.6 85.6 L890.6 85.6 L891.7 85.6 L892.7 85.6 L893.7 85.7 L894.7 85.7 L895.7 85.7 L896.7 85.8 L897.8 85.8 L898.8 85.9 L899.8 86.0 L900.8 86.0 L901.8 86.1 L902.8 86.2 L903.8 86.3 L904.9 86.4 L905.9 86.4 L906.9 86.5 L907.9 86.6 L908.9 86.7 L909.9 86.8 L911.0 86.9 L912.0 87.0 L913.0 87.1 L914.0 87.2 L915.0 87.3 L916.0 87.4 L917.0 87.5 L918.0 87.6 L919.0 87.7 L920.0 87.8 L921.0 87.9 L922.0 88.0 L923.0 88.1 L924.0 88.2 L925.0 88.4 L926.0 88.5 L927.0 88.6 L928.0 88.7 L929.0 88.8 L930.0 89.0 L931.0 89.1 L932.0 89.2 L933.0 89.4 L934.0 89.5 L935.0 89.6 L936.0 89.8 L937.0 89.9 L938.0 90.1 L939.0 90.2 L940.0 90.4 L941.0 90.6 L942.0 90.7 L943.0 90.9 L944.0 91.1 L945.1 91.3 L946.1 91.4 L947.1 91.6 L948.1 91.8 L949.2 92.0 L950.2 92.2 L951.2 92.4 L952.3 92.6 L953.3 92.8 L954.3 93.0 L955.3 93.2 L956.4 93.4 L957.4 93.7 L958.4 93.9 L959.4 94.1 L960.5 94.4 L961.5 94.6 L962.5 94.9 L963.6 95.1 L964.6 95.4 L965.6 95.7 L966.6 96.0 L967.7 96.3 L968.7 96.6 L969.7 97.0 L970.8 97.5 L971.8 98.1 L972.9 98.7 L973.9 99.3 L975.0 100.0 L976.0 100.6 L977.1 101.2 L978.1 101.7 L979.2 102.1 L980.2 102.3 L981.2 102.5 L982.2 102.6 L983.2 102.7 L984.2 102.8 L985.2 103.0 L986.3 103.1 L987.3 103.2 L988.3 103.2 L989.3 103.3 L990.3 103.4 L991.3 103.4 L992.3 103.5 L993.3 103.5 L994.3 103.6 L995.3 103.6 L996.3 103.6 L997.4 103.7 L998.4 103.7 L999.4 103.7 L1000.4 103.7 L1001.4 103.7 L1002.4 103.7 L1003.4 103.8 L1004.4 103.8 L1005.4 103.8 L1006.4 103.8 L1007.4 103.8 L1008.4 103.8 L1009.5 103.8 L1010.5 103.8 L1011.5 103.8 L1012.5 103.8 L1013.5 103.8 L1014.5 103.8 L1015.5 103.8 L1016.5 103.8 L1017.5 103.8 L1018.5 103.8 L1019.5 103.9 L1020.5 103.9 L1021.5 103.9 L1022.5 103.9 L1023.5 103.9 L1024.5 103.9 L1025.5 103.9 L1026.5 103.9 L1027.5 103.9 L1028.6 103.9 L1029.6 104.0 L1030.6 104.0 L1031.6 104.0 L1032.6 104.0 L1033.6 104.0 L1034.6 104.0 L1035.6 104.0 L1036.6 104.0 L1037.6 104.0 L1038.6 104.0 L1039.6 104.0 L1040.6 104.0 L1041.6 104.0 L1042.6 104.0 L1043.6 104.1 L1044.6 104.1 L1045.6 104.1 L1046.6 104.1 L1047.6 104.1 L1048.6 104.1 L1049.6 104.1 L1050.6 104.1 L1051.6 104.1 L1052.6 104.1 L1053.6 104.1 L1054.6 104.1 L1055.7 104.1 L1056.7 104.1 L1057.7 104.1 L1058.7 104.1 L1059.7 104.1 L1060.7 104.1 L1061.7 104.1 L1062.7 104.1 L1063.7 104.1 L1064.7 104.1 L1065.7 104.1 L1066.7 104.2 L1067.7 104.2 L1068.7 104.2 L1069.7 104.2 L1070.7 104.2 L1071.7 104.2 L1072.7 104.2 L1073.7 104.2 L1074.7 104.2 L1075.7 104.2 L1076.7 104.2 L1077.7 104.2 L1078.7 104.2 L1079.7 104.2 L1080.7 104.2 L1081.7 104.2 L1082.8 104.2 L1083.8 104.2 L1084.8 104.2 L1085.8 104.2 L1086.8 104.2 L1087.8 104.2 L1088.8 104.2 L1089.8 104.2 L1090.8 104.2 L1091.8 104.2 L1092.8 104.2 L1093.8 104.2 L1094.8 104.2 L1095.8 104.2 L1096.8 104.2 L1097.8 104.2 L1098.8 104.2 L1099.8 104.2 L1100.8 104.2 L1101.8 104.2 L1102.8 104.2 L1103.8 104.2 L1104.8 104.2 L1105.8 104.2 L1106.8 104.2 L1107.8 104.2 L1108.8 104.2 L1109.9 104.2 L1110.9 104.2 L1111.9 104.2 L1112.9 104.2 L1113.9 104.2 L1114.9 104.2 L1115.9 104.2 L1116.9 104.2 L1117.9 104.2 L1118.9 104.2 L1119.9 104.2 L1120.9 104.2 L1121.9 104.2 L1122.9 104.2 L1123.9 104.2 L1124.9 104.2 L1125.9 104.2 L1126.9 104.2 L1127.9 104.2 L1128.9 104.2 L1129.9 104.2 L1130.9 104.2 L1131.9 104.3 L1132.9 104.3 L1133.9 104.3 L1134.9 104.3 L1135.9 104.3 L1137.0 104.3 L1138.0 104.3 L1139.0 104.3 L1140.0 104.3 L1141.0 104.3 L1142.0 104.3 L1143.0 104.3 L1144.0 104.3 L1145.0 104.3 L1146.0 104.3 L1147.0 104.3 L1148.0 104.3 L1149.0 104.3 L1150.0 104.3" stroke="#b06a28" stroke-width="1.5" fill="none" stroke-linejoin="round"/>
<path d="M661.0 119.5 L662.0 119.6 L663.0 119.6 L664.1 119.7 L665.1 119.7 L666.1 119.8 L667.1 119.9 L668.2 120.0 L669.2 120.0 L670.2 120.1 L671.2 120.2 L672.2 120.2 L673.3 120.3 L674.3 120.4 L675.3 120.4 L676.3 120.5 L677.4 120.6 L678.4 120.6 L679.4 120.7 L680.4 120.7 L681.4 120.8 L682.5 120.8 L683.5 120.9 L684.5 120.9 L685.5 120.9 L686.6 121.0 L687.6 121.0 L688.6 121.0 L689.6 121.0 L690.6 121.0 L691.6 121.0 L692.6 121.0 L693.6 121.0 L694.7 121.0 L695.7 121.0 L696.7 121.1 L697.7 121.1 L698.7 121.1 L699.7 121.1 L700.7 121.1 L701.7 121.1 L702.7 121.1 L703.7 121.1 L704.7 121.1 L705.7 121.1 L706.8 121.1 L707.8 121.1 L708.8 121.1 L709.8 121.1 L710.8 121.1 L711.8 121.1 L712.8 121.1 L713.8 121.1 L714.8 121.0 L715.8 121.0 L716.8 121.0 L717.8 121.0 L718.9 121.0 L719.9 121.0 L720.9 121.0 L721.9 121.0 L722.9 121.0 L723.9 121.0 L724.9 121.0 L725.9 121.0 L726.9 121.0 L727.9 120.9 L728.9 120.9 L729.9 120.9 L731.0 120.9 L732.0 120.9 L733.0 120.9 L734.0 120.9 L735.0 120.9 L736.0 120.8 L737.0 120.8 L738.0 120.8 L739.0 120.8 L740.0 120.8 L741.0 120.8 L742.0 120.8 L743.1 120.7 L744.1 120.7 L745.1 120.7 L746.1 120.7 L747.1 120.7 L748.1 120.6 L749.1 120.6 L750.1 120.6 L751.1 120.6 L752.1 120.6 L753.1 120.6 L754.1 120.5 L755.2 120.5 L756.2 120.5 L757.2 120.5 L758.2 120.4 L759.2 120.4 L760.2 120.4 L761.2 120.4 L762.2 120.4 L763.3 120.3 L764.3 120.3 L765.3 120.3 L766.3 120.2 L767.3 120.2 L768.4 120.2 L769.4 120.1 L770.4 120.1 L771.4 120.0 L772.4 120.0 L773.5 120.0 L774.5 119.9 L775.5 119.9 L776.5 119.8 L777.5 119.8 L778.6 119.7 L779.6 119.7 L780.6 119.6 L781.6 119.6 L782.7 119.5 L783.7 119.5 L784.7 119.4 L785.7 119.3 L786.7 119.3 L787.8 119.2 L788.8 119.2 L789.8 119.1 L790.8 119.1 L791.8 119.0 L792.9 118.9 L793.9 118.9 L794.9 118.8 L795.9 118.7 L796.9 118.7 L798.0 118.6 L799.0 118.6 L800.0 118.5 L801.0 118.4 L802.0 118.4 L803.0 118.3 L804.0 118.3 L805.0 118.2 L806.0 118.1 L807.0 118.1 L808.0 118.0 L809.0 118.0 L810.0 117.9 L811.0 117.8 L812.0 117.8 L813.0 117.7 L814.0 117.6 L815.0 117.6 L816.0 117.5 L817.0 117.4 L818.0 117.4 L819.0 117.3 L820.0 117.2 L821.0 117.2 L822.0 117.1 L823.0 117.0 L824.0 117.0 L825.0 116.9 L826.0 116.8 L827.0 116.7 L828.0 116.6 L829.0 116.6 L830.0 116.5 L831.0 116.4 L832.0 116.3 L833.0 116.2 L834.0 116.1 L835.0 116.0 L836.0 115.9 L837.0 115.8 L838.0 115.7 L839.0 115.6 L840.0 115.5 L841.0 115.4 L842.0 115.3 L843.0 115.2 L844.0 115.0 L845.0 114.9 L846.0 114.8 L847.0 114.7 L848.0 114.5 L849.0 114.4 L850.0 114.3 L851.0 114.1 L852.0 114.0 L853.0 113.8 L854.0 113.7 L855.0 113.6 L856.0 113.4 L857.0 113.3 L858.0 113.1 L859.0 112.9 L860.0 112.8 L861.0 112.6 L862.0 112.5 L863.0 112.3 L864.0 112.1 L865.0 111.9 L866.0 111.8 L867.0 111.6 L868.0 111.4 L869.0 111.2 L870.0 111.1 L871.0 110.9 L872.0 110.7 L873.0 110.5 L874.0 110.3 L875.1 110.1 L876.1 109.8 L877.2 109.6 L878.2 109.4 L879.3 109.1 L880.3 108.8 L881.4 108.6 L882.4 108.3 L883.5 108.0 L884.5 107.7 L885.6 107.4 L886.6 107.1 L887.7 106.9 L888.7 106.6 L889.8 106.3 L890.8 106.0 L891.9 105.8 L892.9 105.5 L893.9 105.3 L894.9 105.0 L895.9 104.8 L896.9 104.5 L897.9 104.3 L898.9 104.0 L899.9 103.8 L900.9 103.5 L902.0 103.3 L903.0 103.1 L904.0 102.8 L905.0 102.6 L906.0 102.4 L907.0 102.2 L908.0 101.9 L909.0 101.7 L910.0 101.5 L911.0 101.3 L912.1 101.0 L913.1 100.8 L914.1 100.5 L915.2 100.3 L916.2 100.0 L917.2 99.8 L918.3 99.5 L919.3 99.3 L920.3 99.1 L921.4 98.9 L922.4 98.7 L923.4 98.5 L924.5 98.3 L925.5 98.2 L926.5 98.1 L927.6 98.0 L928.6 98.0 L929.8 98.1 L931.0 98.5 L932.3 99.5 L933.5 101.0 L934.6 103.2 L935.7 105.9 L936.8 109.0 L937.9 111.8 L939.0 114.0 L940.0 115.5 L941.0 116.8 L942.0 118.0 L943.0 118.9 L944.0 119.8 L945.0 120.4 L946.0 121.0 L947.0 121.5 L948.0 121.9 L949.0 122.3 L950.0 122.6 L951.0 122.9 L952.0 123.2 L953.0 123.4 L954.0 123.6 L955.0 123.8 L956.0 124.0 L957.0 124.1 L958.0 124.3 L959.0 124.4 L960.0 124.5 L961.0 124.6 L962.1 124.7 L963.1 124.8 L964.1 124.9 L965.2 124.9 L966.2 125.0 L967.3 125.0 L968.3 125.1 L969.3 125.1 L970.4 125.1 L971.4 125.1 L972.4 125.2 L973.5 125.2 L974.5 125.2 L975.5 125.2 L976.6 125.2 L977.6 125.2 L978.6 125.2 L979.7 125.2 L980.7 125.2 L981.8 125.2 L982.8 125.2 L983.8 125.3 L984.9 125.3 L985.9 125.3 L986.9 125.3 L987.9 125.4 L988.9 125.4 L989.9 125.4 L990.9 125.4 L991.9 125.5 L992.9 125.5 L993.9 125.5 L994.9 125.5 L996.0 125.6 L997.0 125.6 L998.0 125.6 L999.0 125.7 L1000.0 125.7 L1001.0 125.7 L1002.0 125.7 L1003.0 125.8 L1004.0 125.8 L1005.0 125.8 L1006.0 125.9 L1007.0 125.9 L1008.0 125.9 L1009.0 125.9 L1010.0 126.0 L1011.0 126.0 L1012.0 126.0 L1013.0 126.1 L1014.0 126.1 L1015.1 126.1 L1016.1 126.1 L1017.1 126.2 L1018.1 126.2 L1019.1 126.2 L1020.1 126.2 L1021.1 126.3 L1022.1 126.3 L1023.1 126.3 L1024.1 126.3 L1025.1 126.4 L1026.1 126.4 L1027.1 126.4 L1028.1 126.4 L1029.1 126.4 L1030.1 126.5 L1031.1 126.5 L1032.1 126.5 L1033.1 126.5 L1034.2 126.6 L1035.2 126.6 L1036.2 126.6 L1037.2 126.6 L1038.2 126.6 L1039.2 126.6 L1040.2 126.7 L1041.2 126.7 L1042.2 126.7 L1043.2 126.7 L1044.2 126.7 L1045.2 126.7 L1046.2 126.7 L1047.2 126.8 L1048.2 126.8 L1049.2 126.8 L1050.3 126.8 L1051.3 126.8 L1052.3 126.8 L1053.3 126.8 L1054.3 126.8 L1055.3 126.8 L1056.3 126.9 L1057.3 126.9 L1058.3 126.9 L1059.3 126.9 L1060.3 126.9 L1061.3 126.9 L1062.3 126.9 L1063.4 126.9 L1064.4 126.9 L1065.4 126.9 L1066.4 127.0 L1067.4 127.0 L1068.4 127.0 L1069.4 127.0 L1070.4 127.0 L1071.4 127.0 L1072.4 127.0 L1073.4 127.0 L1074.4 127.0 L1075.4 127.0 L1076.4 127.0 L1077.5 127.1 L1078.5 127.1 L1079.5 127.1 L1080.5 127.1 L1081.5 127.1 L1082.5 127.1 L1083.5 127.1 L1084.5 127.1 L1085.5 127.1 L1086.5 127.1 L1087.5 127.1 L1088.5 127.1 L1089.5 127.1 L1090.6 127.1 L1091.6 127.1 L1092.6 127.2 L1093.6 127.2 L1094.6 127.2 L1095.6 127.2 L1096.6 127.2 L1097.6 127.2 L1098.6 127.2 L1099.6 127.2 L1100.6 127.2 L1101.6 127.2 L1102.6 127.2 L1103.7 127.2 L1104.7 127.2 L1105.7 127.2 L1106.7 127.2 L1107.7 127.2 L1108.7 127.2 L1109.7 127.3 L1110.7 127.3 L1111.7 127.3 L1112.7 127.3 L1113.7 127.3 L1114.7 127.3 L1115.7 127.3 L1116.8 127.3 L1117.8 127.3 L1118.8 127.3 L1119.8 127.3 L1120.8 127.3 L1121.8 127.3 L1122.8 127.3 L1123.8 127.3 L1124.8 127.3 L1125.8 127.3 L1126.8 127.3 L1127.8 127.4 L1128.8 127.4 L1129.8 127.4 L1130.9 127.4 L1131.9 127.4 L1132.9 127.4 L1133.9 127.4 L1134.9 127.4 L1135.9 127.4 L1136.9 127.4 L1137.9 127.4 L1138.9 127.4 L1139.9 127.4 L1140.9 127.4 L1141.9 127.4 L1142.9 127.4 L1144.0 127.5 L1145.0 127.5 L1146.0 127.5 L1147.0 127.5 L1148.0 127.5 L1149.0 127.5 L1150.0 127.5" stroke="#209a9a" stroke-width="1.5" fill="none" stroke-linejoin="round"/>
<path d="M661.0 142.4 L662.0 142.4 L663.0 142.4 L664.0 142.4 L665.0 142.4 L666.1 142.5 L667.1 142.5 L668.1 142.5 L669.1 142.5 L670.1 142.5 L671.1 142.5 L672.1 142.5 L673.1 142.6 L674.1 142.6 L675.1 142.6 L676.2 142.6 L677.2 142.6 L678.2 142.7 L679.2 142.7 L680.2 142.7 L681.2 142.7 L682.2 142.7 L683.2 142.8 L684.2 142.8 L685.3 142.8 L686.3 142.8 L687.3 142.8 L688.3 142.9 L689.3 142.9 L690.3 142.9 L691.3 142.9 L692.3 143.0 L693.3 143.0 L694.4 143.0 L695.4 143.0 L696.4 143.0 L697.4 143.1 L698.4 143.1 L699.4 143.1 L700.4 143.1 L701.4 143.1 L702.4 143.2 L703.5 143.2 L704.5 143.2 L705.5 143.2 L706.5 143.2 L707.5 143.2 L708.5 143.3 L709.5 143.3 L710.5 143.3 L711.5 143.3 L712.5 143.3 L713.6 143.3 L714.6 143.3 L715.6 143.4 L716.6 143.4 L717.6 143.4 L718.6 143.4 L719.6 143.4 L720.6 143.4 L721.6 143.4 L722.7 143.4 L723.7 143.4 L724.7 143.4 L725.7 143.4 L726.7 143.4 L727.7 143.4 L728.7 143.4 L729.7 143.4 L730.7 143.4 L731.8 143.4 L732.8 143.4 L733.8 143.4 L734.8 143.4 L735.8 143.4 L736.8 143.4 L737.8 143.4 L738.8 143.3 L739.8 143.3 L740.8 143.3 L741.9 143.3 L742.9 143.3 L743.9 143.2 L744.9 143.2 L745.9 143.2 L746.9 143.2 L747.9 143.1 L748.9 143.1 L749.9 143.1 L750.9 143.0 L752.0 143.0 L753.0 143.0 L754.0 142.9 L755.0 142.9 L756.0 142.8 L757.0 142.8 L758.0 142.7 L759.0 142.7 L760.0 142.6 L761.0 142.6 L762.0 142.5 L763.0 142.4 L764.1 142.4 L765.1 142.3 L766.1 142.3 L767.1 142.2 L768.1 142.1 L769.1 142.1 L770.1 142.0 L771.1 141.9 L772.1 141.8 L773.1 141.8 L774.1 141.7 L775.1 141.6 L776.2 141.5 L777.2 141.5 L778.2 141.4 L779.2 141.3 L780.2 141.2 L781.2 141.2 L782.2 141.1 L783.2 141.0 L784.2 140.9 L785.2 140.8 L786.2 140.7 L787.2 140.7 L788.3 140.6 L789.3 140.5 L790.3 140.4 L791.3 140.3 L792.3 140.3 L793.3 140.2 L794.3 140.1 L795.3 140.0 L796.3 139.9 L797.3 139.8 L798.3 139.8 L799.3 139.7 L800.4 139.6 L801.4 139.5 L802.4 139.4 L803.4 139.3 L804.4 139.3 L805.4 139.2 L806.4 139.1 L807.4 139.0 L808.4 139.0 L809.4 138.9 L810.4 138.8 L811.4 138.7 L812.5 138.7 L813.5 138.6 L814.5 138.5 L815.5 138.4 L816.5 138.4 L817.5 138.3 L818.5 138.2 L819.5 138.2 L820.6 138.1 L821.6 138.1 L822.6 138.0 L823.6 138.0 L824.7 138.0 L825.7 137.9 L826.7 137.9 L827.7 137.9 L828.8 137.8 L829.8 137.8 L830.8 137.7 L831.8 137.7 L832.8 137.6 L833.9 137.5 L834.9 137.5 L835.9 137.4 L836.9 137.3 L838.0 137.2 L839.0 137.0 L840.0 136.9 L841.0 136.8 L842.0 136.6 L843.0 136.4 L844.0 136.2 L845.0 136.0 L846.0 135.8 L847.0 135.6 L848.0 135.4 L849.0 135.2 L850.0 134.9 L851.0 134.7 L852.0 134.5 L853.0 134.2 L854.0 134.0 L855.0 133.7 L856.0 133.5 L857.0 133.2 L858.0 133.0 L859.0 132.7 L860.0 132.5 L861.0 132.2 L862.0 132.0 L863.0 131.8 L864.1 131.5 L865.1 131.3 L866.1 131.1 L867.2 130.9 L868.2 130.7 L869.2 130.5 L870.3 130.3 L871.3 130.0 L872.4 129.8 L873.4 129.5 L874.4 129.3 L875.5 129.0 L876.5 128.7 L877.5 128.3 L878.6 128.0 L879.6 127.6 L880.6 127.2 L881.6 126.7 L882.7 126.3 L883.7 125.8 L884.7 125.2 L885.7 124.7 L886.8 124.1 L887.8 123.5 L888.8 122.8 L889.8 122.1 L890.9 121.4 L891.9 120.7 L892.9 119.9 L894.0 119.0 L895.1 118.1 L896.2 116.9 L897.3 115.6 L898.4 114.1 L899.5 112.2 L900.5 109.7 L901.5 106.1 L902.5 102.0 L903.8 95.7 L905.0 89.0 L906.2 82.3 L907.4 78.5 L908.6 82.1 L909.8 89.0 L911.2 98.7 L912.7 108.0 L913.8 113.3 L914.9 118.1 L916.0 122.2 L917.1 125.4 L918.2 127.9 L919.3 129.9 L920.4 131.6 L921.5 133.0 L922.6 134.2 L923.7 135.3 L924.8 136.3 L925.9 137.2 L927.0 138.0 L928.1 138.6 L929.2 139.2 L930.3 139.8 L931.4 140.3 L932.5 140.8 L933.6 141.3 L934.6 141.7 L935.7 142.0 L936.8 142.3 L937.9 142.5 L938.9 142.8 L940.0 143.0 L941.0 143.2 L942.0 143.5 L943.0 143.7 L944.0 143.9 L945.0 144.1 L946.0 144.3 L947.0 144.5 L948.0 144.7 L949.0 144.9 L950.0 145.1 L951.0 145.3 L952.0 145.5 L953.0 145.6 L954.0 145.8 L955.0 146.0 L956.0 146.2 L957.0 146.3 L958.0 146.5 L959.0 146.6 L960.0 146.8 L961.0 146.9 L962.0 147.0 L963.0 147.1 L964.1 147.2 L965.1 147.3 L966.2 147.3 L967.2 147.3 L968.3 147.4 L969.4 147.4 L970.4 147.5 L971.5 147.5" stroke="#2050a8" stroke-width="1.5" fill="none" stroke-linejoin="round"/>
<path d="M661.0 164.4 L662.0 164.5 L663.0 164.5 L664.0 164.6 L665.0 164.6 L666.1 164.7 L667.1 164.8 L668.1 164.8 L669.1 164.9 L670.1 165.0 L671.1 165.0 L672.1 165.1 L673.2 165.1 L674.2 165.1 L675.2 165.2 L676.2 165.2 L677.2 165.2 L678.2 165.2 L679.2 165.2 L680.2 165.2 L681.2 165.2 L682.2 165.2 L683.2 165.2 L684.2 165.2 L685.2 165.2 L686.2 165.2 L687.2 165.2 L688.2 165.2 L689.2 165.2 L690.2 165.2 L691.2 165.2 L692.2 165.2 L693.2 165.2 L694.3 165.2 L695.3 165.2 L696.3 165.2 L697.3 165.2 L698.3 165.2 L699.3 165.2 L700.3 165.2 L701.3 165.2 L702.3 165.2 L703.3 165.2 L704.3 165.2 L705.3 165.2 L706.3 165.2 L707.3 165.2 L708.3 165.2 L709.3 165.2 L710.3 165.2 L711.3 165.2 L712.3 165.2 L713.3 165.2 L714.3 165.2 L715.3 165.2 L716.3 165.2 L717.3 165.2 L718.3 165.2 L719.3 165.2 L720.3 165.1 L721.3 165.1 L722.3 165.1 L723.3 165.1 L724.3 165.1 L725.3 165.1 L726.4 165.1 L727.4 165.1 L728.4 165.1 L729.4 165.1 L730.4 165.1 L731.4 165.1 L732.4 165.1 L733.4 165.1 L734.4 165.1 L735.4 165.1 L736.4 165.0 L737.4 165.0 L738.4 165.0 L739.4 165.0 L740.4 165.0 L741.4 165.0 L742.4 165.0 L743.4 165.0 L744.4 165.0 L745.4 164.9 L746.4 164.9 L747.4 164.9 L748.4 164.9 L749.4 164.9 L750.4 164.9 L751.4 164.9 L752.4 164.9 L753.4 164.8 L754.4 164.8 L755.4 164.8 L756.4 164.8 L757.4 164.8 L758.5 164.8 L759.5 164.7 L760.5 164.7 L761.5 164.7 L762.5 164.7 L763.5 164.7 L764.5 164.6 L765.5 164.6 L766.5 164.6 L767.5 164.6 L768.5 164.5 L769.5 164.5 L770.5 164.5 L771.5 164.5 L772.5 164.5 L773.5 164.4 L774.5 164.4 L775.5 164.4 L776.5 164.3 L777.5 164.3 L778.5 164.3 L779.5 164.2 L780.5 164.2 L781.5 164.1 L782.5 164.1 L783.5 164.0 L784.5 164.0 L785.5 163.9 L786.5 163.8 L787.5 163.8 L788.5 163.7 L789.5 163.6 L790.5 163.6 L791.5 163.5 L792.5 163.4 L793.5 163.3 L794.5 163.3 L795.5 163.2 L796.5 163.1 L797.5 163.0 L798.5 163.0 L799.5 162.9 L800.5 162.8 L801.5 162.7 L802.5 162.6 L803.5 162.5 L804.5 162.5 L805.5 162.4 L806.5 162.3 L807.5 162.2 L808.5 162.1 L809.5 162.1 L810.5 162.0 L811.5 161.9 L812.5 161.8 L813.5 161.8 L814.5 161.7 L815.5 161.6 L816.5 161.6 L817.5 161.5 L818.5 161.4 L819.5 161.4 L820.6 161.3 L821.6 161.3 L822.6 161.2 L823.6 161.2 L824.7 161.2 L825.7 161.1 L826.7 161.1 L827.7 161.0 L828.8 161.0 L829.8 161.0 L830.8 160.9 L831.8 160.9 L832.8 160.8 L833.9 160.7 L834.9 160.7 L835.9 160.6 L836.9 160.5 L838.0 160.4 L839.0 160.3 L840.0 160.2 L841.0 160.1 L842.0 160.0 L843.0 159.8 L844.0 159.7 L845.0 159.5 L846.0 159.4 L847.0 159.2 L848.0 159.1 L849.0 158.9 L850.0 158.7 L851.0 158.5 L852.0 158.3 L853.0 158.2 L854.0 158.0 L855.0 157.8 L856.0 157.6 L857.0 157.4 L858.0 157.2 L859.0 156.9 L860.0 156.7 L861.0 156.5 L862.0 156.3 L863.0 156.1 L864.0 156.0 L865.0 155.8 L866.0 155.7 L867.0 155.5 L868.0 155.4 L869.0 155.1 L870.0 154.8 L871.0 154.3 L872.0 153.7 L873.0 153.0 L874.1 151.8 L875.2 150.1 L876.3 148.0 L877.4 145.6 L878.5 143.0 L879.6 140.0 L880.8 136.3 L881.9 132.0 L883.0 126.9 L884.0 121.0 L885.1 114.0 L886.3 108.0 L887.4 103.7 L888.5 99.8 L889.7 96.7 L890.8 94.9 L891.8 94.8 L892.9 96.0 L894.0 97.9 L895.0 100.0 L896.1 102.5 L897.3 105.5 L898.4 109.0 L899.5 112.9 L900.6 117.2 L901.7 121.5 L902.9 126.1 L904.0 130.9 L905.2 135.4 L906.4 139.0 L907.5 141.7 L908.6 144.0 L909.7 146.1 L910.8 147.9 L911.9 149.5 L913.0 151.0 L914.0 152.3 L915.0 153.5 L916.0 154.7 L917.0 155.8 L918.0 156.9 L919.0 157.9 L920.0 158.9 L921.0 159.8 L922.0 160.6 L923.0 161.3 L924.0 162.0 L925.0 162.6 L926.0 163.2 L927.1 163.6 L928.1 164.0 L929.1 164.4 L930.1 164.7 L931.2 165.0 L932.2 165.3 L933.2 165.5 L934.2 165.8 L935.3 166.0 L936.3 166.2 L937.3 166.4 L938.3 166.6 L939.4 166.8 L940.4 167.0 L941.4 167.3 L942.5 167.5 L943.5 167.6 L944.5 167.8 L945.6 168.0 L946.6 168.2 L947.6 168.4 L948.6 168.5 L949.7 168.7 L950.7 168.8 L951.7 169.0 L952.8 169.1 L953.8 169.2 L954.8 169.3 L955.9 169.5 L956.9 169.6 L957.9 169.6 L959.0 169.7 L960.0 169.8 L961.0 169.9 L962.0 169.9 L963.0 170.0 L964.0 170.0 L965.0 170.1 L966.1 170.2 L967.1 170.2 L968.1 170.3 L969.1 170.3 L970.1 170.4 L971.1 170.4 L972.1 170.5 L973.1 170.5 L974.1 170.5 L975.1 170.6 L976.1 170.6 L977.2 170.7 L978.2 170.7 L979.2 170.7 L980.2 170.8 L981.2 170.8 L982.2 170.8 L983.2 170.9 L984.2 170.9 L985.2 170.9 L986.2 170.9 L987.2 171.0 L988.3 171.0 L989.3 171.0 L990.3 171.0 L991.3 171.1 L992.3 171.1 L993.3 171.1 L994.3 171.1 L995.3 171.1 L996.3 171.2 L997.3 171.2 L998.4 171.2 L999.4 171.2 L1000.4 171.2 L1001.4 171.3 L1002.4 171.3 L1003.4 171.3 L1004.4 171.3 L1005.4 171.3 L1006.4 171.4 L1007.4 171.4 L1008.4 171.4 L1009.5 171.4 L1010.5 171.4 L1011.5 171.4 L1012.5 171.5 L1013.5 171.5 L1014.5 171.5 L1015.5 171.5 L1016.5 171.5 L1017.5 171.6 L1018.5 171.6 L1019.5 171.6 L1020.5 171.6 L1021.5 171.6 L1022.5 171.7 L1023.5 171.7 L1024.5 171.7 L1025.5 171.7 L1026.5 171.7 L1027.5 171.7 L1028.6 171.8 L1029.6 171.8 L1030.6 171.8 L1031.6 171.8 L1032.6 171.8 L1033.6 171.8 L1034.6 171.9 L1035.6 171.9 L1036.6 171.9 L1037.6 171.9 L1038.6 171.9 L1039.6 171.9 L1040.6 172.0 L1041.6 172.0 L1042.6 172.0 L1043.6 172.0 L1044.6 172.0 L1045.6 172.0 L1046.6 172.1 L1047.6 172.1 L1048.6 172.1 L1049.6 172.1 L1050.6 172.1 L1051.6 172.1 L1052.6 172.2 L1053.6 172.2 L1054.6 172.2 L1055.7 172.2 L1056.7 172.2 L1057.7 172.2 L1058.7 172.2 L1059.7 172.3 L1060.7 172.3 L1061.7 172.3 L1062.7 172.3 L1063.7 172.3 L1064.7 172.3 L1065.7 172.3 L1066.7 172.4 L1067.7 172.4 L1068.7 172.4 L1069.7 172.4 L1070.7 172.4 L1071.7 172.4 L1072.7 172.4 L1073.7 172.5 L1074.7 172.5 L1075.7 172.5 L1076.7 172.5 L1077.7 172.5 L1078.7 172.5 L1079.7 172.5 L1080.7 172.6 L1081.7 172.6 L1082.8 172.6 L1083.8 172.6 L1084.8 172.6 L1085.8 172.6 L1086.8 172.6 L1087.8 172.7 L1088.8 172.7 L1089.8 172.7 L1090.8 172.7 L1091.8 172.7 L1092.8 172.7 L1093.8 172.7 L1094.8 172.7 L1095.8 172.8 L1096.8 172.8 L1097.8 172.8 L1098.8 172.8 L1099.8 172.8 L1100.8 172.8 L1101.8 172.8 L1102.8 172.9 L1103.8 172.9 L1104.8 172.9 L1105.8 172.9 L1106.8 172.9 L1107.8 172.9 L1108.8 172.9 L1109.9 172.9 L1110.9 173.0 L1111.9 173.0 L1112.9 173.0 L1113.9 173.0 L1114.9 173.0 L1115.9 173.0 L1116.9 173.0 L1117.9 173.1 L1118.9 173.1 L1119.9 173.1 L1120.9 173.1 L1121.9 173.1 L1122.9 173.1 L1123.9 173.1 L1124.9 173.1 L1125.9 173.2 L1126.9 173.2 L1127.9 173.2 L1128.9 173.2 L1129.9 173.2 L1130.9 173.2 L1131.9 173.2 L1132.9 173.3 L1133.9 173.3 L1134.9 173.3 L1135.9 173.3 L1137.0 173.3 L1138.0 173.3 L1139.0 173.3 L1140.0 173.4 L1141.0 173.4 L1142.0 173.4 L1143.0 173.4 L1144.0 173.4 L1145.0 173.4 L1146.0 173.4 L1147.0 173.5 L1148.0 173.5 L1149.0 173.5 L1150.0 173.5" stroke="#a0a020" stroke-width="1.5" fill="none" stroke-linejoin="round"/>
<path d="M661.0 186.7 L662.0 186.7 L663.0 186.7 L664.0 186.7 L665.0 186.7 L666.0 186.7 L667.0 186.7 L668.0 186.7 L669.0 186.7 L670.0 186.7 L671.0 186.7 L672.0 186.7 L673.0 186.7 L674.0 186.7 L675.0 186.7 L676.0 186.7 L677.0 186.7 L678.0 186.7 L679.0 186.7 L680.0 186.7 L681.0 186.7 L682.0 186.7 L683.0 186.7 L684.1 186.7 L685.1 186.7 L686.1 186.8 L687.1 186.8 L688.1 186.8 L689.1 186.8 L690.1 186.8 L691.1 186.8 L692.1 186.8 L693.1 186.8 L694.1 186.8 L695.1 186.8 L696.1 186.8 L697.1 186.8 L698.1 186.8 L699.1 186.8 L700.1 186.8 L701.1 186.8 L702.1 186.8 L703.1 186.8 L704.1 186.8 L705.1 186.8 L706.1 186.8 L707.1 186.9 L708.1 186.9 L709.1 186.9 L710.1 186.9 L711.1 186.9 L712.1 186.9 L713.1 186.9 L714.1 186.9 L715.1 186.9 L716.1 186.9 L717.1 186.9 L718.1 186.9 L719.1 186.9 L720.1 186.9 L721.1 186.9 L722.1 186.9 L723.1 186.9 L724.1 187.0 L725.1 187.0 L726.1 187.0 L727.1 187.0 L728.1 187.0 L729.2 187.0 L730.2 187.0 L731.2 187.0 L732.2 187.0 L733.2 187.0 L734.2 187.0 L735.2 187.0 L736.2 187.0 L737.2 187.0 L738.2 187.0 L739.2 187.0 L740.2 187.0 L741.2 187.0 L742.2 187.1 L743.2 187.1 L744.2 187.1 L745.2 187.1 L746.2 187.1 L747.2 187.1 L748.2 187.1 L749.2 187.1 L750.2 187.1 L751.2 187.1 L752.2 187.1 L753.2 187.1 L754.2 187.1 L755.2 187.1 L756.2 187.1 L757.2 187.1 L758.2 187.1 L759.2 187.1 L760.2 187.1 L761.2 187.1 L762.2 187.1 L763.2 187.1 L764.2 187.1 L765.2 187.1 L766.2 187.1 L767.2 187.1 L768.2 187.2 L769.2 187.2 L770.2 187.2 L771.2 187.2 L772.2 187.2 L773.3 187.2 L774.3 187.2 L775.3 187.2 L776.3 187.2 L777.3 187.2 L778.3 187.2 L779.3 187.2 L780.3 187.2 L781.3 187.2 L782.3 187.2 L783.3 187.2 L784.3 187.2 L785.3 187.2 L786.3 187.2 L787.3 187.2 L788.3 187.2 L789.3 187.2 L790.3 187.2 L791.3 187.2 L792.3 187.2 L793.3 187.1 L794.3 187.1 L795.3 187.1 L796.3 187.1 L797.3 187.1 L798.3 187.1 L799.3 187.1 L800.3 187.1 L801.3 187.1 L802.3 187.1 L803.3 187.1 L804.3 187.1 L805.3 187.1 L806.3 187.1 L807.3 187.1 L808.3 187.1 L809.3 187.1 L810.3 187.1 L811.3 187.1 L812.3 187.0 L813.3 187.0 L814.3 187.0 L815.3 187.0 L816.3 187.0 L817.3 187.0 L818.4 187.0 L819.4 187.0 L820.4 187.0 L821.4 187.0 L822.4 187.0 L823.4 186.9 L824.4 186.9 L825.4 186.9 L826.4 186.9 L827.4 186.9 L828.4 186.9 L829.4 186.9 L830.4 186.9 L831.4 186.8 L832.4 186.8 L833.4 186.8 L834.4 186.8 L835.4 186.8 L836.4 186.8 L837.4 186.8 L838.4 186.7 L839.4 186.7 L840.4 186.7 L841.6 186.1 L842.8 184.9 L844.0 183.5 L845.0 182.5 L846.0 181.5 L847.1 180.5 L848.1 179.6 L849.1 178.6 L850.1 177.5 L851.2 176.4 L852.2 175.2 L853.2 173.9 L854.2 172.6 L855.2 171.2 L856.2 169.9 L857.3 168.6 L858.3 167.2 L859.3 165.8 L860.3 164.4 L861.3 162.8 L862.3 161.3 L863.4 159.6 L864.4 157.8 L865.4 156.0 L866.4 154.0 L867.5 151.4 L868.6 148.3 L869.7 144.8 L870.8 141.1 L871.9 137.5 L873.0 134.2 L874.1 131.1 L875.2 128.2 L876.3 125.5 L877.4 123.2 L878.5 121.4 L879.6 120.2 L880.7 119.9 L881.8 120.6 L882.9 122.2 L884.0 124.3 L885.1 127.0 L886.2 130.2 L887.4 133.5 L888.5 136.5 L889.5 138.8 L890.5 140.8 L891.5 143.0 L892.5 145.4 L893.5 147.8 L894.5 150.3 L895.6 152.8 L896.6 155.2 L897.6 157.6 L898.7 160.2 L899.8 162.8 L900.9 165.4 L902.0 167.9 L903.1 170.1 L904.2 172.0 L905.3 173.6 L906.4 175.1 L907.5 176.5 L908.6 177.7 L909.7 178.8 L910.8 179.8 L911.9 180.7 L913.0 181.5 L914.0 182.2 L915.1 182.9 L916.1 183.6 L917.1 184.2 L918.2 184.9 L919.2 185.5 L920.2 186.0 L921.3 186.5 L922.3 187.0 L923.3 187.5 L924.4 187.9 L925.4 188.3 L926.4 188.6 L927.5 188.9 L928.5 189.2 L929.5 189.4 L930.5 189.6 L931.5 189.8 L932.6 190.0 L933.6 190.2 L934.6 190.3 L935.6 190.5 L936.6 190.6 L937.6 190.7 L938.7 190.8 L939.7 190.9 L940.7 191.0 L941.7 191.1 L942.7 191.2 L943.7 191.3 L944.8 191.4 L945.8 191.4 L946.8 191.5 L947.8 191.5 L948.8 191.6 L949.8 191.6 L950.9 191.7 L951.9 191.7 L952.9 191.8 L953.9 191.8 L954.9 191.9 L955.9 192.0 L957.0 192.0 L958.0 192.1 L959.0 192.1 L960.0 192.2 L961.0 192.3 L962.1 192.3 L963.1 192.4 L964.1 192.5 L965.2 192.5 L966.2 192.6 L967.3 192.6 L968.3 192.7 L969.3 192.7 L970.4 192.7 L971.4 192.8 L972.4 192.8 L973.5 192.8 L974.5 192.9 L975.5 192.9 L976.6 192.9 L977.6 193.0 L978.6 193.0 L979.7 193.0 L980.7 193.1 L981.8 193.1 L982.8 193.1 L983.8 193.1 L984.9 193.2 L985.9 193.2 L986.9 193.2 L987.9 193.3 L988.9 193.3 L989.9 193.3 L990.9 193.3 L991.9 193.4 L992.9 193.4 L993.9 193.4 L994.9 193.5 L996.0 193.5 L997.0 193.5 L998.0 193.5 L999.0 193.6 L1000.0 193.6 L1001.0 193.6 L1002.0 193.7 L1003.0 193.7 L1004.0 193.7 L1005.0 193.7 L1006.0 193.8 L1007.0 193.8 L1008.0 193.8 L1009.0 193.8 L1010.0 193.9 L1011.0 193.9 L1012.0 193.9 L1013.0 194.0 L1014.0 194.0 L1015.1 194.0 L1016.1 194.0 L1017.1 194.1 L1018.1 194.1 L1019.1 194.1 L1020.1 194.1 L1021.1 194.1 L1022.1 194.2 L1023.1 194.2 L1024.1 194.2 L1025.1 194.2 L1026.1 194.3 L1027.1 194.3 L1028.1 194.3 L1029.1 194.3 L1030.1 194.4 L1031.1 194.4 L1032.1 194.4 L1033.1 194.4 L1034.2 194.4 L1035.2 194.5 L1036.2 194.5 L1037.2 194.5 L1038.2 194.5 L1039.2 194.5 L1040.2 194.5 L1041.2 194.6 L1042.2 194.6 L1043.2 194.6 L1044.2 194.6 L1045.2 194.6 L1046.2 194.6 L1047.2 194.7 L1048.2 194.7 L1049.2 194.7 L1050.3 194.7 L1051.3 194.7 L1052.3 194.7 L1053.3 194.8 L1054.3 194.8 L1055.3 194.8 L1056.3 194.8 L1057.3 194.8 L1058.3 194.8 L1059.3 194.8 L1060.3 194.9 L1061.3 194.9 L1062.3 194.9 L1063.4 194.9 L1064.4 194.9 L1065.4 194.9 L1066.4 194.9 L1067.4 195.0 L1068.4 195.0 L1069.4 195.0 L1070.4 195.0 L1071.4 195.0 L1072.4 195.0 L1073.4 195.0 L1074.4 195.0 L1075.4 195.1 L1076.4 195.1 L1077.5 195.1 L1078.5 195.1 L1079.5 195.1 L1080.5 195.1 L1081.5 195.1 L1082.5 195.1 L1083.5 195.2 L1084.5 195.2 L1085.5 195.2 L1086.5 195.2 L1087.5 195.2 L1088.5 195.2 L1089.5 195.2 L1090.6 195.2 L1091.6 195.3 L1092.6 195.3 L1093.6 195.3 L1094.6 195.3 L1095.6 195.3 L1096.6 195.3 L1097.6 195.3 L1098.6 195.3 L1099.6 195.3 L1100.6 195.4 L1101.6 195.4 L1102.6 195.4 L1103.7 195.4 L1104.7 195.4 L1105.7 195.4 L1106.7 195.4 L1107.7 195.4 L1108.7 195.4 L1109.7 195.4 L1110.7 195.5 L1111.7 195.5 L1112.7 195.5 L1113.7 195.5 L1114.7 195.5 L1115.7 195.5 L1116.8 195.5 L1117.8 195.5 L1118.8 195.5 L1119.8 195.6 L1120.8 195.6 L1121.8 195.6 L1122.8 195.6 L1123.8 195.6 L1124.8 195.6 L1125.8 195.6 L1126.8 195.6 L1127.8 195.6 L1128.8 195.7 L1129.8 195.7 L1130.9 195.7 L1131.9 195.7 L1132.9 195.7 L1133.9 195.7 L1134.9 195.7 L1135.9 195.7 L1136.9 195.7 L1137.9 195.8 L1138.9 195.8 L1139.9 195.8 L1140.9 195.8 L1141.9 195.8 L1142.9 195.8 L1144.0 195.8 L1145.0 195.8 L1146.0 195.9 L1147.0 195.9 L1148.0 195.9 L1149.0 195.9 L1150.0 195.9" stroke="#8a1818" stroke-width="1.5" fill="none" stroke-linejoin="round"/>
<path d="M661.0 207.9 L662.0 207.9 L663.0 207.9 L664.0 207.9 L665.0 207.9 L666.0 207.9 L667.0 207.9 L668.0 207.9 L669.0 208.0 L670.0 208.0 L671.0 208.0 L672.0 208.0 L673.0 208.0 L674.1 208.0 L675.1 208.0 L676.1 208.0 L677.1 208.0 L678.1 208.0 L679.1 208.0 L680.1 208.0 L681.1 208.0 L682.1 208.0 L683.1 208.1 L684.1 208.1 L685.1 208.1 L686.1 208.1 L687.1 208.1 L688.1 208.1 L689.1 208.1 L690.1 208.1 L691.1 208.1 L692.1 208.1 L693.1 208.1 L694.1 208.1 L695.1 208.1 L696.1 208.2 L697.1 208.2 L698.1 208.2 L699.1 208.2 L700.2 208.2 L701.2 208.2 L702.2 208.2 L703.2 208.2 L704.2 208.2 L705.2 208.2 L706.2 208.2 L707.2 208.3 L708.2 208.3 L709.2 208.3 L710.2 208.3 L711.2 208.3 L712.2 208.3 L713.2 208.3 L714.2 208.3 L715.2 208.3 L716.2 208.3 L717.2 208.3 L718.2 208.3 L719.2 208.4 L720.2 208.4 L721.2 208.4 L722.2 208.4 L723.2 208.4 L724.2 208.4 L725.3 208.4 L726.3 208.4 L727.3 208.4 L728.3 208.4 L729.3 208.4 L730.3 208.4 L731.3 208.5 L732.3 208.5 L733.3 208.5 L734.3 208.5 L735.3 208.5 L736.3 208.5 L737.3 208.5 L738.3 208.5 L739.3 208.5 L740.3 208.5 L741.3 208.5 L742.3 208.5 L743.3 208.6 L744.3 208.6 L745.3 208.6 L746.3 208.6 L747.3 208.6 L748.3 208.6 L749.3 208.6 L750.3 208.6 L751.4 208.6 L752.4 208.6 L753.4 208.6 L754.4 208.6 L755.4 208.6 L756.4 208.6 L757.4 208.7 L758.4 208.7 L759.4 208.7 L760.4 208.7 L761.4 208.7 L762.4 208.7 L763.4 208.7 L764.4 208.7 L765.4 208.7 L766.4 208.7 L767.4 208.7 L768.4 208.7 L769.4 208.7 L770.4 208.7 L771.4 208.7 L772.4 208.7 L773.4 208.7 L774.4 208.7 L775.4 208.8 L776.5 208.8 L777.5 208.8 L778.5 208.8 L779.5 208.8 L780.5 208.8 L781.5 208.8 L782.5 208.8 L783.5 208.8 L784.5 208.8 L785.5 208.8 L786.5 208.8 L787.5 208.8 L788.5 208.8 L789.5 208.8 L790.5 208.8 L791.5 208.8 L792.5 208.8 L793.5 208.8 L794.5 208.8 L795.5 208.8 L796.5 208.8 L797.5 208.8 L798.5 208.8 L799.5 208.8 L800.5 208.8 L801.5 208.8 L802.6 208.8 L803.6 208.8 L804.6 208.8 L805.6 208.8 L806.6 208.8 L807.6 208.8 L808.6 208.8 L809.6 208.8 L810.6 208.8 L811.6 208.8 L812.6 208.8 L813.6 208.8 L814.6 208.8 L815.7 208.7 L816.8 208.6 L817.8 208.3 L818.9 207.9 L820.0 207.5 L821.0 207.1 L822.0 206.7 L823.0 206.2 L824.0 205.8 L825.0 205.3 L826.0 204.8 L827.0 204.3 L828.0 203.8 L829.0 203.2 L830.0 202.6 L831.0 202.0 L832.0 201.3 L833.0 200.6 L834.0 199.9 L835.0 199.2 L836.0 198.4 L837.0 197.6 L838.0 196.8 L839.0 196.0 L840.0 195.1 L841.0 194.1 L842.0 193.2 L843.0 192.2 L844.0 191.2 L845.0 190.2 L846.0 189.1 L847.0 188.0 L848.0 186.8 L849.0 185.5 L850.0 184.2 L851.0 182.7 L852.0 181.1 L853.0 179.5 L854.0 177.8 L855.0 176.0 L856.0 174.2 L857.0 172.3 L858.0 170.4 L859.0 168.5 L860.0 166.6 L861.0 164.8 L862.0 162.9 L863.1 160.8 L864.2 158.7 L865.3 156.5 L866.4 154.3 L867.5 152.1 L868.6 150.0 L869.7 148.1 L870.8 146.3 L871.9 144.7 L873.0 143.5 L874.1 142.7 L875.2 142.6 L876.4 143.2 L877.6 144.4 L878.8 146.2 L880.0 148.5 L881.1 151.7 L882.2 155.8 L883.3 160.0 L884.4 164.2 L885.5 168.5 L886.6 172.0 L887.7 174.7 L888.8 177.3 L889.9 179.8 L891.0 182.2 L892.1 184.4 L893.2 186.5 L894.3 188.5 L895.4 190.2 L896.4 191.7 L897.4 193.0 L898.4 194.3 L899.4 195.5 L900.4 196.6 L901.4 197.6 L902.4 198.6 L903.4 199.5 L904.4 200.3 L905.4 201.0 L906.4 201.7 L907.4 202.3 L908.5 202.9 L909.5 203.5 L910.5 204.0 L911.6 204.5 L912.6 204.9 L913.6 205.3 L914.7 205.7 L915.7 206.1 L916.8 206.4 L917.8 206.7 L918.8 207.0 L919.9 207.3 L920.9 207.6 L921.9 207.8 L923.0 208.1 L924.0 208.3 L925.0 208.5 L926.0 208.7 L927.0 209.0 L928.0 209.2 L929.0 209.4 L930.0 209.6 L931.0 209.7 L932.0 209.9 L933.0 210.1 L934.0 210.3 L935.0 210.5 L936.0 210.6 L937.0 210.8 L938.0 210.9 L939.0 211.1 L940.0 211.2 L941.0 211.4 L942.0 211.5 L943.0 211.7 L944.0 211.8 L945.0 212.0 L946.0 212.1 L947.0 212.2 L948.0 212.4 L949.0 212.5 L950.0 212.6 L951.0 212.7 L952.0 212.9 L953.0 213.0 L954.0 213.1 L955.0 213.2 L956.0 213.3 L957.0 213.5 L958.0 213.6 L959.0 213.7 L960.0 213.8 L961.0 213.9 L962.1 214.0 L963.1 214.1 L964.1 214.2 L965.2 214.3 L966.2 214.4 L967.3 214.5 L968.3 214.6 L969.3 214.7 L970.4 214.7 L971.4 214.8 L972.4 214.9 L973.5 214.9 L974.5 215.0 L975.5 215.0 L976.6 215.1 L977.6 215.1 L978.6 215.2 L979.7 215.2 L980.7 215.3 L981.8 215.3 L982.8 215.4 L983.8 215.4 L984.9 215.5 L985.9 215.5 L986.9 215.5 L987.9 215.6 L988.9 215.6 L989.9 215.7 L990.9 215.7 L991.9 215.7 L992.9 215.8 L993.9 215.8 L994.9 215.9 L996.0 215.9 L997.0 215.9 L998.0 216.0 L999.0 216.0 L1000.0 216.1 L1001.0 216.1 L1002.0 216.1 L1003.0 216.2 L1004.0 216.2 L1005.0 216.2 L1006.0 216.3 L1007.0 216.3 L1008.0 216.3 L1009.0 216.4 L1010.0 216.4 L1011.0 216.4 L1012.0 216.5 L1013.0 216.5 L1014.0 216.5 L1015.1 216.6 L1016.1 216.6 L1017.1 216.6 L1018.1 216.7 L1019.1 216.7 L1020.1 216.7 L1021.1 216.8 L1022.1 216.8 L1023.1 216.8 L1024.1 216.8 L1025.1 216.9 L1026.1 216.9 L1027.1 216.9 L1028.1 217.0 L1029.1 217.0 L1030.1 217.0 L1031.1 217.0 L1032.1 217.1 L1033.1 217.1 L1034.2 217.1 L1035.2 217.1 L1036.2 217.1 L1037.2 217.2 L1038.2 217.2 L1039.2 217.2 L1040.2 217.2 L1041.2 217.3 L1042.2 217.3 L1043.2 217.3 L1044.2 217.3 L1045.2 217.3 L1046.2 217.4 L1047.2 217.4 L1048.2 217.4 L1049.2 217.4 L1050.3 217.4 L1051.3 217.5 L1052.3 217.5 L1053.3 217.5 L1054.3 217.5 L1055.3 217.5 L1056.3 217.5 L1057.3 217.6 L1058.3 217.6 L1059.3 217.6 L1060.3 217.6 L1061.3 217.6 L1062.3 217.6 L1063.4 217.7 L1064.4 217.7 L1065.4 217.7 L1066.4 217.7 L1067.4 217.7 L1068.4 217.7 L1069.4 217.8 L1070.4 217.8 L1071.4 217.8 L1072.4 217.8 L1073.4 217.8 L1074.4 217.8 L1075.4 217.8 L1076.4 217.9 L1077.5 217.9 L1078.5 217.9 L1079.5 217.9 L1080.5 217.9 L1081.5 217.9 L1082.5 217.9 L1083.5 218.0 L1084.5 218.0 L1085.5 218.0 L1086.5 218.0 L1087.5 218.0 L1088.5 218.0 L1089.5 218.0 L1090.6 218.1 L1091.6 218.1 L1092.6 218.1 L1093.6 218.1 L1094.6 218.1 L1095.6 218.1 L1096.6 218.1 L1097.6 218.1 L1098.6 218.2 L1099.6 218.2 L1100.6 218.2 L1101.6 218.2 L1102.6 218.2 L1103.7 218.2 L1104.7 218.2 L1105.7 218.2 L1106.7 218.3 L1107.7 218.3 L1108.7 218.3 L1109.7 218.3 L1110.7 218.3 L1111.7 218.3 L1112.7 218.3 L1113.7 218.3 L1114.7 218.4 L1115.7 218.4 L1116.8 218.4 L1117.8 218.4 L1118.8 218.4 L1119.8 218.4 L1120.8 218.4 L1121.8 218.4 L1122.8 218.4 L1123.8 218.5 L1124.8 218.5 L1125.8 218.5 L1126.8 218.5 L1127.8 218.5 L1128.8 218.5 L1129.8 218.5 L1130.9 218.5 L1131.9 218.6 L1132.9 218.6 L1133.9 218.6 L1134.9 218.6 L1135.9 218.6 L1136.9 218.6 L1137.9 218.6 L1138.9 218.7 L1139.9 218.7 L1140.9 218.7 L1141.9 218.7 L1142.9 218.7 L1144.0 218.7 L1145.0 218.7 L1146.0 218.7 L1147.0 218.8 L1148.0 218.8 L1149.0 218.8 L1150.0 218.8" stroke="#7a1a7a" stroke-width="1.5" fill="none" stroke-linejoin="round"/>
<path d="M661.0 230.8 L662.0 230.8 L663.0 230.8 L664.0 230.8 L665.0 230.8 L666.0 230.8 L667.0 230.9 L668.0 230.9 L669.0 230.9 L670.0 230.9 L671.0 230.9 L672.0 230.9 L673.1 230.9 L674.1 231.0 L675.1 231.0 L676.1 231.0 L677.1 231.0 L678.1 231.0 L679.1 231.1 L680.1 231.1 L681.1 231.1 L682.1 231.1 L683.1 231.1 L684.1 231.2 L685.1 231.2 L686.1 231.2 L687.1 231.2 L688.1 231.2 L689.1 231.3 L690.1 231.3 L691.1 231.3 L692.1 231.3 L693.1 231.4 L694.1 231.4 L695.2 231.4 L696.2 231.4 L697.2 231.5 L698.2 231.5 L699.2 231.5 L700.2 231.5 L701.2 231.6 L702.2 231.6 L703.2 231.6 L704.2 231.6 L705.2 231.6 L706.2 231.7 L707.2 231.7 L708.2 231.7 L709.2 231.7 L710.2 231.8 L711.2 231.8 L712.2 231.8 L713.2 231.8 L714.2 231.9 L715.2 231.9 L716.2 231.9 L717.2 231.9 L718.3 231.9 L719.3 232.0 L720.3 232.0 L721.3 232.0 L722.3 232.0 L723.3 232.0 L724.3 232.0 L725.3 232.1 L726.3 232.1 L727.3 232.1 L728.3 232.1 L729.3 232.1 L730.3 232.1 L731.3 232.1 L732.3 232.2 L733.3 232.2 L734.3 232.2 L735.3 232.2 L736.3 232.2 L737.3 232.2 L738.3 232.2 L739.3 232.2 L740.3 232.2 L741.4 232.2 L742.4 232.2 L743.4 232.2 L744.4 232.2 L745.4 232.2 L746.4 232.2 L747.4 232.2 L748.4 232.2 L749.4 232.2 L750.4 232.2 L751.4 232.2 L752.4 232.2 L753.4 232.2 L754.4 232.2 L755.4 232.2 L756.4 232.2 L757.4 232.1 L758.4 232.1 L759.4 232.1 L760.4 232.1 L761.4 232.1 L762.4 232.1 L763.5 232.0 L764.5 232.0 L765.5 232.0 L766.5 232.0 L767.5 231.9 L768.5 231.9 L769.5 231.9 L770.5 231.8 L771.5 231.8 L772.5 231.8 L773.5 231.7 L774.5 231.7 L775.5 231.7 L776.5 231.6 L777.6 231.6 L778.6 231.5 L779.6 231.4 L780.6 231.4 L781.6 231.3 L782.7 231.2 L783.7 231.2 L784.7 231.1 L785.7 231.0 L786.7 230.9 L787.8 230.8 L788.8 230.7 L789.8 230.6 L790.8 230.5 L791.8 230.3 L792.9 230.2 L793.9 230.1 L794.9 229.9 L795.9 229.8 L796.9 229.7 L798.0 229.5 L799.0 229.3 L800.0 229.2 L801.0 229.0 L802.0 228.8 L803.1 228.6 L804.1 228.4 L805.1 228.2 L806.1 228.0 L807.1 227.8 L808.2 227.6 L809.2 227.4 L810.2 227.2 L811.2 226.9 L812.2 226.7 L813.3 226.4 L814.3 226.2 L815.3 225.9 L816.3 225.7 L817.3 225.4 L818.4 225.1 L819.4 224.8 L820.4 224.5 L821.4 224.2 L822.4 223.8 L823.4 223.4 L824.4 222.9 L825.5 222.4 L826.5 221.8 L827.5 221.2 L828.5 220.5 L829.5 219.8 L830.5 219.1 L831.5 218.3 L832.5 217.5 L833.6 216.7 L834.6 215.8 L835.6 214.9 L836.6 214.0 L837.6 213.0 L838.6 212.0 L839.6 210.8 L840.6 209.5 L841.6 208.2 L842.6 206.7 L843.6 205.2 L844.6 203.7 L845.6 202.1 L846.6 200.6 L847.6 199.1 L848.6 197.6 L849.7 196.0 L850.8 194.4 L851.9 192.8 L853.0 191.2 L854.1 189.5 L855.2 187.9 L856.3 186.1 L857.4 184.4 L858.5 182.4 L859.7 180.3 L860.9 178.2 L862.0 176.1 L863.0 174.4 L864.0 172.6 L865.0 170.9 L866.0 169.3 L867.0 168.0 L868.2 166.7 L869.5 165.6 L870.7 164.9 L871.9 164.6 L872.9 164.8 L874.0 165.3 L875.0 166.3 L876.0 167.5 L877.0 169.0 L878.0 170.8 L879.0 172.9 L880.0 175.3 L881.1 178.2 L882.2 181.3 L883.3 184.5 L884.4 187.8 L885.5 191.1 L886.6 194.1 L887.7 197.0 L888.8 199.5 L889.8 201.6 L890.8 203.5 L891.8 205.4 L892.8 207.2 L893.8 208.9 L894.8 210.5 L895.8 212.0 L896.8 213.4 L897.8 214.7 L898.8 216.0 L899.8 217.1 L900.8 218.2 L901.8 219.1 L902.8 220.0 L903.9 220.9 L904.9 221.6 L905.9 222.3 L906.9 222.9 L907.9 223.5 L908.9 224.1 L910.0 224.6 L911.0 225.1 L912.0 225.5 L913.0 226.0 L914.0 226.4 L915.0 226.8 L916.0 227.2 L917.0 227.6 L918.0 228.0 L919.0 228.3 L920.0 228.7 L921.0 229.0 L922.0 229.3 L923.0 229.6 L924.0 229.9 L925.1 230.1 L926.1 230.4 L927.1 230.7 L928.1 230.9 L929.1 231.2 L930.1 231.4 L931.1 231.7 L932.1 231.9 L933.1 232.1 L934.1 232.4 L935.1 232.6 L936.1 232.8 L937.2 233.1 L938.2 233.3 L939.2 233.5 L940.3 233.8 L941.3 234.0 L942.4 234.2 L943.4 234.4 L944.4 234.6 L945.5 234.8 L946.5 235.0 L947.5 235.2 L948.6 235.3 L949.6 235.5 L950.7 235.7 L951.7 235.9 L952.7 236.0 L953.8 236.2 L954.8 236.3 L955.9 236.5 L956.9 236.6 L957.9 236.7 L959.0 236.9 L960.0 237.0 L961.0 237.1 L962.1 237.2 L963.1 237.3 L964.1 237.4 L965.2 237.5 L966.2 237.6 L967.3 237.7 L968.3 237.7 L969.3 237.8 L970.4 237.9 L971.4 237.9 L972.4 238.0 L973.5 238.0 L974.5 238.1 L975.5 238.1 L976.6 238.2 L977.6 238.2 L978.6 238.3 L979.7 238.3 L980.7 238.3 L981.8 238.4 L982.8 238.4 L983.8 238.4 L984.9 238.5 L985.9 238.5 L986.9 238.5 L987.9 238.6 L988.9 238.6 L989.9 238.6 L990.9 238.7 L991.9 238.7 L992.9 238.7 L993.9 238.7 L994.9 238.8 L996.0 238.8 L997.0 238.8 L998.0 238.8 L999.0 238.9 L1000.0 238.9 L1001.0 238.9 L1002.0 238.9 L1003.0 239.0 L1004.0 239.0 L1005.0 239.0 L1006.0 239.0 L1007.0 239.1 L1008.0 239.1 L1009.0 239.1 L1010.0 239.1 L1011.0 239.1 L1012.0 239.2 L1013.0 239.2 L1014.0 239.2 L1015.1 239.2 L1016.1 239.2 L1017.1 239.3 L1018.1 239.3 L1019.1 239.3 L1020.1 239.3 L1021.1 239.3 L1022.1 239.4 L1023.1 239.4 L1024.1 239.4 L1025.1 239.4 L1026.1 239.4 L1027.1 239.4 L1028.1 239.5 L1029.1 239.5 L1030.1 239.5 L1031.1 239.5 L1032.1 239.5 L1033.1 239.5 L1034.2 239.6 L1035.2 239.6 L1036.2 239.6 L1037.2 239.6 L1038.2 239.6 L1039.2 239.6 L1040.2 239.7 L1041.2 239.7 L1042.2 239.7 L1043.2 239.7 L1044.2 239.7 L1045.2 239.7 L1046.2 239.7 L1047.2 239.8 L1048.2 239.8 L1049.2 239.8 L1050.3 239.8 L1051.3 239.8 L1052.3 239.8 L1053.3 239.9 L1054.3 239.9 L1055.3 239.9 L1056.3 239.9 L1057.3 239.9 L1058.3 239.9 L1059.3 239.9 L1060.3 240.0 L1061.3 240.0 L1062.3 240.0 L1063.4 240.0 L1064.4 240.0 L1065.4 240.0 L1066.4 240.0 L1067.4 240.1 L1068.4 240.1 L1069.4 240.1 L1070.4 240.1 L1071.4 240.1 L1072.4 240.1 L1073.4 240.1 L1074.4 240.2 L1075.4 240.2 L1076.4 240.2 L1077.5 240.2 L1078.5 240.2 L1079.5 240.2 L1080.5 240.2 L1081.5 240.2 L1082.5 240.3 L1083.5 240.3 L1084.5 240.3 L1085.5 240.3 L1086.5 240.3 L1087.5 240.3 L1088.5 240.3 L1089.5 240.3 L1090.6 240.4 L1091.6 240.4 L1092.6 240.4 L1093.6 240.4 L1094.6 240.4 L1095.6 240.4 L1096.6 240.4 L1097.6 240.4 L1098.6 240.5 L1099.6 240.5 L1100.6 240.5 L1101.6 240.5 L1102.6 240.5 L1103.7 240.5 L1104.7 240.5 L1105.7 240.5 L1106.7 240.6 L1107.7 240.6 L1108.7 240.6 L1109.7 240.6 L1110.7 240.6 L1111.7 240.6 L1112.7 240.6 L1113.7 240.6 L1114.7 240.7 L1115.7 240.7 L1116.8 240.7 L1117.8 240.7 L1118.8 240.7 L1119.8 240.7 L1120.8 240.7 L1121.8 240.7 L1122.8 240.8 L1123.8 240.8 L1124.8 240.8 L1125.8 240.8 L1126.8 240.8 L1127.8 240.8 L1128.8 240.8 L1129.8 240.8 L1130.9 240.9 L1131.9 240.9 L1132.9 240.9 L1133.9 240.9 L1134.9 240.9 L1135.9 240.9 L1136.9 240.9 L1137.9 240.9 L1138.9 241.0 L1139.9 241.0 L1140.9 241.0 L1141.9 241.0 L1142.9 241.0 L1144.0 241.0 L1145.0 241.0 L1146.0 241.0 L1147.0 241.1 L1148.0 241.1 L1149.0 241.1 L1150.0 241.1" stroke="#9a30f0" stroke-width="1.5" fill="none" stroke-linejoin="round"/>
<path d="M661.0 252.6 L662.0 252.6 L663.0 252.7 L664.0 252.7 L665.0 252.7 L666.0 252.8 L667.0 252.8 L668.0 252.9 L669.0 252.9 L670.0 253.0 L671.0 253.0 L672.0 253.1 L673.0 253.1 L674.0 253.1 L675.0 253.2 L676.0 253.2 L677.0 253.3 L678.0 253.3 L679.0 253.4 L680.0 253.4 L681.0 253.5 L682.0 253.5 L683.0 253.6 L684.0 253.6 L685.0 253.6 L686.0 253.7 L687.0 253.7 L688.0 253.8 L689.0 253.8 L690.0 253.8 L691.0 253.9 L692.0 253.9 L693.0 253.9 L694.0 253.9 L695.0 253.9 L696.0 254.0 L697.0 254.0 L698.0 254.0 L699.0 254.0 L700.0 254.0 L701.0 254.0 L702.0 254.0 L703.0 254.0 L704.0 254.0 L705.0 254.0 L706.0 254.0 L707.0 254.0 L708.0 253.9 L709.0 253.9 L710.0 253.9 L711.1 253.9 L712.1 253.9 L713.1 253.9 L714.1 253.9 L715.1 253.8 L716.1 253.8 L717.1 253.8 L718.1 253.8 L719.1 253.8 L720.1 253.7 L721.1 253.7 L722.1 253.7 L723.1 253.7 L724.1 253.7 L725.2 253.6 L726.2 253.6 L727.2 253.6 L728.2 253.6 L729.2 253.5 L730.2 253.5 L731.2 253.5 L732.2 253.4 L733.2 253.4 L734.2 253.4 L735.2 253.4 L736.2 253.3 L737.2 253.3 L738.2 253.3 L739.3 253.2 L740.3 253.2 L741.3 253.2 L742.3 253.1 L743.3 253.1 L744.3 253.0 L745.3 253.0 L746.3 253.0 L747.3 252.9 L748.3 252.9 L749.3 252.9 L750.3 252.8 L751.3 252.8 L752.3 252.7 L753.4 252.7 L754.4 252.6 L755.4 252.6 L756.4 252.6 L757.4 252.5 L758.4 252.5 L759.4 252.4 L760.4 252.4 L761.4 252.3 L762.4 252.3 L763.4 252.2 L764.4 252.2 L765.4 252.1 L766.4 252.1 L767.5 252.1 L768.5 252.0 L769.5 252.0 L770.5 251.9 L771.5 251.9 L772.5 251.8 L773.5 251.8 L774.5 251.7 L775.5 251.6 L776.5 251.6 L777.6 251.5 L778.6 251.5 L779.6 251.4 L780.6 251.3 L781.6 251.3 L782.7 251.2 L783.7 251.1 L784.7 251.0 L785.7 250.9 L786.7 250.8 L787.8 250.7 L788.8 250.6 L789.8 250.5 L790.8 250.4 L791.8 250.2 L792.9 250.1 L793.9 250.0 L794.9 249.8 L795.9 249.7 L796.9 249.5 L798.0 249.4 L799.0 249.2 L800.0 249.0 L801.0 248.8 L802.0 248.6 L803.0 248.5 L804.0 248.3 L805.0 248.1 L806.0 247.9 L807.0 247.7 L808.0 247.5 L809.0 247.2 L810.0 247.0 L811.0 246.7 L812.0 246.5 L813.0 246.2 L814.0 245.9 L815.0 245.5 L816.0 245.2 L817.0 244.8 L818.0 244.4 L819.0 244.0 L820.0 243.5 L821.0 243.0 L822.1 242.5 L823.1 242.0 L824.1 241.5 L825.2 241.0 L826.2 240.5 L827.2 239.9 L828.3 239.3 L829.3 238.6 L830.4 237.9 L831.4 237.2 L832.4 236.3 L833.5 235.4 L834.5 234.5 L835.5 233.4 L836.6 232.3 L837.6 231.0 L838.6 229.6 L839.7 228.1 L840.7 226.4 L841.7 224.5 L842.7 222.6 L843.8 220.6 L844.8 218.5 L845.8 216.4 L846.8 214.2 L847.9 212.0 L848.9 209.9 L849.9 207.8 L850.9 205.8 L852.0 203.8 L853.0 202.0 L854.1 200.1 L855.2 198.3 L856.3 196.6 L857.5 194.9 L858.6 193.3 L859.7 191.7 L860.8 190.2 L861.9 188.8 L863.0 187.5 L864.1 186.3 L865.3 185.5 L866.4 185.0 L867.6 184.9 L868.8 185.4 L870.0 186.5 L871.0 187.8 L872.0 189.5 L873.1 191.2 L874.1 193.1 L875.1 195.0 L876.2 197.1 L877.4 199.2 L878.5 201.4 L879.6 203.6 L880.8 205.8 L881.9 208.0 L882.9 209.9 L883.9 211.9 L884.9 213.8 L885.9 215.8 L886.9 217.8 L887.9 219.8 L888.9 221.7 L889.9 223.7 L890.9 225.6 L891.9 227.5 L892.9 229.4 L893.9 231.2 L894.9 233.0 L895.9 234.7 L896.9 236.3 L898.0 237.7 L899.0 238.9 L900.0 240.0 L901.0 241.0 L902.0 241.9 L903.0 242.8 L904.0 243.7 L905.1 244.4 L906.1 245.2 L907.1 245.8 L908.1 246.5 L909.2 247.2 L910.4 247.8 L911.5 248.3 L912.6 248.8 L913.7 249.3 L914.9 249.7 L916.0 250.0 L917.0 250.3 L918.1 250.6 L919.1 250.9 L920.1 251.1 L921.1 251.4 L922.2 251.7 L923.2 252.0 L924.2 252.3 L925.3 252.6 L926.3 252.8 L927.3 253.1 L928.3 253.4 L929.4 253.7 L930.4 253.9 L931.4 254.2 L932.5 254.5 L933.5 254.7 L934.5 255.0 L935.6 255.2 L936.6 255.4 L937.6 255.7 L938.6 255.9 L939.7 256.1 L940.7 256.3 L941.7 256.5 L942.8 256.7 L943.8 256.9 L944.8 257.1 L945.8 257.3 L946.9 257.4 L947.9 257.6 L948.9 257.7 L949.9 257.9 L951.0 258.0 L952.0 258.2 L953.0 258.3 L954.0 258.4 L955.0 258.6 L956.1 258.7 L957.1 258.8 L958.1 258.9 L959.1 259.0 L960.1 259.1 L961.1 259.3 L962.2 259.4 L963.2 259.5 L964.2 259.6 L965.2 259.7 L966.2 259.8 L967.3 259.9 L968.3 259.9 L969.3 260.0 L970.3 260.1 L971.3 260.2 L972.4 260.3 L973.4 260.4 L974.4 260.4 L975.4 260.5 L976.4 260.6 L977.5 260.7 L978.5 260.7 L979.5 260.8 L980.5 260.9 L981.5 260.9 L982.6 261.0 L983.6 261.0 L984.6 261.1 L985.6 261.2 L986.6 261.2 L987.6 261.3 L988.7 261.3 L989.7 261.4 L990.7 261.4 L991.7 261.5 L992.7 261.5 L993.8 261.6 L994.8 261.7 L995.8 261.7 L996.8 261.7 L997.8 261.8 L998.8 261.8 L999.9 261.9 L1000.9 261.9 L1001.9 262.0 L1002.9 262.0 L1003.9 262.0 L1004.9 262.1 L1005.9 262.1 L1006.9 262.1 L1008.0 262.2 L1009.0 262.2 L1010.0 262.2 L1011.0 262.3 L1012.0 262.3 L1013.0 262.3 L1014.0 262.4 L1015.0 262.4 L1016.1 262.4 L1017.1 262.4 L1018.1 262.4 L1019.1 262.5 L1020.1 262.5 L1021.1 262.5 L1022.1 262.5 L1023.1 262.5 L1024.2 262.6 L1025.2 262.6 L1026.2 262.6 L1027.2 262.6 L1028.2 262.6 L1029.2 262.6 L1030.2 262.7 L1031.2 262.7 L1032.3 262.7 L1033.3 262.7 L1034.3 262.7 L1035.3 262.7 L1036.3 262.7 L1037.3 262.7 L1038.3 262.8 L1039.3 262.8 L1040.4 262.8 L1041.4 262.8 L1042.4 262.8 L1043.4 262.8 L1044.4 262.8 L1045.4 262.8 L1046.4 262.8 L1047.4 262.8 L1048.5 262.9 L1049.5 262.9 L1050.5 262.9 L1051.5 262.9 L1052.5 262.9 L1053.5 262.9 L1054.5 262.9 L1055.5 262.9 L1056.6 263.0 L1057.6 263.0 L1058.6 263.0 L1059.6 263.0 L1060.6 263.0 L1061.6 263.0 L1062.6 263.0 L1063.6 263.1 L1064.6 263.1 L1065.6 263.1 L1066.6 263.1 L1067.6 263.1 L1068.6 263.1 L1069.6 263.1 L1070.6 263.2 L1071.7 263.2 L1072.7 263.2 L1073.7 263.2 L1074.7 263.2 L1075.7 263.2 L1076.7 263.2 L1077.7 263.2 L1078.7 263.3 L1079.7 263.3 L1080.7 263.3 L1081.7 263.3 L1082.7 263.3 L1083.7 263.3 L1084.7 263.3 L1085.7 263.3 L1086.7 263.4 L1087.7 263.4 L1088.7 263.4 L1089.7 263.4 L1090.7 263.4 L1091.7 263.4 L1092.7 263.4 L1093.8 263.4 L1094.8 263.4 L1095.8 263.5 L1096.8 263.5 L1097.8 263.5 L1098.8 263.5 L1099.8 263.5 L1100.8 263.5 L1101.8 263.5 L1102.8 263.5 L1103.8 263.5 L1104.8 263.5 L1105.8 263.6 L1106.8 263.6 L1107.8 263.6 L1108.8 263.6 L1109.8 263.6 L1110.8 263.6 L1111.8 263.6 L1112.8 263.6 L1113.8 263.6 L1114.8 263.6 L1115.8 263.7 L1116.9 263.7 L1117.9 263.7 L1118.9 263.7 L1119.9 263.7 L1120.9 263.7 L1121.9 263.7 L1122.9 263.7 L1123.9 263.7 L1124.9 263.7 L1125.9 263.8 L1126.9 263.8 L1127.9 263.8 L1128.9 263.8 L1129.9 263.8 L1130.9 263.8 L1131.9 263.8 L1132.9 263.8 L1133.9 263.8 L1134.9 263.8 L1135.9 263.9 L1136.9 263.9 L1137.9 263.9 L1139.0 263.9 L1140.0 263.9 L1141.0 263.9 L1142.0 263.9 L1143.0 263.9 L1144.0 263.9 L1145.0 263.9 L1146.0 264.0 L1147.0 264.0 L1148.0 264.0 L1149.0 264.0 L1150.0 264.0" stroke="#1a1a6a" stroke-width="1.5" fill="none" stroke-linejoin="round"/>
<path d="M661.0 274.5 L662.0 274.5 L663.0 274.6 L664.1 274.7 L665.1 274.7 L666.1 274.8 L667.1 274.8 L668.1 274.9 L669.2 274.9 L670.2 275.0 L671.2 275.1 L672.2 275.1 L673.2 275.2 L674.3 275.2 L675.3 275.3 L676.3 275.4 L677.3 275.4 L678.3 275.5 L679.4 275.6 L680.4 275.6 L681.4 275.7 L682.4 275.8 L683.4 275.8 L684.5 275.9 L685.5 275.9 L686.5 276.0 L687.5 276.0 L688.5 276.1 L689.5 276.2 L690.6 276.2 L691.6 276.3 L692.6 276.3 L693.6 276.4 L694.6 276.4 L695.7 276.4 L696.7 276.5 L697.7 276.5 L698.7 276.5 L699.7 276.6 L700.8 276.6 L701.8 276.6 L702.8 276.7 L703.8 276.7 L704.8 276.7 L705.9 276.7 L706.9 276.7 L707.9 276.7 L708.9 276.7 L709.9 276.7 L711.0 276.7 L712.0 276.7 L713.0 276.7 L714.0 276.7 L715.0 276.6 L716.1 276.6 L717.1 276.6 L718.1 276.6 L719.1 276.6 L720.1 276.5 L721.1 276.5 L722.2 276.5 L723.2 276.4 L724.2 276.4 L725.2 276.4 L726.2 276.3 L727.3 276.3 L728.3 276.2 L729.3 276.2 L730.3 276.1 L731.3 276.1 L732.4 276.0 L733.4 276.0 L734.4 275.9 L735.4 275.9 L736.4 275.8 L737.5 275.8 L738.5 275.7 L739.5 275.7 L740.5 275.6 L741.5 275.5 L742.6 275.5 L743.6 275.4 L744.6 275.3 L745.6 275.3 L746.6 275.2 L747.6 275.1 L748.7 275.0 L749.7 275.0 L750.7 274.9 L751.7 274.8 L752.7 274.7 L753.8 274.7 L754.8 274.6 L755.8 274.5 L756.8 274.4 L757.8 274.3 L758.8 274.2 L759.8 274.1 L760.8 274.0 L761.8 273.9 L762.9 273.7 L763.9 273.6 L764.9 273.5 L765.9 273.3 L766.9 273.2 L767.9 273.0 L768.9 272.9 L769.9 272.7 L770.9 272.5 L771.9 272.4 L772.9 272.2 L774.0 272.0 L775.0 271.9 L776.0 271.7 L777.0 271.5 L778.0 271.3 L779.0 271.2 L780.0 271.0 L781.0 270.8 L782.1 270.7 L783.1 270.5 L784.1 270.3 L785.2 270.1 L786.2 270.0 L787.2 269.8 L788.2 269.6 L789.3 269.4 L790.3 269.2 L791.3 269.1 L792.4 268.9 L793.4 268.7 L794.4 268.5 L795.5 268.3 L796.5 268.1 L797.5 267.9 L798.5 267.6 L799.6 267.4 L800.6 267.2 L801.6 267.0 L802.7 266.7 L803.7 266.5 L804.7 266.3 L805.7 266.0 L806.8 265.8 L807.8 265.5 L808.8 265.2 L809.8 265.0 L810.8 264.7 L811.9 264.4 L812.9 264.1 L813.9 263.7 L814.9 263.4 L815.9 263.1 L816.9 262.7 L818.0 262.3 L819.0 261.9 L820.0 261.5 L821.0 261.1 L822.0 260.6 L823.0 260.0 L824.0 259.5 L825.0 258.9 L826.0 258.3 L827.0 257.6 L828.0 256.9 L829.0 256.2 L830.0 255.5 L831.0 254.8 L832.0 254.0 L833.0 253.2 L834.0 252.3 L835.0 251.4 L836.0 250.5 L837.0 249.5 L838.0 248.5 L839.0 247.4 L840.1 246.4 L841.1 245.3 L842.1 244.2 L843.1 242.8 L844.2 241.3 L845.2 239.5 L846.3 237.2 L847.4 234.5 L848.5 231.6 L849.7 228.5 L850.8 225.5 L851.9 222.6 L853.0 220.0 L854.1 217.6 L855.2 215.3 L856.3 213.1 L857.4 211.1 L858.5 209.2 L859.6 207.5 L860.7 206.1 L861.9 205.3 L863.0 205.2 L864.0 205.5 L865.0 205.9 L866.0 206.7 L867.0 207.7 L868.0 209.0 L869.2 211.2 L870.5 214.0 L871.7 217.1 L872.9 220.0 L874.0 222.5 L875.1 225.2 L876.2 227.8 L877.3 230.4 L878.4 233.0 L879.5 235.5 L880.6 237.8 L881.7 240.0 L882.7 241.8 L883.7 243.6 L884.7 245.3 L885.7 246.9 L886.7 248.5 L887.7 250.0 L888.7 251.5 L889.7 252.9 L890.7 254.3 L891.7 255.7 L892.7 257.0 L893.7 258.3 L894.8 259.5 L895.8 260.5 L896.9 261.5 L897.9 262.3 L899.0 263.2 L900.0 264.0 L901.0 264.8 L902.0 265.5 L903.0 266.2 L904.0 266.8 L905.1 267.4 L906.1 267.9 L907.1 268.5 L908.1 269.0 L909.2 269.5 L910.4 270.0 L911.5 270.5 L912.6 270.9 L913.7 271.3 L914.9 271.7 L916.0 272.0 L917.0 272.3 L918.1 272.6 L919.1 272.9 L920.1 273.1 L921.1 273.4 L922.2 273.7 L923.2 274.0 L924.2 274.3 L925.3 274.6 L926.3 274.9 L927.3 275.2 L928.3 275.5 L929.4 275.7 L930.4 276.0 L931.4 276.3 L932.5 276.6 L933.5 276.8 L934.5 277.1 L935.6 277.4 L936.6 277.6 L937.6 277.9 L938.6 278.1 L939.7 278.3 L940.7 278.6 L941.7 278.8 L942.8 279.0 L943.8 279.2 L944.8 279.4 L945.8 279.6 L946.9 279.7 L947.9 279.9 L948.9 280.1 L949.9 280.2 L951.0 280.3 L952.0 280.5 L953.0 280.6 L954.0 280.8 L955.0 280.9 L956.1 281.0 L957.1 281.1 L958.1 281.3 L959.1 281.4 L960.1 281.5 L961.1 281.6 L962.2 281.7 L963.2 281.8 L964.2 281.9 L965.2 282.0 L966.2 282.1 L967.3 282.2 L968.3 282.3 L969.3 282.4 L970.3 282.5 L971.3 282.6 L972.4 282.6 L973.4 282.7 L974.4 282.8 L975.4 282.9 L976.4 282.9 L977.5 283.0 L978.5 283.1 L979.5 283.2 L980.5 283.2 L981.5 283.3 L982.6 283.4 L983.6 283.4 L984.6 283.5 L985.6 283.5 L986.6 283.6 L987.6 283.7 L988.7 283.7 L989.7 283.8 L990.7 283.8 L991.7 283.9 L992.7 283.9 L993.8 284.0 L994.8 284.0 L995.8 284.1 L996.8 284.2 L997.8 284.2 L998.8 284.3 L999.9 284.3 L1000.9 284.3 L1001.9 284.4 L1002.9 284.4 L1003.9 284.5 L1004.9 284.5 L1005.9 284.6 L1006.9 284.6 L1008.0 284.6 L1009.0 284.7 L1010.0 284.7 L1011.0 284.7 L1012.0 284.8 L1013.0 284.8 L1014.0 284.8 L1015.0 284.9 L1016.1 284.9 L1017.1 284.9 L1018.1 284.9 L1019.1 285.0 L1020.1 285.0 L1021.1 285.0 L1022.1 285.0 L1023.1 285.1 L1024.2 285.1 L1025.2 285.1 L1026.2 285.1 L1027.2 285.2 L1028.2 285.2 L1029.2 285.2 L1030.2 285.2 L1031.2 285.2 L1032.3 285.3 L1033.3 285.3 L1034.3 285.3 L1035.3 285.3 L1036.3 285.3 L1037.3 285.3 L1038.3 285.4 L1039.3 285.4 L1040.4 285.4 L1041.4 285.4 L1042.4 285.4 L1043.4 285.4 L1044.4 285.5 L1045.4 285.5 L1046.4 285.5 L1047.4 285.5 L1048.5 285.5 L1049.5 285.5 L1050.5 285.5 L1051.5 285.6 L1052.5 285.6 L1053.5 285.6 L1054.5 285.6 L1055.5 285.6 L1056.6 285.6 L1057.6 285.7 L1058.6 285.7 L1059.6 285.7 L1060.6 285.7 L1061.6 285.7 L1062.6 285.8 L1063.6 285.8 L1064.6 285.8 L1065.6 285.8 L1066.6 285.8 L1067.6 285.8 L1068.6 285.9 L1069.6 285.9 L1070.6 285.9 L1071.7 285.9 L1072.7 285.9 L1073.7 285.9 L1074.7 286.0 L1075.7 286.0 L1076.7 286.0 L1077.7 286.0 L1078.7 286.0 L1079.7 286.0 L1080.7 286.0 L1081.7 286.1 L1082.7 286.1 L1083.7 286.1 L1084.7 286.1 L1085.7 286.1 L1086.7 286.1 L1087.7 286.1 L1088.7 286.2 L1089.7 286.2 L1090.7 286.2 L1091.7 286.2 L1092.7 286.2 L1093.8 286.2 L1094.8 286.2 L1095.8 286.2 L1096.8 286.3 L1097.8 286.3 L1098.8 286.3 L1099.8 286.3 L1100.8 286.3 L1101.8 286.3 L1102.8 286.3 L1103.8 286.3 L1104.8 286.4 L1105.8 286.4 L1106.8 286.4 L1107.8 286.4 L1108.8 286.4 L1109.8 286.4 L1110.8 286.4 L1111.8 286.4 L1112.8 286.5 L1113.8 286.5 L1114.8 286.5 L1115.8 286.5 L1116.9 286.5 L1117.9 286.5 L1118.9 286.5 L1119.9 286.5 L1120.9 286.5 L1121.9 286.6 L1122.9 286.6 L1123.9 286.6 L1124.9 286.6 L1125.9 286.6 L1126.9 286.6 L1127.9 286.6 L1128.9 286.6 L1129.9 286.7 L1130.9 286.7 L1131.9 286.7 L1132.9 286.7 L1133.9 286.7 L1134.9 286.7 L1135.9 286.7 L1136.9 286.7 L1137.9 286.7 L1139.0 286.8 L1140.0 286.8 L1141.0 286.8 L1142.0 286.8 L1143.0 286.8 L1144.0 286.8 L1145.0 286.8 L1146.0 286.8 L1147.0 286.9 L1148.0 286.9 L1149.0 286.9 L1150.0 286.9" stroke="#1a8a1a" stroke-width="1.5" fill="none" stroke-linejoin="round"/>
<path d="M661.0 296.8 L662.0 296.8 L663.0 296.8 L664.0 296.8 L665.1 296.8 L666.1 296.8 L667.1 296.8 L668.1 296.8 L669.1 296.8 L670.1 296.9 L671.1 296.9 L672.2 296.9 L673.2 296.9 L674.2 296.9 L675.2 296.9 L676.2 296.9 L677.2 296.9 L678.2 297.0 L679.3 297.0 L680.3 297.0 L681.3 297.0 L682.3 297.0 L683.3 297.0 L684.3 297.0 L685.3 297.1 L686.4 297.1 L687.4 297.1 L688.4 297.1 L689.4 297.1 L690.4 297.1 L691.4 297.1 L692.5 297.2 L693.5 297.2 L694.5 297.2 L695.5 297.2 L696.5 297.2 L697.5 297.2 L698.5 297.2 L699.6 297.2 L700.6 297.2 L701.6 297.2 L702.6 297.2 L703.6 297.2 L704.6 297.2 L705.6 297.2 L706.7 297.2 L707.7 297.2 L708.7 297.2 L709.7 297.2 L710.7 297.2 L711.7 297.2 L712.7 297.1 L713.8 297.1 L714.8 297.1 L715.8 297.1 L716.8 297.1 L717.8 297.0 L718.8 297.0 L719.8 297.0 L720.9 296.9 L721.9 296.9 L722.9 296.8 L723.9 296.8 L724.9 296.8 L725.9 296.7 L726.9 296.7 L728.0 296.6 L729.0 296.6 L730.0 296.5 L731.0 296.5 L732.0 296.4 L733.0 296.4 L734.0 296.4 L735.0 296.3 L736.1 296.3 L737.1 296.2 L738.1 296.2 L739.1 296.1 L740.1 296.1 L741.1 296.0 L742.1 296.0 L743.1 295.9 L744.2 295.9 L745.2 295.8 L746.2 295.8 L747.2 295.7 L748.2 295.6 L749.2 295.6 L750.2 295.5 L751.2 295.4 L752.3 295.4 L753.3 295.3 L754.3 295.2 L755.3 295.2 L756.3 295.1 L757.3 295.0 L758.3 294.9 L759.3 294.9 L760.4 294.8 L761.4 294.7 L762.4 294.6 L763.4 294.5 L764.4 294.4 L765.4 294.3 L766.4 294.2 L767.4 294.1 L768.5 294.0 L769.5 293.9 L770.5 293.7 L771.5 293.6 L772.5 293.5 L773.5 293.4 L774.5 293.2 L775.5 293.1 L776.6 293.0 L777.6 292.8 L778.6 292.7 L779.6 292.5 L780.6 292.3 L781.6 292.2 L782.6 292.0 L783.6 291.8 L784.7 291.7 L785.7 291.5 L786.7 291.3 L787.7 291.1 L788.7 290.9 L789.8 290.7 L790.8 290.4 L791.8 290.2 L792.8 289.9 L793.9 289.6 L794.9 289.3 L795.9 288.9 L797.0 288.6 L798.0 288.2 L799.0 287.9 L800.0 287.5 L801.1 287.1 L802.1 286.7 L803.1 286.3 L804.2 285.8 L805.2 285.4 L806.2 284.9 L807.3 284.5 L808.3 284.0 L809.3 283.5 L810.3 283.0 L811.4 282.5 L812.4 282.0 L813.4 281.5 L814.5 281.0 L815.5 280.4 L816.5 279.9 L817.5 279.4 L818.6 278.8 L819.6 278.3 L820.6 277.7 L821.7 277.1 L822.7 276.4 L823.8 275.6 L824.8 274.8 L825.9 274.0 L826.9 273.1 L828.0 272.1 L829.0 271.2 L830.1 270.2 L831.1 269.1 L832.2 268.1 L833.2 267.0 L834.2 266.0 L835.2 264.9 L836.2 263.8 L837.2 262.7 L838.2 261.5 L839.2 260.3 L840.2 259.0 L841.2 257.6 L842.2 256.1 L843.2 254.5 L844.2 252.7 L845.3 250.4 L846.4 247.8 L847.5 244.8 L848.6 241.7 L849.7 238.6 L850.8 235.7 L851.9 233.0 L853.0 230.7 L854.1 228.8 L855.2 227.3 L856.3 226.1 L857.4 225.1 L858.5 224.4 L859.6 224.0 L860.7 223.9 L861.8 224.2 L862.8 224.8 L863.9 225.8 L865.0 227.0 L866.2 229.2 L867.3 232.2 L868.5 235.0 L869.6 237.3 L870.7 239.6 L871.8 241.9 L872.9 244.1 L874.0 246.4 L875.1 248.6 L876.2 250.8 L877.3 253.0 L878.4 255.2 L879.5 257.4 L880.6 259.6 L881.7 261.8 L882.8 264.0 L883.9 266.1 L885.0 268.1 L886.1 270.0 L887.2 271.8 L888.3 273.4 L889.4 274.9 L890.5 276.3 L891.6 277.7 L892.7 279.0 L893.7 280.2 L894.8 281.4 L895.8 282.6 L896.9 283.7 L897.9 284.7 L899.0 285.5 L900.0 286.3 L901.0 286.9 L902.0 287.6 L903.0 288.2 L904.0 288.8 L905.0 289.3 L906.0 289.9 L907.0 290.4 L908.0 290.9 L909.0 291.4 L910.0 291.9 L911.0 292.4 L912.0 292.8 L913.0 293.2 L914.0 293.6 L915.0 294.0 L916.0 294.3 L917.0 294.6 L918.1 295.0 L919.1 295.3 L920.1 295.6 L921.1 296.0 L922.2 296.3 L923.2 296.6 L924.2 296.9 L925.3 297.2 L926.3 297.5 L927.3 297.8 L928.3 298.1 L929.4 298.4 L930.4 298.6 L931.4 298.9 L932.5 299.2 L933.5 299.4 L934.5 299.7 L935.6 299.9 L936.6 300.1 L937.6 300.4 L938.6 300.6 L939.7 300.8 L940.7 301.0 L941.7 301.2 L942.8 301.4 L943.8 301.6 L944.8 301.8 L945.8 302.0 L946.9 302.1 L947.9 302.3 L948.9 302.5 L949.9 302.6 L951.0 302.7 L952.0 302.9 L953.0 303.0 L954.0 303.2 L955.0 303.3 L956.1 303.4 L957.1 303.5 L958.1 303.6 L959.1 303.8 L960.1 303.9 L961.1 304.0 L962.2 304.1 L963.2 304.2 L964.2 304.3 L965.2 304.4 L966.2 304.5 L967.3 304.6 L968.3 304.7 L969.3 304.7 L970.3 304.8 L971.3 304.9 L972.4 305.0 L973.4 305.1 L974.4 305.1 L975.4 305.2 L976.4 305.3 L977.5 305.4 L978.5 305.4 L979.5 305.5 L980.5 305.6 L981.5 305.6 L982.6 305.7 L983.6 305.7 L984.6 305.8 L985.6 305.9 L986.6 305.9 L987.6 306.0 L988.7 306.0 L989.7 306.1 L990.7 306.1 L991.7 306.2 L992.7 306.2 L993.8 306.3 L994.8 306.3 L995.8 306.4 L996.8 306.5 L997.8 306.5 L998.8 306.5 L999.9 306.6 L1000.9 306.6 L1001.9 306.7 L1002.9 306.7 L1003.9 306.8 L1004.9 306.8 L1005.9 306.8 L1006.9 306.9 L1008.0 306.9 L1009.0 307.0 L1010.0 307.0 L1011.0 307.0 L1012.0 307.1 L1013.0 307.1 L1014.0 307.1 L1015.0 307.2 L1016.1 307.2 L1017.1 307.2 L1018.1 307.2 L1019.1 307.3 L1020.1 307.3 L1021.1 307.3 L1022.1 307.3 L1023.1 307.4 L1024.2 307.4 L1025.2 307.4 L1026.2 307.4 L1027.2 307.4 L1028.2 307.5 L1029.2 307.5 L1030.2 307.5 L1031.2 307.5 L1032.3 307.5 L1033.3 307.6 L1034.3 307.6 L1035.3 307.6 L1036.3 307.6 L1037.3 307.6 L1038.3 307.6 L1039.3 307.7 L1040.4 307.7 L1041.4 307.7 L1042.4 307.7 L1043.4 307.7 L1044.4 307.7 L1045.4 307.8 L1046.4 307.8 L1047.4 307.8 L1048.5 307.8 L1049.5 307.8 L1050.5 307.8 L1051.5 307.9 L1052.5 307.9 L1053.5 307.9 L1054.5 307.9 L1055.5 307.9 L1056.6 307.9 L1057.6 308.0 L1058.6 308.0 L1059.6 308.0 L1060.6 308.0 L1061.6 308.0 L1062.6 308.1 L1063.6 308.1 L1064.6 308.1 L1065.6 308.1 L1066.6 308.1 L1067.6 308.1 L1068.6 308.2 L1069.6 308.2 L1070.6 308.2 L1071.7 308.2 L1072.7 308.2 L1073.7 308.2 L1074.7 308.3 L1075.7 308.3 L1076.7 308.3 L1077.7 308.3 L1078.7 308.3 L1079.7 308.3 L1080.7 308.4 L1081.7 308.4 L1082.7 308.4 L1083.7 308.4 L1084.7 308.4 L1085.7 308.4 L1086.7 308.4 L1087.7 308.5 L1088.7 308.5 L1089.7 308.5 L1090.7 308.5 L1091.7 308.5 L1092.7 308.5 L1093.8 308.5 L1094.8 308.6 L1095.8 308.6 L1096.8 308.6 L1097.8 308.6 L1098.8 308.6 L1099.8 308.6 L1100.8 308.6 L1101.8 308.7 L1102.8 308.7 L1103.8 308.7 L1104.8 308.7 L1105.8 308.7 L1106.8 308.7 L1107.8 308.7 L1108.8 308.8 L1109.8 308.8 L1110.8 308.8 L1111.8 308.8 L1112.8 308.8 L1113.8 308.8 L1114.8 308.8 L1115.8 308.8 L1116.9 308.9 L1117.9 308.9 L1118.9 308.9 L1119.9 308.9 L1120.9 308.9 L1121.9 308.9 L1122.9 308.9 L1123.9 308.9 L1124.9 309.0 L1125.9 309.0 L1126.9 309.0 L1127.9 309.0 L1128.9 309.0 L1129.9 309.0 L1130.9 309.0 L1131.9 309.1 L1132.9 309.1 L1133.9 309.1 L1134.9 309.1 L1135.9 309.1 L1136.9 309.1 L1137.9 309.1 L1139.0 309.1 L1140.0 309.2 L1141.0 309.2 L1142.0 309.2 L1143.0 309.2 L1144.0 309.2 L1145.0 309.2 L1146.0 309.2 L1147.0 309.3 L1148.0 309.3 L1149.0 309.3 L1150.0 309.3" stroke="#f030f0" stroke-width="1.5" fill="none" stroke-linejoin="round"/>
<path d="M661.0 315.0 L662.0 315.0 L663.0 315.1 L664.0 315.1 L665.1 315.1 L666.1 315.2 L667.1 315.2 L668.1 315.2 L669.1 315.3 L670.1 315.3 L671.1 315.4 L672.2 315.4 L673.2 315.5 L674.2 315.5 L675.2 315.5 L676.2 315.6 L677.2 315.6 L678.2 315.7 L679.3 315.8 L680.3 315.8 L681.3 315.9 L682.3 315.9 L683.3 316.0 L684.3 316.0 L685.3 316.1 L686.4 316.1 L687.4 316.2 L688.4 316.2 L689.4 316.3 L690.4 316.3 L691.4 316.4 L692.5 316.4 L693.5 316.4 L694.5 316.5 L695.5 316.5 L696.5 316.6 L697.5 316.6 L698.5 316.6 L699.6 316.7 L700.6 316.7 L701.6 316.7 L702.6 316.8 L703.6 316.8 L704.6 316.8 L705.6 316.8 L706.7 316.9 L707.7 316.9 L708.7 316.9 L709.7 316.9 L710.7 316.9 L711.7 316.9 L712.7 316.9 L713.8 316.9 L714.8 316.9 L715.8 316.9 L716.8 316.8 L717.8 316.8 L718.8 316.8 L719.8 316.8 L720.9 316.7 L721.9 316.7 L722.9 316.6 L723.9 316.6 L724.9 316.5 L725.9 316.5 L726.9 316.4 L728.0 316.4 L729.0 316.3 L730.0 316.3 L731.0 316.2 L732.0 316.1 L733.0 316.1 L734.0 316.0 L735.0 315.9 L736.1 315.8 L737.1 315.8 L738.1 315.7 L739.1 315.6 L740.1 315.5 L741.1 315.4 L742.1 315.3 L743.1 315.3 L744.2 315.2 L745.2 315.1 L746.2 315.0 L747.2 314.9 L748.2 314.8 L749.2 314.7 L750.2 314.6 L751.2 314.4 L752.3 314.3 L753.3 314.2 L754.3 314.1 L755.3 314.0 L756.3 313.9 L757.3 313.7 L758.3 313.6 L759.3 313.5 L760.4 313.3 L761.4 313.2 L762.4 313.1 L763.4 312.9 L764.4 312.8 L765.4 312.6 L766.4 312.5 L767.4 312.3 L768.5 312.2 L769.5 312.0 L770.5 311.8 L771.5 311.7 L772.5 311.5 L773.5 311.3 L774.5 311.2 L775.5 311.0 L776.6 310.8 L777.6 310.6 L778.6 310.4 L779.6 310.2 L780.6 310.1 L781.6 309.9 L782.6 309.7 L783.6 309.4 L784.7 309.2 L785.7 309.0 L786.7 308.8 L787.7 308.6 L788.7 308.4 L789.8 308.1 L790.8 307.9 L791.8 307.6 L792.8 307.4 L793.9 307.1 L794.9 306.8 L795.9 306.6 L797.0 306.3 L798.0 305.9 L799.0 305.6 L800.0 305.3 L801.1 304.9 L802.1 304.6 L803.1 304.2 L804.2 303.8 L805.2 303.4 L806.2 303.0 L807.3 302.5 L808.3 302.1 L809.3 301.6 L810.3 301.1 L811.4 300.6 L812.4 300.1 L813.4 299.6 L814.5 299.0 L815.5 298.4 L816.5 297.8 L817.5 297.2 L818.6 296.6 L819.6 295.9 L820.6 295.2 L821.6 294.5 L822.6 293.7 L823.6 292.9 L824.7 292.0 L825.7 291.1 L826.7 290.1 L827.7 289.1 L828.7 288.0 L829.7 286.9 L830.7 285.8 L831.7 284.6 L832.7 283.4 L833.7 282.1 L834.8 280.8 L835.8 279.4 L836.8 278.0 L837.8 276.6 L838.8 275.1 L839.9 273.3 L841.0 271.2 L842.1 268.8 L843.2 266.2 L844.2 263.5 L845.3 260.7 L846.4 258.0 L847.5 255.3 L848.6 252.7 L849.7 249.9 L850.9 247.1 L852.0 245.0 L853.1 243.6 L854.3 242.7 L855.5 242.0 L856.6 241.7 L857.7 241.7 L858.8 241.9 L859.9 242.5 L861.0 243.5 L862.0 244.8 L863.0 246.3 L864.0 248.1 L865.0 250.0 L866.0 252.0 L867.1 254.4 L868.3 256.9 L869.5 259.6 L870.6 262.2 L871.8 264.7 L872.9 267.0 L874.0 269.0 L875.0 271.0 L876.1 273.0 L877.1 274.9 L878.2 276.8 L879.3 278.7 L880.3 280.5 L881.4 282.2 L882.4 283.9 L883.5 285.5 L884.6 287.1 L885.6 288.6 L886.7 290.0 L887.8 291.4 L888.8 292.8 L889.9 294.1 L891.0 295.4 L892.0 296.7 L893.1 298.0 L894.2 299.3 L895.2 300.7 L896.3 302.0 L897.5 303.6 L898.8 305.1 L900.0 306.5 L901.0 307.5 L902.0 308.5 L903.0 309.4 L904.0 310.3 L905.0 311.0 L906.0 311.7 L907.0 312.3 L908.0 312.9 L909.0 313.6 L910.0 314.2 L911.0 314.7 L912.0 315.3 L913.0 315.8 L914.0 316.2 L915.0 316.7 L916.0 317.0 L917.0 317.3 L918.1 317.6 L919.1 318.0 L920.1 318.3 L921.1 318.6 L922.2 318.9 L923.2 319.2 L924.2 319.5 L925.3 319.7 L926.3 320.0 L927.3 320.3 L928.3 320.6 L929.4 320.8 L930.4 321.1 L931.4 321.3 L932.5 321.6 L933.5 321.8 L934.5 322.1 L935.6 322.3 L936.6 322.5 L937.6 322.8 L938.6 323.0 L939.7 323.2 L940.7 323.4 L941.7 323.6 L942.8 323.8 L943.8 323.9 L944.8 324.1 L945.8 324.3 L946.9 324.4 L947.9 324.6 L948.9 324.7 L949.9 324.9 L951.0 325.0 L952.0 325.2 L953.0 325.3 L954.0 325.4 L955.0 325.6 L956.1 325.7 L957.1 325.8 L958.1 325.9 L959.1 326.1 L960.1 326.2 L961.1 326.3 L962.2 326.4 L963.2 326.5 L964.2 326.6 L965.2 326.7 L966.2 326.8 L967.3 326.9 L968.3 327.0 L969.3 327.1 L970.3 327.1 L971.3 327.2 L972.4 327.3 L973.4 327.4 L974.4 327.5 L975.4 327.6 L976.4 327.6 L977.5 327.7 L978.5 327.8 L979.5 327.8 L980.5 327.9 L981.5 328.0 L982.6 328.0 L983.6 328.1 L984.6 328.2 L985.6 328.2 L986.6 328.3 L987.6 328.4 L988.7 328.4 L989.7 328.5 L990.7 328.5 L991.7 328.6 L992.7 328.6 L993.8 328.7 L994.8 328.7 L995.8 328.8 L996.8 328.9 L997.8 328.9 L998.8 329.0 L999.9 329.0 L1000.9 329.0 L1001.9 329.1 L1002.9 329.1 L1003.9 329.2 L1004.9 329.2 L1005.9 329.3 L1006.9 329.3 L1008.0 329.3 L1009.0 329.4 L1010.0 329.4 L1011.0 329.4 L1012.0 329.5 L1013.0 329.5 L1014.0 329.5 L1015.0 329.6 L1016.1 329.6 L1017.1 329.6 L1018.1 329.6 L1019.1 329.7 L1020.1 329.7 L1021.1 329.7 L1022.1 329.7 L1023.1 329.8 L1024.2 329.8 L1025.2 329.8 L1026.2 329.8 L1027.2 329.9 L1028.2 329.9 L1029.2 329.9 L1030.2 329.9 L1031.2 329.9 L1032.3 330.0 L1033.3 330.0 L1034.3 330.0 L1035.3 330.0 L1036.3 330.0 L1037.3 330.0 L1038.3 330.1 L1039.3 330.1 L1040.4 330.1 L1041.4 330.1 L1042.4 330.1 L1043.4 330.1 L1044.4 330.2 L1045.4 330.2 L1046.4 330.2 L1047.4 330.2 L1048.5 330.2 L1049.5 330.2 L1050.5 330.2 L1051.5 330.3 L1052.5 330.3 L1053.5 330.3 L1054.5 330.3 L1055.5 330.3 L1056.6 330.3 L1057.6 330.4 L1058.6 330.4 L1059.6 330.4 L1060.6 330.4 L1061.6 330.4 L1062.6 330.5 L1063.6 330.5 L1064.6 330.5 L1065.6 330.5 L1066.6 330.5 L1067.6 330.5 L1068.6 330.6 L1069.6 330.6 L1070.6 330.6 L1071.7 330.6 L1072.7 330.6 L1073.7 330.6 L1074.7 330.7 L1075.7 330.7 L1076.7 330.7 L1077.7 330.7 L1078.7 330.7 L1079.7 330.7 L1080.7 330.7 L1081.7 330.8 L1082.7 330.8 L1083.7 330.8 L1084.7 330.8 L1085.7 330.8 L1086.7 330.8 L1087.7 330.8 L1088.7 330.9 L1089.7 330.9 L1090.7 330.9 L1091.7 330.9 L1092.7 330.9 L1093.8 330.9 L1094.8 330.9 L1095.8 330.9 L1096.8 331.0 L1097.8 331.0 L1098.8 331.0 L1099.8 331.0 L1100.8 331.0 L1101.8 331.0 L1102.8 331.0 L1103.8 331.0 L1104.8 331.1 L1105.8 331.1 L1106.8 331.1 L1107.8 331.1 L1108.8 331.1 L1109.8 331.1 L1110.8 331.1 L1111.8 331.1 L1112.8 331.2 L1113.8 331.2 L1114.8 331.2 L1115.8 331.2 L1116.9 331.2 L1117.9 331.2 L1118.9 331.2 L1119.9 331.2 L1120.9 331.2 L1121.9 331.3 L1122.9 331.3 L1123.9 331.3 L1124.9 331.3 L1125.9 331.3 L1126.9 331.3 L1127.9 331.3 L1128.9 331.3 L1129.9 331.4 L1130.9 331.4 L1131.9 331.4 L1132.9 331.4 L1133.9 331.4 L1134.9 331.4 L1135.9 331.4 L1136.9 331.4 L1137.9 331.4 L1139.0 331.5 L1140.0 331.5 L1141.0 331.5 L1142.0 331.5 L1143.0 331.5 L1144.0 331.5 L1145.0 331.5 L1146.0 331.5 L1147.0 331.6 L1148.0 331.6 L1149.0 331.6 L1150.0 331.6" stroke="#2030f0" stroke-width="1.5" fill="none" stroke-linejoin="round"/>
<path d="M661.0 334.2 L662.0 334.2 L663.0 334.3 L664.1 334.4 L665.1 334.4 L666.1 334.5 L667.1 334.5 L668.1 334.6 L669.2 334.7 L670.2 334.7 L671.2 334.8 L672.2 334.9 L673.2 335.0 L674.3 335.0 L675.3 335.1 L676.3 335.2 L677.3 335.2 L678.3 335.3 L679.4 335.4 L680.4 335.5 L681.4 335.5 L682.4 335.6 L683.4 335.7 L684.5 335.7 L685.5 335.8 L686.5 335.9 L687.5 335.9 L688.5 336.0 L689.5 336.1 L690.6 336.1 L691.6 336.2 L692.6 336.2 L693.6 336.3 L694.6 336.3 L695.7 336.3 L696.7 336.4 L697.7 336.4 L698.7 336.4 L699.7 336.4 L700.8 336.5 L701.8 336.5 L702.8 336.5 L703.8 336.5 L704.8 336.5 L705.9 336.4 L706.9 336.4 L707.9 336.4 L708.9 336.4 L709.9 336.3 L710.9 336.3 L712.0 336.3 L713.0 336.2 L714.0 336.2 L715.0 336.2 L716.0 336.1 L717.0 336.1 L718.0 336.0 L719.0 336.0 L720.1 335.9 L721.1 335.9 L722.1 335.8 L723.1 335.8 L724.1 335.7 L725.1 335.7 L726.1 335.6 L727.1 335.5 L728.2 335.5 L729.2 335.4 L730.2 335.3 L731.2 335.3 L732.2 335.2 L733.2 335.1 L734.2 335.0 L735.2 335.0 L736.3 334.9 L737.3 334.8 L738.3 334.7 L739.3 334.6 L740.3 334.6 L741.3 334.5 L742.3 334.4 L743.3 334.3 L744.4 334.2 L745.4 334.1 L746.4 334.0 L747.4 333.9 L748.4 333.8 L749.4 333.7 L750.4 333.6 L751.4 333.5 L752.5 333.4 L753.5 333.3 L754.5 333.2 L755.5 333.1 L756.5 332.9 L757.5 332.8 L758.5 332.7 L759.5 332.6 L760.6 332.5 L761.6 332.3 L762.6 332.2 L763.6 332.1 L764.6 332.0 L765.6 331.8 L766.6 331.7 L767.6 331.6 L768.7 331.4 L769.7 331.3 L770.7 331.1 L771.7 331.0 L772.7 330.8 L773.7 330.7 L774.7 330.5 L775.8 330.3 L776.8 330.0 L777.8 329.8 L778.8 329.5 L779.8 329.2 L780.8 329.0 L781.8 328.6 L782.8 328.3 L783.9 328.0 L784.9 327.7 L785.9 327.3 L786.9 327.0 L787.9 326.6 L788.9 326.3 L789.9 325.9 L790.9 325.5 L792.0 325.1 L793.0 324.8 L794.0 324.4 L795.0 324.0 L796.0 323.6 L797.0 323.2 L798.0 322.8 L799.1 322.4 L800.1 322.0 L801.1 321.6 L802.1 321.2 L803.1 320.8 L804.1 320.3 L805.2 319.8 L806.2 319.4 L807.2 318.9 L808.2 318.4 L809.2 317.8 L810.2 317.3 L811.3 316.7 L812.3 316.1 L813.3 315.5 L814.4 314.8 L815.4 314.1 L816.5 313.3 L817.6 312.5 L818.6 311.6 L819.7 310.7 L820.7 309.8 L821.8 308.8 L822.9 307.7 L823.9 306.6 L825.0 305.5 L826.1 304.3 L827.1 303.1 L828.2 301.8 L829.2 300.5 L830.3 299.1 L831.4 297.6 L832.4 296.1 L833.5 294.5 L834.5 292.8 L835.6 291.1 L836.7 289.2 L837.7 287.0 L838.8 284.6 L839.9 282.1 L840.9 279.5 L842.0 277.0 L843.1 274.3 L844.2 271.4 L845.3 268.6 L846.4 266.0 L847.4 263.9 L848.5 262.2 L849.5 261.0 L850.5 260.2 L851.5 259.7 L852.5 259.4 L853.5 259.3 L854.6 259.3 L855.8 259.5 L856.9 259.8 L858.0 260.5 L859.0 261.3 L860.1 262.1 L861.1 263.0 L862.2 264.1 L863.2 265.4 L864.3 267.0 L865.4 269.2 L866.6 271.8 L867.7 274.7 L868.9 277.5 L870.0 280.0 L871.0 282.0 L872.1 283.9 L873.1 285.7 L874.1 287.6 L875.1 289.3 L876.2 291.1 L877.2 292.8 L878.2 294.6 L879.3 296.3 L880.3 298.0 L881.3 299.7 L882.3 301.3 L883.3 303.0 L884.3 304.7 L885.3 306.3 L886.3 307.9 L887.3 309.6 L888.3 311.2 L889.3 312.8 L890.3 314.5 L891.3 316.1 L892.3 317.7 L893.3 319.3 L894.3 320.9 L895.3 322.4 L896.3 324.0 L897.5 325.8 L898.8 327.4 L900.0 328.8 L901.0 329.9 L902.0 330.9 L903.0 331.9 L904.0 332.8 L905.0 333.5 L906.0 334.2 L907.0 334.8 L908.0 335.5 L909.0 336.1 L910.0 336.7 L911.0 337.3 L912.0 337.8 L913.0 338.3 L914.0 338.8 L915.0 339.2 L916.0 339.5 L917.0 339.8 L918.1 340.1 L919.1 340.4 L920.1 340.7 L921.1 341.0 L922.2 341.2 L923.2 341.5 L924.2 341.8 L925.3 342.0 L926.3 342.3 L927.3 342.5 L928.3 342.8 L929.4 343.0 L930.4 343.2 L931.4 343.4 L932.5 343.7 L933.5 343.9 L934.5 344.1 L935.6 344.3 L936.6 344.5 L937.6 344.7 L938.6 344.9 L939.7 345.0 L940.7 345.2 L941.7 345.4 L942.8 345.5 L943.8 345.7 L944.8 345.9 L945.8 346.0 L946.9 346.2 L947.9 346.3 L948.9 346.4 L949.9 346.6 L951.0 346.7 L952.0 346.8 L953.0 346.9 L954.0 347.1 L955.0 347.2 L956.1 347.3 L957.1 347.4 L958.1 347.5 L959.1 347.6 L960.1 347.7 L961.1 347.8 L962.2 347.9 L963.2 348.0 L964.2 348.1 L965.2 348.2 L966.2 348.3 L967.3 348.4 L968.3 348.4 L969.3 348.5 L970.3 348.6 L971.3 348.7 L972.4 348.8 L973.4 348.8 L974.4 348.9 L975.4 349.0 L976.4 349.1 L977.5 349.1 L978.5 349.2 L979.5 349.3 L980.5 349.3 L981.5 349.4 L982.6 349.4 L983.6 349.5 L984.6 349.6 L985.6 349.6 L986.6 349.7 L987.6 349.7 L988.7 349.8 L989.7 349.9 L990.7 349.9 L991.7 350.0 L992.7 350.0 L993.8 350.1 L994.8 350.1 L995.8 350.2 L996.8 350.3 L997.8 350.3 L998.8 350.4 L999.9 350.4 L1000.9 350.5 L1001.9 350.5 L1002.9 350.6 L1003.9 350.6 L1004.9 350.7 L1005.9 350.7 L1006.9 350.8 L1008.0 350.8 L1009.0 350.8 L1010.0 350.9 L1011.0 350.9 L1012.0 351.0 L1013.0 351.0 L1014.0 351.1 L1015.0 351.1 L1016.1 351.1 L1017.1 351.2 L1018.1 351.2 L1019.1 351.2 L1020.1 351.3 L1021.1 351.3 L1022.1 351.4 L1023.1 351.4 L1024.2 351.4 L1025.2 351.5 L1026.2 351.5 L1027.2 351.5 L1028.2 351.6 L1029.2 351.6 L1030.2 351.6 L1031.2 351.6 L1032.3 351.7 L1033.3 351.7 L1034.3 351.7 L1035.3 351.8 L1036.3 351.8 L1037.3 351.8 L1038.3 351.9 L1039.3 351.9 L1040.4 351.9 L1041.4 351.9 L1042.4 352.0 L1043.4 352.0 L1044.4 352.0 L1045.4 352.0 L1046.4 352.1 L1047.4 352.1 L1048.5 352.1 L1049.5 352.1 L1050.5 352.2 L1051.5 352.2 L1052.5 352.2 L1053.5 352.2 L1054.5 352.3 L1055.5 352.3 L1056.6 352.3 L1057.6 352.4 L1058.6 352.4 L1059.6 352.4 L1060.6 352.4 L1061.6 352.4 L1062.6 352.5 L1063.6 352.5 L1064.6 352.5 L1065.6 352.5 L1066.6 352.6 L1067.6 352.6 L1068.6 352.6 L1069.6 352.6 L1070.6 352.7 L1071.7 352.7 L1072.7 352.7 L1073.7 352.7 L1074.7 352.7 L1075.7 352.8 L1076.7 352.8 L1077.7 352.8 L1078.7 352.8 L1079.7 352.8 L1080.7 352.9 L1081.7 352.9 L1082.7 352.9 L1083.7 352.9 L1084.7 352.9 L1085.7 353.0 L1086.7 353.0 L1087.7 353.0 L1088.7 353.0 L1089.7 353.0 L1090.7 353.0 L1091.7 353.1 L1092.7 353.1 L1093.8 353.1 L1094.8 353.1 L1095.8 353.1 L1096.8 353.1 L1097.8 353.2 L1098.8 353.2 L1099.8 353.2 L1100.8 353.2 L1101.8 353.2 L1102.8 353.2 L1103.8 353.3 L1104.8 353.3 L1105.8 353.3 L1106.8 353.3 L1107.8 353.3 L1108.8 353.3 L1109.8 353.4 L1110.8 353.4 L1111.8 353.4 L1112.8 353.4 L1113.8 353.4 L1114.8 353.4 L1115.8 353.5 L1116.9 353.5 L1117.9 353.5 L1118.9 353.5 L1119.9 353.5 L1120.9 353.5 L1121.9 353.5 L1122.9 353.6 L1123.9 353.6 L1124.9 353.6 L1125.9 353.6 L1126.9 353.6 L1127.9 353.6 L1128.9 353.7 L1129.9 353.7 L1130.9 353.7 L1131.9 353.7 L1132.9 353.7 L1133.9 353.7 L1134.9 353.7 L1135.9 353.8 L1136.9 353.8 L1137.9 353.8 L1139.0 353.8 L1140.0 353.8 L1141.0 353.8 L1142.0 353.9 L1143.0 353.9 L1144.0 353.9 L1145.0 353.9 L1146.0 353.9 L1147.0 353.9 L1148.0 354.0 L1149.0 354.0 L1150.0 354.0" stroke="#f02020" stroke-width="1.5" fill="none" stroke-linejoin="round"/>
<path d="M661.0 355.0 L662.0 355.1 L663.0 355.2 L664.0 355.3 L665.0 355.4 L666.0 355.5 L667.0 355.6 L668.0 355.7 L669.0 355.8 L670.0 356.0 L671.0 356.1 L672.0 356.2 L673.0 356.3 L674.0 356.4 L675.0 356.5 L676.0 356.6 L677.0 356.7 L678.0 356.8 L679.0 356.9 L680.0 357.0 L681.0 357.1 L682.0 357.2 L683.0 357.2 L684.0 357.3 L685.0 357.4 L686.0 357.4 L687.0 357.5 L688.0 357.6 L689.1 357.6 L690.1 357.6 L691.2 357.7 L692.2 357.7 L693.3 357.7 L694.3 357.8 L695.4 357.8 L696.4 357.8 L697.5 357.8 L698.5 357.8 L699.5 357.8 L700.6 357.8 L701.6 357.8 L702.7 357.7 L703.7 357.7 L704.8 357.7 L705.8 357.6 L706.9 357.6 L707.9 357.5 L708.9 357.4 L709.9 357.4 L711.0 357.3 L712.0 357.3 L713.0 357.2 L714.0 357.1 L715.0 357.1 L716.1 357.0 L717.1 356.9 L718.1 356.9 L719.1 356.8 L720.1 356.7 L721.1 356.7 L722.2 356.6 L723.2 356.5 L724.2 356.5 L725.2 356.4 L726.2 356.3 L727.3 356.2 L728.3 356.2 L729.3 356.1 L730.3 356.0 L731.3 355.9 L732.4 355.8 L733.4 355.8 L734.4 355.7 L735.4 355.6 L736.4 355.5 L737.5 355.4 L738.5 355.3 L739.5 355.2 L740.5 355.1 L741.5 355.0 L742.6 354.9 L743.6 354.8 L744.6 354.7 L745.6 354.6 L746.6 354.5 L747.6 354.3 L748.7 354.2 L749.7 354.1 L750.7 354.0 L751.7 353.9 L752.7 353.7 L753.8 353.6 L754.8 353.4 L755.8 353.3 L756.8 353.2 L757.8 353.0 L758.8 352.8 L759.8 352.7 L760.8 352.5 L761.8 352.3 L762.9 352.1 L763.9 351.9 L764.9 351.6 L765.9 351.4 L766.9 351.2 L767.9 350.9 L768.9 350.7 L769.9 350.4 L770.9 350.2 L771.9 349.9 L772.9 349.6 L773.9 349.4 L774.9 349.1 L776.0 348.8 L777.0 348.5 L778.0 348.2 L779.0 347.9 L780.0 347.6 L781.0 347.3 L782.0 347.0 L783.0 346.7 L784.1 346.4 L785.1 346.0 L786.1 345.7 L787.2 345.4 L788.2 345.0 L789.2 344.7 L790.3 344.3 L791.3 343.9 L792.3 343.5 L793.4 343.2 L794.4 342.8 L795.4 342.3 L796.5 341.9 L797.5 341.5 L798.5 341.0 L799.6 340.5 L800.6 340.1 L801.6 339.6 L802.7 339.0 L803.7 338.5 L804.7 337.9 L805.8 337.3 L806.8 336.7 L807.8 336.0 L808.8 335.2 L809.9 334.4 L810.9 333.5 L811.9 332.6 L812.9 331.6 L814.0 330.6 L815.0 329.5 L816.0 328.4 L817.0 327.2 L818.0 325.9 L819.0 324.5 L820.0 323.2 L821.0 321.7 L822.0 320.2 L823.0 318.7 L824.0 317.2 L825.0 315.6 L826.0 314.0 L827.0 312.3 L828.0 310.6 L829.0 308.8 L830.0 306.9 L831.0 305.0 L832.0 303.1 L833.0 301.2 L834.0 299.3 L835.0 297.5 L836.0 295.7 L837.0 293.8 L838.0 292.0 L839.0 290.2 L840.0 288.4 L841.0 286.7 L842.0 285.0 L843.1 283.2 L844.2 281.4 L845.4 279.8 L846.5 278.5 L847.6 277.5 L848.7 276.6 L849.8 276.1 L850.9 275.8 L852.0 275.8 L853.2 276.1 L854.4 276.7 L855.5 277.5 L856.6 278.5 L857.8 279.8 L858.9 281.2 L860.1 282.8 L861.2 284.7 L862.3 286.7 L863.3 288.7 L864.4 290.8 L865.4 292.9 L866.5 295.1 L867.6 297.3 L868.6 299.5 L869.7 301.8 L870.7 304.0 L871.8 306.2 L872.9 308.4 L873.9 310.5 L875.0 312.6 L876.0 314.6 L877.1 316.6 L878.1 318.4 L879.1 320.1 L880.1 321.9 L881.1 323.6 L882.1 325.2 L883.1 326.9 L884.1 328.5 L885.1 330.1 L886.1 331.6 L887.1 333.2 L888.1 334.7 L889.1 336.3 L890.1 337.8 L891.1 339.2 L892.1 340.7 L893.1 342.2 L894.2 343.8 L895.4 345.4 L896.5 346.8 L897.7 348.1 L898.9 349.2 L900.0 350.2 L901.0 351.0 L902.0 351.7 L903.0 352.4 L904.0 353.1 L905.0 353.8 L906.0 354.5 L907.0 355.1 L908.0 355.7 L909.0 356.3 L910.0 356.9 L911.0 357.5 L912.0 358.0 L913.0 358.4 L914.0 358.9 L915.0 359.3 L916.0 359.7 L917.0 360.1 L918.1 360.4 L919.1 360.8 L920.1 361.1 L921.1 361.5 L922.2 361.8 L923.2 362.1 L924.2 362.4 L925.3 362.7 L926.3 363.0 L927.3 363.3 L928.3 363.6 L929.4 363.9 L930.4 364.2 L931.4 364.4 L932.5 364.7 L933.5 364.9 L934.5 365.2 L935.6 365.4 L936.6 365.6 L937.6 365.8 L938.6 366.1 L939.7 366.3 L940.7 366.5 L941.7 366.7 L942.8 366.8 L943.8 367.0 L944.8 367.2 L945.8 367.4 L946.9 367.5 L947.9 367.7 L948.9 367.9 L949.9 368.0 L951.0 368.1 L952.0 368.3 L953.0 368.4 L954.0 368.6 L955.0 368.7 L956.1 368.8 L957.1 368.9 L958.1 369.1 L959.1 369.2 L960.1 369.3 L961.1 369.4 L962.2 369.5 L963.2 369.6 L964.2 369.7 L965.2 369.8 L966.2 369.9 L967.3 370.0 L968.3 370.1 L969.3 370.2 L970.3 370.2 L971.3 370.3 L972.4 370.4 L973.4 370.5 L974.4 370.6 L975.4 370.6 L976.4 370.7 L977.5 370.8 L978.5 370.9 L979.5 370.9 L980.5 371.0 L981.5 371.1 L982.6 371.1 L983.6 371.2 L984.6 371.2 L985.6 371.3 L986.6 371.4 L987.6 371.4 L988.7 371.5 L989.7 371.5 L990.7 371.6 L991.7 371.7 L992.7 371.7 L993.8 371.8 L994.8 371.8 L995.8 371.9 L996.8 372.0 L997.8 372.0 L998.8 372.1 L999.9 372.1 L1000.9 372.2 L1001.9 372.2 L1002.9 372.3 L1003.9 372.3 L1004.9 372.4 L1005.9 372.4 L1006.9 372.5 L1008.0 372.5 L1009.0 372.6 L1010.0 372.6 L1011.0 372.7 L1012.0 372.7 L1013.0 372.7 L1014.0 372.8 L1015.0 372.8 L1016.1 372.9 L1017.1 372.9 L1018.1 372.9 L1019.1 373.0 L1020.1 373.0 L1021.1 373.0 L1022.1 373.1 L1023.1 373.1 L1024.2 373.1 L1025.2 373.2 L1026.2 373.2 L1027.2 373.2 L1028.2 373.3 L1029.2 373.3 L1030.2 373.3 L1031.2 373.4 L1032.3 373.4 L1033.3 373.4 L1034.3 373.5 L1035.3 373.5 L1036.3 373.5 L1037.3 373.5 L1038.3 373.6 L1039.3 373.6 L1040.4 373.6 L1041.4 373.6 L1042.4 373.7 L1043.4 373.7 L1044.4 373.7 L1045.4 373.8 L1046.4 373.8 L1047.4 373.8 L1048.5 373.8 L1049.5 373.9 L1050.5 373.9 L1051.5 373.9 L1052.5 373.9 L1053.5 374.0 L1054.5 374.0 L1055.5 374.0 L1056.6 374.0 L1057.6 374.1 L1058.6 374.1 L1059.6 374.1 L1060.6 374.1 L1061.6 374.1 L1062.6 374.2 L1063.6 374.2 L1064.6 374.2 L1065.6 374.2 L1066.6 374.3 L1067.6 374.3 L1068.6 374.3 L1069.6 374.3 L1070.6 374.4 L1071.7 374.4 L1072.7 374.4 L1073.7 374.4 L1074.7 374.4 L1075.7 374.5 L1076.7 374.5 L1077.7 374.5 L1078.7 374.5 L1079.7 374.5 L1080.7 374.6 L1081.7 374.6 L1082.7 374.6 L1083.7 374.6 L1084.7 374.6 L1085.7 374.7 L1086.7 374.7 L1087.7 374.7 L1088.7 374.7 L1089.7 374.7 L1090.7 374.7 L1091.7 374.8 L1092.7 374.8 L1093.8 374.8 L1094.8 374.8 L1095.8 374.8 L1096.8 374.8 L1097.8 374.9 L1098.8 374.9 L1099.8 374.9 L1100.8 374.9 L1101.8 374.9 L1102.8 374.9 L1103.8 375.0 L1104.8 375.0 L1105.8 375.0 L1106.8 375.0 L1107.8 375.0 L1108.8 375.0 L1109.8 375.1 L1110.8 375.1 L1111.8 375.1 L1112.8 375.1 L1113.8 375.1 L1114.8 375.1 L1115.8 375.2 L1116.9 375.2 L1117.9 375.2 L1118.9 375.2 L1119.9 375.2 L1120.9 375.2 L1121.9 375.2 L1122.9 375.3 L1123.9 375.3 L1124.9 375.3 L1125.9 375.3 L1126.9 375.3 L1127.9 375.3 L1128.9 375.4 L1129.9 375.4 L1130.9 375.4 L1131.9 375.4 L1132.9 375.4 L1133.9 375.4 L1134.9 375.4 L1135.9 375.5 L1136.9 375.5 L1137.9 375.5 L1139.0 375.5 L1140.0 375.5 L1141.0 375.5 L1142.0 375.6 L1143.0 375.6 L1144.0 375.6 L1145.0 375.6 L1146.0 375.6 L1147.0 375.6 L1148.0 375.7 L1149.0 375.7 L1150.0 375.7" stroke="#101010" stroke-width="1.5" fill="none" stroke-linejoin="round"/>
<path d="M969.2 150 L1150 150.3" stroke="#2050a8" stroke-width="1.5" fill="none"/>
<text x="1074.1" y="32.8" textLength="65.0" lengthAdjust="spacing" fill="#20bcc8" stroke="#20bcc8" stroke-width="0.45" font-size="12.6" font-weight="bold">&#923;=550nm</text>
<text x="1079.0" y="53.5" textLength="64.4" lengthAdjust="spacing" fill="#7a1a7a" stroke="#7a1a7a" stroke-width="0.45" font-size="12.6" font-weight="bold">&#923;=530nm</text>
<text x="1077.5" y="75.0" textLength="63.0" lengthAdjust="spacing" fill="#1a8a1a" stroke="#1a8a1a" stroke-width="0.45" font-size="12.6" font-weight="bold">&#923;=510nm</text>
<text x="1077.0" y="98.5" textLength="64.0" lengthAdjust="spacing" fill="#5a1a0a" stroke="#5a1a0a" stroke-width="0.45" font-size="12.6" font-weight="bold">&#923;=490nm</text>
<text x="1076.0" y="120.3" textLength="66.0" lengthAdjust="spacing" fill="#1a7a7a" stroke="#1a7a7a" stroke-width="0.45" font-size="12.6" font-weight="bold">&#923;=470nm</text>
<text x="1079.0" y="143.8" textLength="64.4" lengthAdjust="spacing" fill="#1a2a9a" stroke="#1a2a9a" stroke-width="0.45" font-size="12.6" font-weight="bold">&#923;=450nm</text>
<text x="1076.1" y="165.8" textLength="65.0" lengthAdjust="spacing" fill="#8a8a1a" stroke="#8a8a1a" stroke-width="0.45" font-size="12.6" font-weight="bold">&#923;=430nm</text>
<text x="1077.0" y="189.5" textLength="63.5" lengthAdjust="spacing" fill="#8a1a1a" stroke="#8a1a1a" stroke-width="0.45" font-size="12.6" font-weight="bold">&#923;=410nm</text>
<text x="1077.0" y="217.2" textLength="64.1" lengthAdjust="spacing" fill="#7a1a7a" stroke="#7a1a7a" stroke-width="0.45" font-size="12.6" font-weight="bold">&#923;=390nm</text>
<text x="1077.5" y="238.1" textLength="65.9" lengthAdjust="spacing" fill="#9a2af0" stroke="#9a2af0" stroke-width="0.45" font-size="12.6" font-weight="bold">&#923;=370nm</text>
<text x="1077.2" y="258.4" textLength="63.8" lengthAdjust="spacing" fill="#1a1a6a" stroke="#1a1a6a" stroke-width="0.45" font-size="12.6" font-weight="bold">&#923;=350nm</text>
<text x="1077.2" y="280.8" textLength="63.8" lengthAdjust="spacing" fill="#1a8a1a" stroke="#1a8a1a" stroke-width="0.45" font-size="12.6" font-weight="bold">&#923;=330nm</text>
<text x="1077.2" y="304.4" textLength="64.8" lengthAdjust="spacing" fill="#f02af0" stroke="#f02af0" stroke-width="0.45" font-size="12.6" font-weight="bold">&#923;=310nm</text>
<text x="1078.8" y="323.6" textLength="63.2" lengthAdjust="spacing" fill="#1a2af0" stroke="#1a2af0" stroke-width="0.45" font-size="12.6" font-weight="bold">&#923;=290nm</text>
<text x="1079.4" y="345.9" textLength="65.8" lengthAdjust="spacing" fill="#f01a1a" stroke="#f01a1a" stroke-width="0.45" font-size="12.6" font-weight="bold">&#923;=270nm</text>
<text x="1080.4" y="369.2" textLength="64.8" lengthAdjust="spacing" fill="#101010" stroke="#101010" stroke-width="0.45" font-size="12.6" font-weight="bold">&#923;=250nm</text>
</svg>
</body></html>
